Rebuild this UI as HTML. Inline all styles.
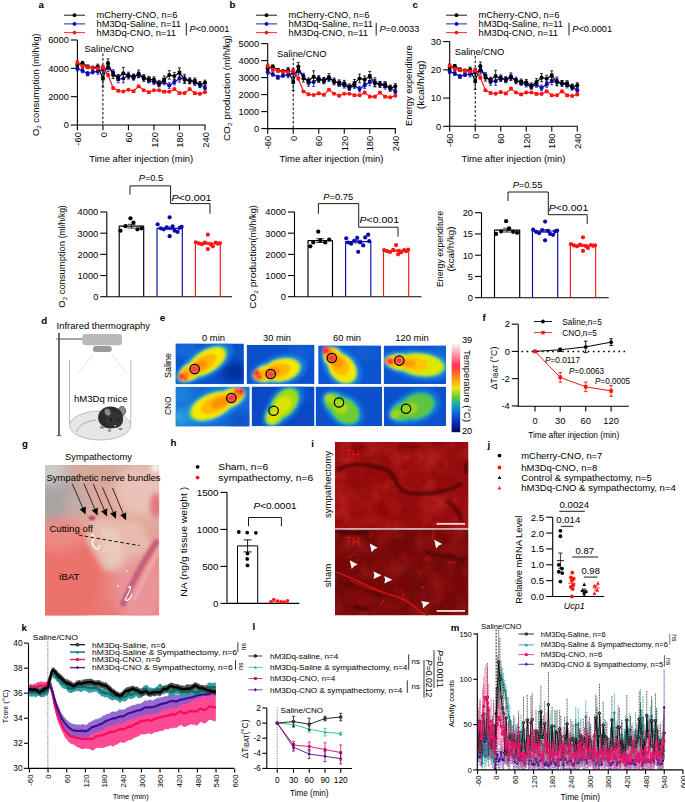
<!DOCTYPE html>
<html><head><meta charset="utf-8"><title>Figure</title>
<style>
html,body{margin:0;padding:0;background:#fff;}
svg{display:block;font-family:"Liberation Sans",sans-serif;}
</style></head><body>
<svg width="685" height="802" viewBox="0 0 685 802" shape-rendering="geometricPrecision">
<rect x="0" y="0" width="685" height="802" fill="#fff"/>
<text x="38.5" y="7.57" font-size="9.7" font-weight="bold">a</text>
<line x1="64" y1="15.2" x2="85" y2="15.2" stroke="#000" stroke-width="0.9"/>
<circle cx="74.5" cy="15.2" r="1.9" fill="#000" stroke="none" stroke-width="0"/>
<text x="96.5" y="18.28" font-size="8.6" textLength="81" lengthAdjust="spacingAndGlyphs">mCherry-CNO, n=6</text>
<line x1="64" y1="23.9" x2="85" y2="23.9" stroke="#0a0aa8" stroke-width="0.9"/>
<circle cx="74.5" cy="23.9" r="1.9" fill="#0a0aa8" stroke="none" stroke-width="0"/>
<text x="96.5" y="26.98" font-size="8.6" textLength="84.5" lengthAdjust="spacingAndGlyphs">hM3Dq-Saline, n=11</text>
<line x1="64" y1="32.6" x2="85" y2="32.6" stroke="#ff1414" stroke-width="0.9"/>
<circle cx="74.5" cy="32.6" r="1.9" fill="#ff1414" stroke="none" stroke-width="0"/>
<text x="96.5" y="35.68" font-size="8.6" textLength="79.5" lengthAdjust="spacingAndGlyphs">hM3Dq-CNO, n=11</text>
<line x1="186.3" y1="22.8" x2="186.3" y2="35.5" stroke="#000" stroke-width="0.9"/>
<text x="189.5" y="31.75" font-size="8.8" textLength="40" lengthAdjust="spacingAndGlyphs"><tspan font-style="italic">P</tspan>&lt;0.0001</text>
<line x1="77.4" y1="40" x2="77.4" y2="125" stroke="#000" stroke-width="1.1"/>
<line x1="76.95" y1="125" x2="205.45" y2="125" stroke="#000" stroke-width="1.1"/>
<line x1="70.9" y1="125" x2="77.4" y2="125" stroke="#000" stroke-width="1.1"/>
<text x="68.9" y="128.33" font-size="9.3" text-anchor="end">0</text>
<line x1="70.9" y1="96.67" x2="77.4" y2="96.67" stroke="#000" stroke-width="1.1"/>
<text x="68.9" y="100" font-size="9.3" text-anchor="end">2000</text>
<line x1="70.9" y1="68.33" x2="77.4" y2="68.33" stroke="#000" stroke-width="1.1"/>
<text x="68.9" y="71.66" font-size="9.3" text-anchor="end">4000</text>
<line x1="70.9" y1="40" x2="77.4" y2="40" stroke="#000" stroke-width="1.1"/>
<text x="68.9" y="43.33" font-size="9.3" text-anchor="end">6000</text>
<line x1="77.4" y1="125" x2="77.4" y2="130.2" stroke="#000" stroke-width="1.1"/>
<text transform="translate(77.7 132.2) rotate(-90)" x="0" y="3.33" font-size="9.3" text-anchor="end">-60</text>
<line x1="102.92" y1="125" x2="102.92" y2="130.2" stroke="#000" stroke-width="1.1"/>
<text transform="translate(103.22 132.2) rotate(-90)" x="0" y="3.33" font-size="9.3" text-anchor="end">0</text>
<line x1="128.44" y1="125" x2="128.44" y2="130.2" stroke="#000" stroke-width="1.1"/>
<text transform="translate(128.74 132.2) rotate(-90)" x="0" y="3.33" font-size="9.3" text-anchor="end">60</text>
<line x1="153.96" y1="125" x2="153.96" y2="130.2" stroke="#000" stroke-width="1.1"/>
<text transform="translate(154.26 132.2) rotate(-90)" x="0" y="3.33" font-size="9.3" text-anchor="end">120</text>
<line x1="179.48" y1="125" x2="179.48" y2="130.2" stroke="#000" stroke-width="1.1"/>
<text transform="translate(179.78 132.2) rotate(-90)" x="0" y="3.33" font-size="9.3" text-anchor="end">180</text>
<line x1="205" y1="125" x2="205" y2="130.2" stroke="#000" stroke-width="1.1"/>
<text transform="translate(205.3 132.2) rotate(-90)" x="0" y="3.33" font-size="9.3" text-anchor="end">240</text>
<text x="141.2" y="162.41" font-size="8.7" text-anchor="middle" textLength="104" lengthAdjust="spacingAndGlyphs">Time after injection (min)</text>
<text transform="translate(35.5 84.8) rotate(-90)" x="0" y="3.29" font-size="9.2" text-anchor="middle" textLength="102.5" lengthAdjust="spacingAndGlyphs">O<tspan font-size="6" dy="1.8">2</tspan><tspan dy="-1.8"> </tspan>consumption <tspan font-size="8.3">(ml/h/kg)</tspan></text>
<text x="84.62" y="52.45" font-size="8.8" textLength="49.5" lengthAdjust="spacingAndGlyphs">Saline/CNO</text>
<line x1="102.92" y1="53.5" x2="102.92" y2="125" stroke="#000" stroke-width="1" stroke-dasharray="2.6 1.9"/>
<path d="M77.4 66.44V70.69M75.9 66.44H78.9M75.9 70.69H78.9M82.5 68.56V72.81M81 68.56H84M81 72.81H84M87.61 71.63V75.88M86.11 71.63H89.11M86.11 75.88H89.11M92.71 70.4V73.8M91.21 70.4H94.21M91.21 73.8H94.21M97.82 68.56V74.23M96.32 68.56H99.32M96.32 74.23H99.32M102.92 65.26V73.76M101.42 65.26H104.42M101.42 73.76H104.42M108.02 64.31V71.39M106.52 64.31H109.52M106.52 71.39H109.52M113.13 69.75V75.42M111.63 69.75H114.63M111.63 75.42H114.63M118.23 75.66V82.74M116.73 75.66H119.73M116.73 82.74H119.73M123.34 74.24V82.74M121.84 74.24H124.84M121.84 82.74H124.84M128.44 72.1V77.77M126.94 72.1H129.94M126.94 77.77H129.94M133.54 74.47V80.13M132.04 74.47H135.04M132.04 80.13H135.04M138.65 72.1V77.77M137.15 72.1H140.15M137.15 77.77H140.15M143.75 74.47V80.13M142.25 74.47H145.25M142.25 80.13H145.25M148.86 77.83V82.92M147.36 77.83H150.36M147.36 82.92H150.36M153.96 79.47V84.57M152.46 79.47H155.46M152.46 84.57H155.46M159.06 81.83V86.93M157.56 81.83H160.56M157.56 86.93H160.56M164.17 79.19V84.85M162.67 79.19H165.67M162.67 84.85H165.67M169.27 82.73V88.39M167.77 82.73H170.77M167.77 88.39H170.77M174.38 79.19V84.85M172.88 79.19H175.88M172.88 84.85H175.88M179.48 74.81V82.17M177.98 74.81H180.98M177.98 82.17H180.98M184.58 74.24V82.74M183.08 74.24H186.08M183.08 82.74H186.08M189.69 78.01V83.68M188.19 78.01H191.19M188.19 83.68H191.19M194.79 79.89V85.56M193.29 79.89H196.29M193.29 85.56H196.29M199.9 81.55V87.22M198.4 81.55H201.4M198.4 87.22H201.4M205 85.8V90.05M203.5 85.8H206.5M203.5 90.05H206.5" fill="none" stroke="#0a0aa8" stroke-width="0.8"/>
<polyline points="77.4,68.56 82.5,70.69 87.61,73.76 92.71,72.1 97.82,71.39 102.92,69.51 108.02,67.85 113.13,72.58 118.23,79.2 123.34,78.49 128.44,74.94 133.54,77.3 138.65,74.94 143.75,77.3 148.86,80.38 153.96,82.02 159.06,84.38 164.17,82.02 169.27,85.56 174.38,82.02 179.48,78.49 184.58,78.49 189.69,80.84 194.79,82.73 199.9,84.38 205,87.93" fill="none" stroke="#0a0aa8" stroke-width="1.15" stroke-linejoin="round"/>
<circle cx="77.4" cy="68.56" r="2.05" fill="#0a0aa8" stroke="none" stroke-width="0"/>
<circle cx="82.5" cy="70.69" r="2.05" fill="#0a0aa8" stroke="none" stroke-width="0"/>
<rect x="85.76" y="71.91" width="3.7" height="3.7" fill="#0a0aa8" stroke="none" stroke-width="0" rx="0"/>
<circle cx="92.71" cy="72.1" r="2.05" fill="#0a0aa8" stroke="none" stroke-width="0"/>
<circle cx="97.82" cy="71.39" r="2.05" fill="#0a0aa8" stroke="none" stroke-width="0"/>
<rect x="101.07" y="67.66" width="3.7" height="3.7" fill="#0a0aa8" stroke="none" stroke-width="0" rx="0"/>
<circle cx="108.02" cy="67.85" r="2.05" fill="#0a0aa8" stroke="none" stroke-width="0"/>
<circle cx="113.13" cy="72.58" r="2.05" fill="#0a0aa8" stroke="none" stroke-width="0"/>
<rect x="116.38" y="77.35" width="3.7" height="3.7" fill="#0a0aa8" stroke="none" stroke-width="0" rx="0"/>
<circle cx="123.34" cy="78.49" r="2.05" fill="#0a0aa8" stroke="none" stroke-width="0"/>
<circle cx="128.44" cy="74.94" r="2.05" fill="#0a0aa8" stroke="none" stroke-width="0"/>
<rect x="131.69" y="75.45" width="3.7" height="3.7" fill="#0a0aa8" stroke="none" stroke-width="0" rx="0"/>
<circle cx="138.65" cy="74.94" r="2.05" fill="#0a0aa8" stroke="none" stroke-width="0"/>
<circle cx="143.75" cy="77.3" r="2.05" fill="#0a0aa8" stroke="none" stroke-width="0"/>
<rect x="147.01" y="78.53" width="3.7" height="3.7" fill="#0a0aa8" stroke="none" stroke-width="0" rx="0"/>
<circle cx="153.96" cy="82.02" r="2.05" fill="#0a0aa8" stroke="none" stroke-width="0"/>
<circle cx="159.06" cy="84.38" r="2.05" fill="#0a0aa8" stroke="none" stroke-width="0"/>
<rect x="162.32" y="80.17" width="3.7" height="3.7" fill="#0a0aa8" stroke="none" stroke-width="0" rx="0"/>
<circle cx="169.27" cy="85.56" r="2.05" fill="#0a0aa8" stroke="none" stroke-width="0"/>
<circle cx="174.38" cy="82.02" r="2.05" fill="#0a0aa8" stroke="none" stroke-width="0"/>
<rect x="177.63" y="76.64" width="3.7" height="3.7" fill="#0a0aa8" stroke="none" stroke-width="0" rx="0"/>
<circle cx="184.58" cy="78.49" r="2.05" fill="#0a0aa8" stroke="none" stroke-width="0"/>
<circle cx="189.69" cy="80.84" r="2.05" fill="#0a0aa8" stroke="none" stroke-width="0"/>
<rect x="192.94" y="80.88" width="3.7" height="3.7" fill="#0a0aa8" stroke="none" stroke-width="0" rx="0"/>
<circle cx="199.9" cy="84.38" r="2.05" fill="#0a0aa8" stroke="none" stroke-width="0"/>
<circle cx="205" cy="87.93" r="2.05" fill="#0a0aa8" stroke="none" stroke-width="0"/>
<path d="M77.4 62.67V66.92M75.9 62.67H78.9M75.9 66.92H78.9M82.5 61.43V64.83M81 61.43H84M81 64.83H84M87.61 64.98V68.38M86.11 64.98H89.11M86.11 68.38H89.11M92.71 66.17V69.57M91.21 66.17H94.21M91.21 69.57H94.21M97.82 64.13V69.23M96.32 64.13H99.32M96.32 69.23H99.32M102.92 69.99V86.99M101.42 69.99H104.42M101.42 86.99H104.42M108.02 58.88V67.38M106.52 58.88H109.52M106.52 67.38H109.52M113.13 71.39V78.48M111.63 71.39H114.63M111.63 78.48H114.63M118.23 74.47V80.13M116.73 74.47H119.73M116.73 80.13H119.73M123.34 67.34V79.24M121.84 67.34H124.84M121.84 79.24H124.84M128.44 73.29V78.96M126.94 73.29H129.94M126.94 78.96H129.94M133.54 74V79.67M132.04 74H135.04M132.04 79.67H135.04M138.65 70.08V77.44M137.15 70.08H140.15M137.15 77.44H140.15M143.75 75.66V81.32M142.25 75.66H145.25M142.25 81.32H145.25M148.86 76.37V82.03M147.36 76.37H150.36M147.36 82.03H150.36M153.96 76.83V82.5M152.46 76.83H155.46M152.46 82.5H155.46M159.06 80.38V86.04M157.56 80.38H160.56M157.56 86.04H160.56M164.17 75.98V83.35M162.67 75.98H165.67M162.67 83.35H165.67M169.27 70.69V79.19M167.77 70.69H170.77M167.77 79.19H170.77M174.38 72.44V79.81M172.88 72.44H175.88M172.88 79.81H175.88M179.48 67.91V77.26M177.98 67.91H180.98M177.98 77.26H180.98M184.58 75.98V83.35M183.08 75.98H186.08M183.08 83.35H186.08M189.69 78.01V83.68M188.19 78.01H191.19M188.19 83.68H191.19M194.79 78.01V83.68M193.29 78.01H196.29M193.29 83.68H196.29M199.9 82.02V87.68M198.4 82.02H201.4M198.4 87.68H201.4M205 80.18V85.28M203.5 80.18H206.5M203.5 85.28H206.5" fill="none" stroke="#000" stroke-width="0.8"/>
<polyline points="77.4,64.79 82.5,63.13 87.61,66.68 92.71,67.87 97.82,66.68 102.92,78.49 108.02,63.13 113.13,74.94 118.23,77.3 123.34,73.29 128.44,76.12 133.54,76.83 138.65,73.76 143.75,78.49 148.86,79.2 153.96,79.67 159.06,83.21 164.17,79.67 169.27,74.94 174.38,76.12 179.48,72.58 184.58,79.67 189.69,80.84 194.79,80.84 199.9,84.85 205,82.73" fill="none" stroke="#000" stroke-width="1.15" stroke-linejoin="round"/>
<circle cx="77.4" cy="64.79" r="2.05" fill="#000" stroke="none" stroke-width="0"/>
<circle cx="82.5" cy="63.13" r="2.05" fill="#000" stroke="none" stroke-width="0"/>
<rect x="85.76" y="64.83" width="3.7" height="3.7" fill="#000" stroke="none" stroke-width="0" rx="0"/>
<circle cx="92.71" cy="67.87" r="2.05" fill="#000" stroke="none" stroke-width="0"/>
<circle cx="97.82" cy="66.68" r="2.05" fill="#000" stroke="none" stroke-width="0"/>
<rect x="101.07" y="76.64" width="3.7" height="3.7" fill="#000" stroke="none" stroke-width="0" rx="0"/>
<circle cx="108.02" cy="63.13" r="2.05" fill="#000" stroke="none" stroke-width="0"/>
<circle cx="113.13" cy="74.94" r="2.05" fill="#000" stroke="none" stroke-width="0"/>
<rect x="116.38" y="75.45" width="3.7" height="3.7" fill="#000" stroke="none" stroke-width="0" rx="0"/>
<circle cx="123.34" cy="73.29" r="2.05" fill="#000" stroke="none" stroke-width="0"/>
<circle cx="128.44" cy="76.12" r="2.05" fill="#000" stroke="none" stroke-width="0"/>
<rect x="131.69" y="74.98" width="3.7" height="3.7" fill="#000" stroke="none" stroke-width="0" rx="0"/>
<circle cx="138.65" cy="73.76" r="2.05" fill="#000" stroke="none" stroke-width="0"/>
<circle cx="143.75" cy="78.49" r="2.05" fill="#000" stroke="none" stroke-width="0"/>
<rect x="147.01" y="77.35" width="3.7" height="3.7" fill="#000" stroke="none" stroke-width="0" rx="0"/>
<circle cx="153.96" cy="79.67" r="2.05" fill="#000" stroke="none" stroke-width="0"/>
<circle cx="159.06" cy="83.21" r="2.05" fill="#000" stroke="none" stroke-width="0"/>
<rect x="162.32" y="77.82" width="3.7" height="3.7" fill="#000" stroke="none" stroke-width="0" rx="0"/>
<circle cx="169.27" cy="74.94" r="2.05" fill="#000" stroke="none" stroke-width="0"/>
<circle cx="174.38" cy="76.12" r="2.05" fill="#000" stroke="none" stroke-width="0"/>
<rect x="177.63" y="70.73" width="3.7" height="3.7" fill="#000" stroke="none" stroke-width="0" rx="0"/>
<circle cx="184.58" cy="79.67" r="2.05" fill="#000" stroke="none" stroke-width="0"/>
<circle cx="189.69" cy="80.84" r="2.05" fill="#000" stroke="none" stroke-width="0"/>
<rect x="192.94" y="78.99" width="3.7" height="3.7" fill="#000" stroke="none" stroke-width="0" rx="0"/>
<circle cx="199.9" cy="84.85" r="2.05" fill="#000" stroke="none" stroke-width="0"/>
<circle cx="205" cy="82.73" r="2.05" fill="#000" stroke="none" stroke-width="0"/>
<path d="M77.4 60.73V64.13M75.9 60.73H78.9M75.9 64.13H78.9M82.5 64.79V67.63M81 64.79H84M81 67.63H84M87.61 66.25V68.52M86.11 66.25H89.11M86.11 68.52H89.11M92.71 66.96V69.23M91.21 66.96H94.21M91.21 69.23H94.21M97.82 67.43V69.69M96.32 67.43H99.32M96.32 69.69H99.32M102.92 65.68V69.08M101.42 65.68H104.42M101.42 69.08H104.42M108.02 73.23V76.64M106.52 73.23H109.52M106.52 76.64H109.52M113.13 87.08V88.78M111.63 87.08H114.63M111.63 88.78H114.63M118.23 90.05V91.47M116.73 90.05H119.73M116.73 91.47H119.73M123.34 90.76V92.18M121.84 90.76H124.84M121.84 92.18H124.84M128.44 89.1V90.52M126.94 89.1H129.94M126.94 90.52H129.94M133.54 90.52V91.93M132.04 90.52H135.04M132.04 91.93H135.04M138.65 85.56V86.98M137.15 85.56H140.15M137.15 86.98H140.15M143.75 89.58V91M142.25 89.58H145.25M142.25 91H145.25M148.86 91.47V92.88M147.36 91.47H150.36M147.36 92.88H150.36M153.96 89.58V91M152.46 89.58H155.46M152.46 91H155.46M159.06 89.58V91M157.56 89.58H160.56M157.56 91H160.56M164.17 91V92.42M162.67 91H165.67M162.67 92.42H165.67M169.27 91V92.42M167.77 91H170.77M167.77 92.42H170.77M174.38 88.39V89.81M172.88 88.39H175.88M172.88 89.81H175.88M179.48 92.42V93.83M177.98 92.42H180.98M177.98 93.83H180.98M184.58 92.42V93.83M183.08 92.42H186.08M183.08 93.83H186.08M189.69 88.39V89.81M188.19 88.39H191.19M188.19 89.81H191.19M194.79 92.42V93.83M193.29 92.42H196.29M193.29 93.83H196.29M199.9 93.12V94.54M198.4 93.12H201.4M198.4 94.54H201.4M205 91.47V92.88M203.5 91.47H206.5M203.5 92.88H206.5" fill="none" stroke="#ff1414" stroke-width="0.8"/>
<polyline points="77.4,62.43 82.5,66.21 87.61,67.38 92.71,68.09 97.82,68.56 102.92,67.38 108.02,74.94 113.13,87.93 118.23,90.76 123.34,91.47 128.44,89.81 133.54,91.23 138.65,86.27 143.75,90.29 148.86,92.18 153.96,90.29 159.06,90.29 164.17,91.71 169.27,91.71 174.38,89.1 179.48,93.12 184.58,93.12 189.69,89.1 194.79,93.12 199.9,93.83 205,92.18" fill="none" stroke="#ff1414" stroke-width="1.15" stroke-linejoin="round"/>
<circle cx="77.4" cy="62.43" r="2.05" fill="#ff1414" stroke="none" stroke-width="0"/>
<circle cx="82.5" cy="66.21" r="2.05" fill="#ff1414" stroke="none" stroke-width="0"/>
<rect x="85.76" y="65.53" width="3.7" height="3.7" fill="#ff1414" stroke="none" stroke-width="0" rx="0"/>
<circle cx="92.71" cy="68.09" r="2.05" fill="#ff1414" stroke="none" stroke-width="0"/>
<circle cx="97.82" cy="68.56" r="2.05" fill="#ff1414" stroke="none" stroke-width="0"/>
<rect x="101.07" y="65.53" width="3.7" height="3.7" fill="#ff1414" stroke="none" stroke-width="0" rx="0"/>
<circle cx="108.02" cy="74.94" r="2.05" fill="#ff1414" stroke="none" stroke-width="0"/>
<circle cx="113.13" cy="87.93" r="2.05" fill="#ff1414" stroke="none" stroke-width="0"/>
<rect x="116.38" y="88.91" width="3.7" height="3.7" fill="#ff1414" stroke="none" stroke-width="0" rx="0"/>
<circle cx="123.34" cy="91.47" r="2.05" fill="#ff1414" stroke="none" stroke-width="0"/>
<circle cx="128.44" cy="89.81" r="2.05" fill="#ff1414" stroke="none" stroke-width="0"/>
<rect x="131.69" y="89.38" width="3.7" height="3.7" fill="#ff1414" stroke="none" stroke-width="0" rx="0"/>
<circle cx="138.65" cy="86.27" r="2.05" fill="#ff1414" stroke="none" stroke-width="0"/>
<circle cx="143.75" cy="90.29" r="2.05" fill="#ff1414" stroke="none" stroke-width="0"/>
<rect x="147.01" y="90.33" width="3.7" height="3.7" fill="#ff1414" stroke="none" stroke-width="0" rx="0"/>
<circle cx="153.96" cy="90.29" r="2.05" fill="#ff1414" stroke="none" stroke-width="0"/>
<circle cx="159.06" cy="90.29" r="2.05" fill="#ff1414" stroke="none" stroke-width="0"/>
<rect x="162.32" y="89.86" width="3.7" height="3.7" fill="#ff1414" stroke="none" stroke-width="0" rx="0"/>
<circle cx="169.27" cy="91.71" r="2.05" fill="#ff1414" stroke="none" stroke-width="0"/>
<circle cx="174.38" cy="89.1" r="2.05" fill="#ff1414" stroke="none" stroke-width="0"/>
<rect x="177.63" y="91.28" width="3.7" height="3.7" fill="#ff1414" stroke="none" stroke-width="0" rx="0"/>
<circle cx="184.58" cy="93.12" r="2.05" fill="#ff1414" stroke="none" stroke-width="0"/>
<circle cx="189.69" cy="89.1" r="2.05" fill="#ff1414" stroke="none" stroke-width="0"/>
<rect x="192.94" y="91.28" width="3.7" height="3.7" fill="#ff1414" stroke="none" stroke-width="0" rx="0"/>
<circle cx="199.9" cy="93.83" r="2.05" fill="#ff1414" stroke="none" stroke-width="0"/>
<circle cx="205" cy="92.18" r="2.05" fill="#ff1414" stroke="none" stroke-width="0"/>
<text x="229.5" y="7.57" font-size="9.7" font-weight="bold">b</text>
<line x1="256" y1="15.2" x2="277" y2="15.2" stroke="#000" stroke-width="0.9"/>
<circle cx="266.5" cy="15.2" r="1.9" fill="#000" stroke="none" stroke-width="0"/>
<text x="288.5" y="18.28" font-size="8.6" textLength="81" lengthAdjust="spacingAndGlyphs">mCherry-CNO, n=6</text>
<line x1="256" y1="23.9" x2="277" y2="23.9" stroke="#0a0aa8" stroke-width="0.9"/>
<circle cx="266.5" cy="23.9" r="1.9" fill="#0a0aa8" stroke="none" stroke-width="0"/>
<text x="288.5" y="26.98" font-size="8.6" textLength="84.5" lengthAdjust="spacingAndGlyphs">hM3Dq-Saline, n=11</text>
<line x1="256" y1="32.6" x2="277" y2="32.6" stroke="#ff1414" stroke-width="0.9"/>
<circle cx="266.5" cy="32.6" r="1.9" fill="#ff1414" stroke="none" stroke-width="0"/>
<text x="288.5" y="35.68" font-size="8.6" textLength="79.5" lengthAdjust="spacingAndGlyphs">hM3Dq-CNO, n=11</text>
<line x1="376.2" y1="22.8" x2="376.2" y2="35.5" stroke="#000" stroke-width="0.9"/>
<text x="379.4" y="31.75" font-size="8.8" textLength="40" lengthAdjust="spacingAndGlyphs"><tspan font-style="italic">P</tspan>=0.0033</text>
<line x1="267.7" y1="43.6" x2="267.7" y2="128.6" stroke="#000" stroke-width="1.1"/>
<line x1="267.25" y1="128.6" x2="395.75" y2="128.6" stroke="#000" stroke-width="1.1"/>
<line x1="261.2" y1="128.6" x2="267.7" y2="128.6" stroke="#000" stroke-width="1.1"/>
<text x="259.2" y="131.93" font-size="9.3" text-anchor="end">0</text>
<line x1="261.2" y1="111.6" x2="267.7" y2="111.6" stroke="#000" stroke-width="1.1"/>
<text x="259.2" y="114.93" font-size="9.3" text-anchor="end">1000</text>
<line x1="261.2" y1="94.6" x2="267.7" y2="94.6" stroke="#000" stroke-width="1.1"/>
<text x="259.2" y="97.93" font-size="9.3" text-anchor="end">2000</text>
<line x1="261.2" y1="77.6" x2="267.7" y2="77.6" stroke="#000" stroke-width="1.1"/>
<text x="259.2" y="80.93" font-size="9.3" text-anchor="end">3000</text>
<line x1="261.2" y1="60.6" x2="267.7" y2="60.6" stroke="#000" stroke-width="1.1"/>
<text x="259.2" y="63.93" font-size="9.3" text-anchor="end">4000</text>
<line x1="261.2" y1="43.6" x2="267.7" y2="43.6" stroke="#000" stroke-width="1.1"/>
<text x="259.2" y="46.93" font-size="9.3" text-anchor="end">5000</text>
<line x1="267.7" y1="128.6" x2="267.7" y2="133.8" stroke="#000" stroke-width="1.1"/>
<text transform="translate(268 135.8) rotate(-90)" x="0" y="3.33" font-size="9.3" text-anchor="end">-60</text>
<line x1="293.22" y1="128.6" x2="293.22" y2="133.8" stroke="#000" stroke-width="1.1"/>
<text transform="translate(293.52 135.8) rotate(-90)" x="0" y="3.33" font-size="9.3" text-anchor="end">0</text>
<line x1="318.74" y1="128.6" x2="318.74" y2="133.8" stroke="#000" stroke-width="1.1"/>
<text transform="translate(319.04 135.8) rotate(-90)" x="0" y="3.33" font-size="9.3" text-anchor="end">60</text>
<line x1="344.26" y1="128.6" x2="344.26" y2="133.8" stroke="#000" stroke-width="1.1"/>
<text transform="translate(344.56 135.8) rotate(-90)" x="0" y="3.33" font-size="9.3" text-anchor="end">120</text>
<line x1="369.78" y1="128.6" x2="369.78" y2="133.8" stroke="#000" stroke-width="1.1"/>
<text transform="translate(370.08 135.8) rotate(-90)" x="0" y="3.33" font-size="9.3" text-anchor="end">180</text>
<line x1="395.3" y1="128.6" x2="395.3" y2="133.8" stroke="#000" stroke-width="1.1"/>
<text transform="translate(395.6 135.8) rotate(-90)" x="0" y="3.33" font-size="9.3" text-anchor="end">240</text>
<text x="331.5" y="162.41" font-size="8.7" text-anchor="middle" textLength="104" lengthAdjust="spacingAndGlyphs">Time after injection (min)</text>
<text transform="translate(226.5 88.1) rotate(-90)" x="0" y="3.29" font-size="9.2" text-anchor="middle" textLength="106" lengthAdjust="spacingAndGlyphs">CO<tspan font-size="6" dy="1.8">2</tspan><tspan dy="-1.8"> </tspan>production <tspan font-size="8.3">(ml/h/kg)</tspan></text>
<text x="277.02" y="56.75" font-size="8.8" textLength="49.5" lengthAdjust="spacingAndGlyphs">Saline/CNO</text>
<line x1="293.22" y1="58" x2="293.22" y2="128.6" stroke="#000" stroke-width="1" stroke-dasharray="2.6 1.9"/>
<path d="M267.7 69.92V74.18M266.2 69.92H269.2M266.2 74.18H269.2M272.8 72.05V76.31M271.3 72.05H274.3M271.3 76.31H274.3M277.91 75.13V79.39M276.41 75.13H279.41M276.41 79.39H279.41M283.01 73.89V77.3M281.51 73.89H284.51M281.51 77.3H284.51M288.12 72.05V77.73M286.62 72.05H289.62M286.62 77.73H289.62M293.22 68.74V77.26M291.72 68.74H294.72M291.72 77.26H294.72M298.32 67.79V74.89M296.82 67.79H299.82M296.82 74.89H299.82M303.43 73.24V78.92M301.93 73.24H304.93M301.93 78.92H304.93M308.53 79.16V86.26M307.03 79.16H310.03M307.03 86.26H310.03M313.64 77.74V86.26M312.14 77.74H315.14M312.14 86.26H315.14M318.74 75.6V81.27M317.24 75.6H320.24M317.24 81.27H320.24M323.84 77.97V83.64M322.34 77.97H325.34M322.34 83.64H325.34M328.95 75.6V81.27M327.45 75.6H330.45M327.45 81.27H330.45M334.05 77.97V83.64M332.55 77.97H335.55M332.55 83.64H335.55M339.16 81.33V86.44M337.66 81.33H340.66M337.66 86.44H340.66M344.26 82.98V88.09M342.76 82.98H345.76M342.76 88.09H345.76M349.36 85.35V90.46M347.86 85.35H350.86M347.86 90.46H350.86M354.47 82.69V88.37M352.97 82.69H355.97M352.97 88.37H355.97M359.57 86.24V91.92M358.07 86.24H361.07M358.07 91.92H361.07M364.68 82.69V88.37M363.18 82.69H366.18M363.18 88.37H366.18M369.78 78.31V85.69M368.28 78.31H371.28M368.28 85.69H371.28M374.88 77.74V86.26M373.38 77.74H376.38M373.38 86.26H376.38M379.99 81.52V87.19M378.49 81.52H381.49M378.49 87.19H381.49M385.09 83.4V89.08M383.59 83.4H386.59M383.59 89.08H386.59M390.2 85.06V90.74M388.7 85.06H391.7M388.7 90.74H391.7M395.3 89.32V93.58M393.8 89.32H396.8M393.8 93.58H396.8" fill="none" stroke="#0a0aa8" stroke-width="0.8"/>
<polyline points="267.7,72.05 272.8,74.18 277.91,77.26 283.01,75.6 288.12,74.89 293.22,73 298.32,71.34 303.43,76.08 308.53,82.71 313.64,82 318.74,78.43 323.84,80.81 328.95,78.43 334.05,80.81 339.16,83.89 344.26,85.53 349.36,87.9 354.47,85.53 359.57,89.08 364.68,85.53 369.78,82 374.88,82 379.99,84.35 385.09,86.24 390.2,87.9 395.3,91.45" fill="none" stroke="#0a0aa8" stroke-width="1.15" stroke-linejoin="round"/>
<circle cx="267.7" cy="72.05" r="2.05" fill="#0a0aa8" stroke="none" stroke-width="0"/>
<circle cx="272.8" cy="74.18" r="2.05" fill="#0a0aa8" stroke="none" stroke-width="0"/>
<rect x="276.06" y="75.41" width="3.7" height="3.7" fill="#0a0aa8" stroke="none" stroke-width="0" rx="0"/>
<circle cx="283.01" cy="75.6" r="2.05" fill="#0a0aa8" stroke="none" stroke-width="0"/>
<circle cx="288.12" cy="74.89" r="2.05" fill="#0a0aa8" stroke="none" stroke-width="0"/>
<rect x="291.37" y="71.15" width="3.7" height="3.7" fill="#0a0aa8" stroke="none" stroke-width="0" rx="0"/>
<circle cx="298.32" cy="71.34" r="2.05" fill="#0a0aa8" stroke="none" stroke-width="0"/>
<circle cx="303.43" cy="76.08" r="2.05" fill="#0a0aa8" stroke="none" stroke-width="0"/>
<rect x="306.68" y="80.86" width="3.7" height="3.7" fill="#0a0aa8" stroke="none" stroke-width="0" rx="0"/>
<circle cx="313.64" cy="82" r="2.05" fill="#0a0aa8" stroke="none" stroke-width="0"/>
<circle cx="318.74" cy="78.43" r="2.05" fill="#0a0aa8" stroke="none" stroke-width="0"/>
<rect x="321.99" y="78.96" width="3.7" height="3.7" fill="#0a0aa8" stroke="none" stroke-width="0" rx="0"/>
<circle cx="328.95" cy="78.43" r="2.05" fill="#0a0aa8" stroke="none" stroke-width="0"/>
<circle cx="334.05" cy="80.81" r="2.05" fill="#0a0aa8" stroke="none" stroke-width="0"/>
<rect x="337.31" y="82.04" width="3.7" height="3.7" fill="#0a0aa8" stroke="none" stroke-width="0" rx="0"/>
<circle cx="344.26" cy="85.53" r="2.05" fill="#0a0aa8" stroke="none" stroke-width="0"/>
<circle cx="349.36" cy="87.9" r="2.05" fill="#0a0aa8" stroke="none" stroke-width="0"/>
<rect x="352.62" y="83.68" width="3.7" height="3.7" fill="#0a0aa8" stroke="none" stroke-width="0" rx="0"/>
<circle cx="359.57" cy="89.08" r="2.05" fill="#0a0aa8" stroke="none" stroke-width="0"/>
<circle cx="364.68" cy="85.53" r="2.05" fill="#0a0aa8" stroke="none" stroke-width="0"/>
<rect x="367.93" y="80.15" width="3.7" height="3.7" fill="#0a0aa8" stroke="none" stroke-width="0" rx="0"/>
<circle cx="374.88" cy="82" r="2.05" fill="#0a0aa8" stroke="none" stroke-width="0"/>
<circle cx="379.99" cy="84.35" r="2.05" fill="#0a0aa8" stroke="none" stroke-width="0"/>
<rect x="383.24" y="84.39" width="3.7" height="3.7" fill="#0a0aa8" stroke="none" stroke-width="0" rx="0"/>
<circle cx="390.2" cy="87.9" r="2.05" fill="#0a0aa8" stroke="none" stroke-width="0"/>
<circle cx="395.3" cy="91.45" r="2.05" fill="#0a0aa8" stroke="none" stroke-width="0"/>
<path d="M267.7 66.14V70.4M266.2 66.14H269.2M266.2 70.4H269.2M272.8 64.91V68.31M271.3 64.91H274.3M271.3 68.31H274.3M277.91 68.46V71.86M276.41 68.46H279.41M276.41 71.86H279.41M283.01 69.65V73.05M281.51 69.65H284.51M281.51 73.05H284.51M288.12 67.6V72.71M286.62 67.6H289.62M286.62 72.71H289.62M293.22 73.48V90.51M291.72 73.48H294.72M291.72 90.51H294.72M298.32 62.35V70.87M296.82 62.35H299.82M296.82 70.87H299.82M303.43 74.89V81.98M301.93 74.89H304.93M301.93 81.98H304.93M308.53 77.97V83.64M307.03 77.97H310.03M307.03 83.64H310.03M313.64 70.83V82.75M312.14 70.83H315.14M312.14 82.75H315.14M318.74 76.79V82.47M317.24 76.79H320.24M317.24 82.47H320.24M323.84 77.5V83.18M322.34 77.5H325.34M322.34 83.18H325.34M328.95 73.57V80.95M327.45 73.57H330.45M327.45 80.95H330.45M334.05 79.16V84.84M332.55 79.16H335.55M332.55 84.84H335.55M339.16 79.87V85.55M337.66 79.87H340.66M337.66 85.55H340.66M344.26 80.34V86.01M342.76 80.34H345.76M342.76 86.01H345.76M349.36 83.89V89.56M347.86 83.89H350.86M347.86 89.56H350.86M354.47 79.49V86.87M352.97 79.49H355.97M352.97 86.87H355.97M359.57 74.18V82.69M358.07 74.18H361.07M358.07 82.69H361.07M364.68 75.94V83.32M363.18 75.94H366.18M363.18 83.32H366.18M369.78 71.39V80.76M368.28 71.39H371.28M368.28 80.76H371.28M374.88 79.49V86.87M373.38 79.49H376.38M373.38 86.87H376.38M379.99 81.52V87.19M378.49 81.52H381.49M378.49 87.19H381.49M385.09 81.52V87.19M383.59 81.52H386.59M383.59 87.19H386.59M390.2 85.53V91.21M388.7 85.53H391.7M388.7 91.21H391.7M395.3 83.69V88.8M393.8 83.69H396.8M393.8 88.8H396.8" fill="none" stroke="#000" stroke-width="0.8"/>
<polyline points="267.7,68.27 272.8,66.61 277.91,70.16 283.01,71.35 288.12,70.16 293.22,82 298.32,66.61 303.43,78.43 308.53,80.81 313.64,76.79 318.74,79.63 323.84,80.34 328.95,77.26 334.05,82 339.16,82.71 344.26,83.18 349.36,86.72 354.47,83.18 359.57,78.43 364.68,79.63 369.78,76.08 374.88,83.18 379.99,84.35 385.09,84.35 390.2,88.37 395.3,86.24" fill="none" stroke="#000" stroke-width="1.15" stroke-linejoin="round"/>
<circle cx="267.7" cy="68.27" r="2.05" fill="#000" stroke="none" stroke-width="0"/>
<circle cx="272.8" cy="66.61" r="2.05" fill="#000" stroke="none" stroke-width="0"/>
<rect x="276.06" y="68.31" width="3.7" height="3.7" fill="#000" stroke="none" stroke-width="0" rx="0"/>
<circle cx="283.01" cy="71.35" r="2.05" fill="#000" stroke="none" stroke-width="0"/>
<circle cx="288.12" cy="70.16" r="2.05" fill="#000" stroke="none" stroke-width="0"/>
<rect x="291.37" y="80.15" width="3.7" height="3.7" fill="#000" stroke="none" stroke-width="0" rx="0"/>
<circle cx="298.32" cy="66.61" r="2.05" fill="#000" stroke="none" stroke-width="0"/>
<circle cx="303.43" cy="78.43" r="2.05" fill="#000" stroke="none" stroke-width="0"/>
<rect x="306.68" y="78.96" width="3.7" height="3.7" fill="#000" stroke="none" stroke-width="0" rx="0"/>
<circle cx="313.64" cy="76.79" r="2.05" fill="#000" stroke="none" stroke-width="0"/>
<circle cx="318.74" cy="79.63" r="2.05" fill="#000" stroke="none" stroke-width="0"/>
<rect x="321.99" y="78.49" width="3.7" height="3.7" fill="#000" stroke="none" stroke-width="0" rx="0"/>
<circle cx="328.95" cy="77.26" r="2.05" fill="#000" stroke="none" stroke-width="0"/>
<circle cx="334.05" cy="82" r="2.05" fill="#000" stroke="none" stroke-width="0"/>
<rect x="337.31" y="80.86" width="3.7" height="3.7" fill="#000" stroke="none" stroke-width="0" rx="0"/>
<circle cx="344.26" cy="83.18" r="2.05" fill="#000" stroke="none" stroke-width="0"/>
<circle cx="349.36" cy="86.72" r="2.05" fill="#000" stroke="none" stroke-width="0"/>
<rect x="352.62" y="81.33" width="3.7" height="3.7" fill="#000" stroke="none" stroke-width="0" rx="0"/>
<circle cx="359.57" cy="78.43" r="2.05" fill="#000" stroke="none" stroke-width="0"/>
<circle cx="364.68" cy="79.63" r="2.05" fill="#000" stroke="none" stroke-width="0"/>
<rect x="367.93" y="74.23" width="3.7" height="3.7" fill="#000" stroke="none" stroke-width="0" rx="0"/>
<circle cx="374.88" cy="83.18" r="2.05" fill="#000" stroke="none" stroke-width="0"/>
<circle cx="379.99" cy="84.35" r="2.05" fill="#000" stroke="none" stroke-width="0"/>
<rect x="383.24" y="82.5" width="3.7" height="3.7" fill="#000" stroke="none" stroke-width="0" rx="0"/>
<circle cx="390.2" cy="88.37" r="2.05" fill="#000" stroke="none" stroke-width="0"/>
<circle cx="395.3" cy="86.24" r="2.05" fill="#000" stroke="none" stroke-width="0"/>
<path d="M267.7 64.2V67.6M266.2 64.2H269.2M266.2 67.6H269.2M272.8 68.27V71.11M271.3 68.27H274.3M271.3 71.11H274.3M277.91 69.73V72M276.41 69.73H279.41M276.41 72H279.41M283.01 70.44V72.71M281.51 70.44H284.51M281.51 72.71H284.51M288.12 70.91V73.18M286.62 70.91H289.62M286.62 73.18H289.62M293.22 69.17V72.57M291.72 69.17H294.72M291.72 72.57H294.72M298.32 76.73V80.14M296.82 76.73H299.82M296.82 80.14H299.82M303.43 90.6V92.3M301.93 90.6H304.93M301.93 92.3H304.93M308.53 93.58V95M307.03 93.58H310.03M307.03 95H310.03M313.64 94.29V95.71M312.14 94.29H315.14M312.14 95.71H315.14M318.74 92.63V94.05M317.24 92.63H320.24M317.24 94.05H320.24M323.84 94.05V95.47M322.34 94.05H325.34M322.34 95.47H325.34M328.95 89.08V90.5M327.45 89.08H330.45M327.45 90.5H330.45M334.05 93.11V94.53M332.55 93.11H335.55M332.55 94.53H335.55M339.16 95V96.42M337.66 95H340.66M337.66 96.42H340.66M344.26 93.11V94.53M342.76 93.11H345.76M342.76 94.53H345.76M349.36 93.11V94.53M347.86 93.11H350.86M347.86 94.53H350.86M354.47 94.53V95.95M352.97 94.53H355.97M352.97 95.95H355.97M359.57 94.53V95.95M358.07 94.53H361.07M358.07 95.95H361.07M364.68 91.92V93.34M363.18 91.92H366.18M363.18 93.34H366.18M369.78 95.95V97.37M368.28 95.95H371.28M368.28 97.37H371.28M374.88 95.95V97.37M373.38 95.95H376.38M373.38 97.37H376.38M379.99 91.92V93.34M378.49 91.92H381.49M378.49 93.34H381.49M385.09 95.95V97.37M383.59 95.95H386.59M383.59 97.37H386.59M390.2 96.66V98.08M388.7 96.66H391.7M388.7 98.08H391.7M395.3 95V96.42M393.8 95H396.8M393.8 96.42H396.8" fill="none" stroke="#ff1414" stroke-width="0.8"/>
<polyline points="267.7,65.9 272.8,69.69 277.91,70.87 283.01,71.58 288.12,72.05 293.22,70.87 298.32,78.43 303.43,91.45 308.53,94.29 313.64,95 318.74,93.34 323.84,94.76 328.95,89.79 334.05,93.82 339.16,95.71 344.26,93.82 349.36,93.82 354.47,95.24 359.57,95.24 364.68,92.63 369.78,96.66 374.88,96.66 379.99,92.63 385.09,96.66 390.2,97.37 395.3,95.71" fill="none" stroke="#ff1414" stroke-width="1.15" stroke-linejoin="round"/>
<circle cx="267.7" cy="65.9" r="2.05" fill="#ff1414" stroke="none" stroke-width="0"/>
<circle cx="272.8" cy="69.69" r="2.05" fill="#ff1414" stroke="none" stroke-width="0"/>
<rect x="276.06" y="69.02" width="3.7" height="3.7" fill="#ff1414" stroke="none" stroke-width="0" rx="0"/>
<circle cx="283.01" cy="71.58" r="2.05" fill="#ff1414" stroke="none" stroke-width="0"/>
<circle cx="288.12" cy="72.05" r="2.05" fill="#ff1414" stroke="none" stroke-width="0"/>
<rect x="291.37" y="69.02" width="3.7" height="3.7" fill="#ff1414" stroke="none" stroke-width="0" rx="0"/>
<circle cx="298.32" cy="78.43" r="2.05" fill="#ff1414" stroke="none" stroke-width="0"/>
<circle cx="303.43" cy="91.45" r="2.05" fill="#ff1414" stroke="none" stroke-width="0"/>
<rect x="306.68" y="92.44" width="3.7" height="3.7" fill="#ff1414" stroke="none" stroke-width="0" rx="0"/>
<circle cx="313.64" cy="95" r="2.05" fill="#ff1414" stroke="none" stroke-width="0"/>
<circle cx="318.74" cy="93.34" r="2.05" fill="#ff1414" stroke="none" stroke-width="0"/>
<rect x="321.99" y="92.91" width="3.7" height="3.7" fill="#ff1414" stroke="none" stroke-width="0" rx="0"/>
<circle cx="328.95" cy="89.79" r="2.05" fill="#ff1414" stroke="none" stroke-width="0"/>
<circle cx="334.05" cy="93.82" r="2.05" fill="#ff1414" stroke="none" stroke-width="0"/>
<rect x="337.31" y="93.86" width="3.7" height="3.7" fill="#ff1414" stroke="none" stroke-width="0" rx="0"/>
<circle cx="344.26" cy="93.82" r="2.05" fill="#ff1414" stroke="none" stroke-width="0"/>
<circle cx="349.36" cy="93.82" r="2.05" fill="#ff1414" stroke="none" stroke-width="0"/>
<rect x="352.62" y="93.39" width="3.7" height="3.7" fill="#ff1414" stroke="none" stroke-width="0" rx="0"/>
<circle cx="359.57" cy="95.24" r="2.05" fill="#ff1414" stroke="none" stroke-width="0"/>
<circle cx="364.68" cy="92.63" r="2.05" fill="#ff1414" stroke="none" stroke-width="0"/>
<rect x="367.93" y="94.81" width="3.7" height="3.7" fill="#ff1414" stroke="none" stroke-width="0" rx="0"/>
<circle cx="374.88" cy="96.66" r="2.05" fill="#ff1414" stroke="none" stroke-width="0"/>
<circle cx="379.99" cy="92.63" r="2.05" fill="#ff1414" stroke="none" stroke-width="0"/>
<rect x="383.24" y="94.81" width="3.7" height="3.7" fill="#ff1414" stroke="none" stroke-width="0" rx="0"/>
<circle cx="390.2" cy="97.37" r="2.05" fill="#ff1414" stroke="none" stroke-width="0"/>
<circle cx="395.3" cy="95.71" r="2.05" fill="#ff1414" stroke="none" stroke-width="0"/>
<text x="412.5" y="7.57" font-size="9.7" font-weight="bold">c</text>
<line x1="446" y1="15.2" x2="467" y2="15.2" stroke="#000" stroke-width="0.9"/>
<circle cx="456.5" cy="15.2" r="1.9" fill="#000" stroke="none" stroke-width="0"/>
<text x="478.5" y="18.28" font-size="8.6" textLength="81" lengthAdjust="spacingAndGlyphs">mCherry-CNO, n=6</text>
<line x1="446" y1="23.9" x2="467" y2="23.9" stroke="#0a0aa8" stroke-width="0.9"/>
<circle cx="456.5" cy="23.9" r="1.9" fill="#0a0aa8" stroke="none" stroke-width="0"/>
<text x="478.5" y="26.98" font-size="8.6" textLength="84.5" lengthAdjust="spacingAndGlyphs">hM3Dq-Saline, n=11</text>
<line x1="446" y1="32.6" x2="467" y2="32.6" stroke="#ff1414" stroke-width="0.9"/>
<circle cx="456.5" cy="32.6" r="1.9" fill="#ff1414" stroke="none" stroke-width="0"/>
<text x="478.5" y="35.68" font-size="8.6" textLength="79.5" lengthAdjust="spacingAndGlyphs">hM3Dq-CNO, n=11</text>
<line x1="569" y1="22.8" x2="569" y2="35.5" stroke="#000" stroke-width="0.9"/>
<text x="572.2" y="31.75" font-size="8.8" textLength="40" lengthAdjust="spacingAndGlyphs"><tspan font-style="italic">P</tspan>&lt;0.0001</text>
<line x1="449.7" y1="41.6" x2="449.7" y2="126.3" stroke="#000" stroke-width="1.1"/>
<line x1="449.25" y1="126.3" x2="577.75" y2="126.3" stroke="#000" stroke-width="1.1"/>
<line x1="443.2" y1="126.3" x2="449.7" y2="126.3" stroke="#000" stroke-width="1.1"/>
<text x="441.2" y="129.63" font-size="9.3" text-anchor="end">0</text>
<line x1="443.2" y1="98.07" x2="449.7" y2="98.07" stroke="#000" stroke-width="1.1"/>
<text x="441.2" y="101.4" font-size="9.3" text-anchor="end">10</text>
<line x1="443.2" y1="69.83" x2="449.7" y2="69.83" stroke="#000" stroke-width="1.1"/>
<text x="441.2" y="73.16" font-size="9.3" text-anchor="end">20</text>
<line x1="443.2" y1="41.6" x2="449.7" y2="41.6" stroke="#000" stroke-width="1.1"/>
<text x="441.2" y="44.93" font-size="9.3" text-anchor="end">30</text>
<line x1="449.7" y1="126.3" x2="449.7" y2="131.5" stroke="#000" stroke-width="1.1"/>
<text transform="translate(450 133.5) rotate(-90)" x="0" y="3.33" font-size="9.3" text-anchor="end">-60</text>
<line x1="475.22" y1="126.3" x2="475.22" y2="131.5" stroke="#000" stroke-width="1.1"/>
<text transform="translate(475.52 133.5) rotate(-90)" x="0" y="3.33" font-size="9.3" text-anchor="end">0</text>
<line x1="500.74" y1="126.3" x2="500.74" y2="131.5" stroke="#000" stroke-width="1.1"/>
<text transform="translate(501.04 133.5) rotate(-90)" x="0" y="3.33" font-size="9.3" text-anchor="end">60</text>
<line x1="526.26" y1="126.3" x2="526.26" y2="131.5" stroke="#000" stroke-width="1.1"/>
<text transform="translate(526.56 133.5) rotate(-90)" x="0" y="3.33" font-size="9.3" text-anchor="end">120</text>
<line x1="551.78" y1="126.3" x2="551.78" y2="131.5" stroke="#000" stroke-width="1.1"/>
<text transform="translate(552.08 133.5) rotate(-90)" x="0" y="3.33" font-size="9.3" text-anchor="end">180</text>
<line x1="577.3" y1="126.3" x2="577.3" y2="131.5" stroke="#000" stroke-width="1.1"/>
<text transform="translate(577.6 133.5) rotate(-90)" x="0" y="3.33" font-size="9.3" text-anchor="end">240</text>
<text x="513.5" y="162.41" font-size="8.7" text-anchor="middle" textLength="104" lengthAdjust="spacingAndGlyphs">Time after injection (min)</text>
<text transform="translate(409 85.6) rotate(-90)" x="0" y="3.29" font-size="9.2" text-anchor="middle" textLength="80.6" lengthAdjust="spacingAndGlyphs">Energy expenditure</text>
<text transform="translate(420.8 84.8) rotate(-90)" x="0" y="3.29" font-size="9.2" text-anchor="middle" textLength="48.7" lengthAdjust="spacingAndGlyphs">(kcal/h/kg)</text>
<text x="454.72" y="54.65" font-size="8.8" textLength="49.5" lengthAdjust="spacingAndGlyphs">Saline/CNO</text>
<line x1="475.22" y1="56" x2="475.22" y2="126.3" stroke="#000" stroke-width="1" stroke-dasharray="2.6 1.9"/>
<path d="M449.7 69.37V73.5M448.2 69.37H451.2M448.2 73.5H451.2M454.8 71.43V75.56M453.3 71.43H456.3M453.3 75.56H456.3M459.91 74.42V78.55M458.41 74.42H461.41M458.41 78.55H461.41M465.01 73.22V76.53M463.51 73.22H466.51M463.51 76.53H466.51M470.12 71.43V76.94M468.62 71.43H471.62M468.62 76.94H471.62M475.22 68.22V76.49M473.72 68.22H476.72M473.72 76.49H476.72M480.32 67.3V74.19M478.82 67.3H481.82M478.82 74.19H481.82M485.43 72.59V78.1M483.93 72.59H486.93M483.93 78.1H486.93M490.53 78.33V85.22M489.03 78.33H492.03M489.03 85.22H492.03M495.64 76.95V85.22M494.14 76.95H497.14M494.14 85.22H497.14M500.74 74.87V80.38M499.24 74.87H502.24M499.24 80.38H502.24M505.84 77.17V82.68M504.34 77.17H507.34M504.34 82.68H507.34M510.95 74.87V80.38M509.45 74.87H512.45M509.45 80.38H512.45M516.05 77.17V82.68M514.55 77.17H517.55M514.55 82.68H517.55M521.16 80.44V85.4M519.66 80.44H522.66M519.66 85.4H522.66M526.26 82.04V86.99M524.76 82.04H527.76M524.76 86.99H527.76M531.36 84.34V89.29M529.86 84.34H532.86M529.86 89.29H532.86M536.47 81.76V87.27M534.97 81.76H537.97M534.97 87.27H537.97M541.57 85.2V90.71M540.07 85.2H543.07M540.07 90.71H543.07M546.68 81.76V87.27M545.18 81.76H548.18M545.18 87.27H548.18M551.78 77.5V84.67M550.28 77.5H553.28M550.28 84.67H553.28M556.88 76.95V85.22M555.38 76.95H558.38M555.38 85.22H558.38M561.99 80.62V86.13M560.49 80.62H563.49M560.49 86.13H563.49M567.09 82.45V87.96M565.59 82.45H568.59M565.59 87.96H568.59M572.2 84.06V89.57M570.7 84.06H573.7M570.7 89.57H573.7M577.3 88.19V92.32M575.8 88.19H578.8M575.8 92.32H578.8" fill="none" stroke="#0a0aa8" stroke-width="0.8"/>
<polyline points="449.7,71.43 454.8,73.5 459.91,76.49 465.01,74.87 470.12,74.19 475.22,72.35 480.32,70.74 485.43,75.34 490.53,81.77 495.64,81.09 500.74,77.63 505.84,79.93 510.95,77.63 516.05,79.93 521.16,82.92 526.26,84.51 531.36,86.81 536.47,84.51 541.57,87.96 546.68,84.51 551.78,81.09 556.88,81.09 561.99,83.37 567.09,85.2 572.2,86.81 577.3,90.26" fill="none" stroke="#0a0aa8" stroke-width="1.15" stroke-linejoin="round"/>
<circle cx="449.7" cy="71.43" r="2.05" fill="#0a0aa8" stroke="none" stroke-width="0"/>
<circle cx="454.8" cy="73.5" r="2.05" fill="#0a0aa8" stroke="none" stroke-width="0"/>
<rect x="458.06" y="74.64" width="3.7" height="3.7" fill="#0a0aa8" stroke="none" stroke-width="0" rx="0"/>
<circle cx="465.01" cy="74.87" r="2.05" fill="#0a0aa8" stroke="none" stroke-width="0"/>
<circle cx="470.12" cy="74.19" r="2.05" fill="#0a0aa8" stroke="none" stroke-width="0"/>
<rect x="473.37" y="70.5" width="3.7" height="3.7" fill="#0a0aa8" stroke="none" stroke-width="0" rx="0"/>
<circle cx="480.32" cy="70.74" r="2.05" fill="#0a0aa8" stroke="none" stroke-width="0"/>
<circle cx="485.43" cy="75.34" r="2.05" fill="#0a0aa8" stroke="none" stroke-width="0"/>
<rect x="488.68" y="79.92" width="3.7" height="3.7" fill="#0a0aa8" stroke="none" stroke-width="0" rx="0"/>
<circle cx="495.64" cy="81.09" r="2.05" fill="#0a0aa8" stroke="none" stroke-width="0"/>
<circle cx="500.74" cy="77.63" r="2.05" fill="#0a0aa8" stroke="none" stroke-width="0"/>
<rect x="503.99" y="78.08" width="3.7" height="3.7" fill="#0a0aa8" stroke="none" stroke-width="0" rx="0"/>
<circle cx="510.95" cy="77.63" r="2.05" fill="#0a0aa8" stroke="none" stroke-width="0"/>
<circle cx="516.05" cy="79.93" r="2.05" fill="#0a0aa8" stroke="none" stroke-width="0"/>
<rect x="519.31" y="81.07" width="3.7" height="3.7" fill="#0a0aa8" stroke="none" stroke-width="0" rx="0"/>
<circle cx="526.26" cy="84.51" r="2.05" fill="#0a0aa8" stroke="none" stroke-width="0"/>
<circle cx="531.36" cy="86.81" r="2.05" fill="#0a0aa8" stroke="none" stroke-width="0"/>
<rect x="534.62" y="82.66" width="3.7" height="3.7" fill="#0a0aa8" stroke="none" stroke-width="0" rx="0"/>
<circle cx="541.57" cy="87.96" r="2.05" fill="#0a0aa8" stroke="none" stroke-width="0"/>
<circle cx="546.68" cy="84.51" r="2.05" fill="#0a0aa8" stroke="none" stroke-width="0"/>
<rect x="549.93" y="79.24" width="3.7" height="3.7" fill="#0a0aa8" stroke="none" stroke-width="0" rx="0"/>
<circle cx="556.88" cy="81.09" r="2.05" fill="#0a0aa8" stroke="none" stroke-width="0"/>
<circle cx="561.99" cy="83.37" r="2.05" fill="#0a0aa8" stroke="none" stroke-width="0"/>
<rect x="565.24" y="83.35" width="3.7" height="3.7" fill="#0a0aa8" stroke="none" stroke-width="0" rx="0"/>
<circle cx="572.2" cy="86.81" r="2.05" fill="#0a0aa8" stroke="none" stroke-width="0"/>
<circle cx="577.3" cy="90.26" r="2.05" fill="#0a0aa8" stroke="none" stroke-width="0"/>
<path d="M449.7 65.7V69.83M448.2 65.7H451.2M448.2 69.83H451.2M454.8 64.5V67.81M453.3 64.5H456.3M453.3 67.81H456.3M459.91 67.95V71.25M458.41 67.95H461.41M458.41 71.25H461.41M465.01 69.1V72.41M463.51 69.1H466.51M463.51 72.41H466.51M470.12 67.12V72.08M468.62 67.12H471.62M468.62 72.08H471.62M475.22 72.82V89.35M473.72 72.82H476.72M473.72 89.35H476.72M480.32 62.02V70.29M478.82 62.02H481.82M478.82 70.29H481.82M485.43 74.19V81.07M483.93 74.19H486.93M483.93 81.07H486.93M490.53 77.17V82.68M489.03 77.17H492.03M489.03 82.68H492.03M495.64 70.25V81.82M494.14 70.25H497.14M494.14 81.82H497.14M500.74 76.03V81.54M499.24 76.03H502.24M499.24 81.54H502.24M505.84 76.72V82.23M504.34 76.72H507.34M504.34 82.23H507.34M510.95 72.9V80.07M509.45 72.9H512.45M509.45 80.07H512.45M516.05 78.33V83.84M514.55 78.33H517.55M514.55 83.84H517.55M521.16 79.02V84.53M519.66 79.02H522.66M519.66 84.53H522.66M526.26 79.47V84.98M524.76 79.47H527.76M524.76 84.98H527.76M531.36 82.92V88.43M529.86 82.92H532.86M529.86 88.43H532.86M536.47 78.65V85.81M534.97 78.65H537.97M534.97 85.81H537.97M541.57 73.5V81.76M540.07 73.5H543.07M540.07 81.76H543.07M546.68 75.2V82.37M545.18 75.2H548.18M545.18 82.37H548.18M551.78 70.8V79.89M550.28 70.8H553.28M550.28 79.89H553.28M556.88 78.65V85.81M555.38 78.65H558.38M555.38 85.81H558.38M561.99 80.62V86.13M560.49 80.62H563.49M560.49 86.13H563.49M567.09 80.62V86.13M565.59 80.62H568.59M565.59 86.13H568.59M572.2 84.51V90.02M570.7 84.51H573.7M570.7 90.02H573.7M577.3 82.72V87.68M575.8 82.72H578.8M575.8 87.68H578.8" fill="none" stroke="#000" stroke-width="0.8"/>
<polyline points="449.7,67.77 454.8,66.16 459.91,69.6 465.01,70.76 470.12,69.6 475.22,81.09 480.32,66.16 485.43,77.63 490.53,79.93 495.64,76.03 500.74,78.79 505.84,79.47 510.95,76.49 516.05,81.09 521.16,81.77 526.26,82.23 531.36,85.67 536.47,82.23 541.57,77.63 546.68,78.79 551.78,75.34 556.88,82.23 561.99,83.37 567.09,83.37 572.2,87.27 577.3,85.2" fill="none" stroke="#000" stroke-width="1.15" stroke-linejoin="round"/>
<circle cx="449.7" cy="67.77" r="2.05" fill="#000" stroke="none" stroke-width="0"/>
<circle cx="454.8" cy="66.16" r="2.05" fill="#000" stroke="none" stroke-width="0"/>
<rect x="458.06" y="67.75" width="3.7" height="3.7" fill="#000" stroke="none" stroke-width="0" rx="0"/>
<circle cx="465.01" cy="70.76" r="2.05" fill="#000" stroke="none" stroke-width="0"/>
<circle cx="470.12" cy="69.6" r="2.05" fill="#000" stroke="none" stroke-width="0"/>
<rect x="473.37" y="79.24" width="3.7" height="3.7" fill="#000" stroke="none" stroke-width="0" rx="0"/>
<circle cx="480.32" cy="66.16" r="2.05" fill="#000" stroke="none" stroke-width="0"/>
<circle cx="485.43" cy="77.63" r="2.05" fill="#000" stroke="none" stroke-width="0"/>
<rect x="488.68" y="78.08" width="3.7" height="3.7" fill="#000" stroke="none" stroke-width="0" rx="0"/>
<circle cx="495.64" cy="76.03" r="2.05" fill="#000" stroke="none" stroke-width="0"/>
<circle cx="500.74" cy="78.79" r="2.05" fill="#000" stroke="none" stroke-width="0"/>
<rect x="503.99" y="77.62" width="3.7" height="3.7" fill="#000" stroke="none" stroke-width="0" rx="0"/>
<circle cx="510.95" cy="76.49" r="2.05" fill="#000" stroke="none" stroke-width="0"/>
<circle cx="516.05" cy="81.09" r="2.05" fill="#000" stroke="none" stroke-width="0"/>
<rect x="519.31" y="79.92" width="3.7" height="3.7" fill="#000" stroke="none" stroke-width="0" rx="0"/>
<circle cx="526.26" cy="82.23" r="2.05" fill="#000" stroke="none" stroke-width="0"/>
<circle cx="531.36" cy="85.67" r="2.05" fill="#000" stroke="none" stroke-width="0"/>
<rect x="534.62" y="80.38" width="3.7" height="3.7" fill="#000" stroke="none" stroke-width="0" rx="0"/>
<circle cx="541.57" cy="77.63" r="2.05" fill="#000" stroke="none" stroke-width="0"/>
<circle cx="546.68" cy="78.79" r="2.05" fill="#000" stroke="none" stroke-width="0"/>
<rect x="549.93" y="73.49" width="3.7" height="3.7" fill="#000" stroke="none" stroke-width="0" rx="0"/>
<circle cx="556.88" cy="82.23" r="2.05" fill="#000" stroke="none" stroke-width="0"/>
<circle cx="561.99" cy="83.37" r="2.05" fill="#000" stroke="none" stroke-width="0"/>
<rect x="565.24" y="81.52" width="3.7" height="3.7" fill="#000" stroke="none" stroke-width="0" rx="0"/>
<circle cx="572.2" cy="87.27" r="2.05" fill="#000" stroke="none" stroke-width="0"/>
<circle cx="577.3" cy="85.2" r="2.05" fill="#000" stroke="none" stroke-width="0"/>
<path d="M449.7 63.81V67.12M448.2 63.81H451.2M448.2 67.12H451.2M454.8 67.77V70.52M453.3 67.77H456.3M453.3 70.52H456.3M459.91 69.19V71.39M458.41 69.19H461.41M458.41 71.39H461.41M465.01 69.87V72.08M463.51 69.87H466.51M463.51 72.08H466.51M470.12 70.33V72.53M468.62 70.33H471.62M468.62 72.53H471.62M475.22 68.64V71.94M473.72 68.64H476.72M473.72 71.94H476.72M480.32 75.98V79.28M478.82 75.98H481.82M478.82 79.28H481.82M485.43 89.43V91.08M483.93 89.43H486.93M483.93 91.08H486.93M490.53 92.32V93.7M489.03 92.32H492.03M489.03 93.7H492.03M495.64 93.01V94.39M494.14 93.01H497.14M494.14 94.39H497.14M500.74 91.4V92.78M499.24 91.4H502.24M499.24 92.78H502.24M505.84 92.78V94.16M504.34 92.78H507.34M504.34 94.16H507.34M510.95 87.96V89.33M509.45 87.96H512.45M509.45 89.33H512.45M516.05 91.87V93.25M514.55 91.87H517.55M514.55 93.25H517.55M521.16 93.7V95.08M519.66 93.7H522.66M519.66 95.08H522.66M526.26 91.87V93.25M524.76 91.87H527.76M524.76 93.25H527.76M531.36 91.87V93.25M529.86 91.87H532.86M529.86 93.25H532.86M536.47 93.25V94.62M534.97 93.25H537.97M534.97 94.62H537.97M541.57 93.25V94.62M540.07 93.25H543.07M540.07 94.62H543.07M546.68 90.71V92.09M545.18 90.71H548.18M545.18 92.09H548.18M551.78 94.62V96M550.28 94.62H553.28M550.28 96H553.28M556.88 94.62V96M555.38 94.62H558.38M555.38 96H558.38M561.99 90.71V92.09M560.49 90.71H563.49M560.49 92.09H563.49M567.09 94.62V96M565.59 94.62H568.59M565.59 96H568.59M572.2 95.31V96.69M570.7 95.31H573.7M570.7 96.69H573.7M577.3 93.7V95.08M575.8 93.7H578.8M575.8 95.08H578.8" fill="none" stroke="#ff1414" stroke-width="0.8"/>
<polyline points="449.7,65.47 454.8,69.14 459.91,70.29 465.01,70.98 470.12,71.43 475.22,70.29 480.32,77.63 485.43,90.26 490.53,93.01 495.64,93.7 500.74,92.09 505.84,93.47 510.95,88.65 516.05,92.56 521.16,94.39 526.26,92.56 531.36,92.56 536.47,93.93 541.57,93.93 546.68,91.4 551.78,95.31 556.88,95.31 561.99,91.4 567.09,95.31 572.2,96 577.3,94.39" fill="none" stroke="#ff1414" stroke-width="1.15" stroke-linejoin="round"/>
<circle cx="449.7" cy="65.47" r="2.05" fill="#ff1414" stroke="none" stroke-width="0"/>
<circle cx="454.8" cy="69.14" r="2.05" fill="#ff1414" stroke="none" stroke-width="0"/>
<rect x="458.06" y="68.44" width="3.7" height="3.7" fill="#ff1414" stroke="none" stroke-width="0" rx="0"/>
<circle cx="465.01" cy="70.98" r="2.05" fill="#ff1414" stroke="none" stroke-width="0"/>
<circle cx="470.12" cy="71.43" r="2.05" fill="#ff1414" stroke="none" stroke-width="0"/>
<rect x="473.37" y="68.44" width="3.7" height="3.7" fill="#ff1414" stroke="none" stroke-width="0" rx="0"/>
<circle cx="480.32" cy="77.63" r="2.05" fill="#ff1414" stroke="none" stroke-width="0"/>
<circle cx="485.43" cy="90.26" r="2.05" fill="#ff1414" stroke="none" stroke-width="0"/>
<rect x="488.68" y="91.16" width="3.7" height="3.7" fill="#ff1414" stroke="none" stroke-width="0" rx="0"/>
<circle cx="495.64" cy="93.7" r="2.05" fill="#ff1414" stroke="none" stroke-width="0"/>
<circle cx="500.74" cy="92.09" r="2.05" fill="#ff1414" stroke="none" stroke-width="0"/>
<rect x="503.99" y="91.62" width="3.7" height="3.7" fill="#ff1414" stroke="none" stroke-width="0" rx="0"/>
<circle cx="510.95" cy="88.65" r="2.05" fill="#ff1414" stroke="none" stroke-width="0"/>
<circle cx="516.05" cy="92.56" r="2.05" fill="#ff1414" stroke="none" stroke-width="0"/>
<rect x="519.31" y="92.54" width="3.7" height="3.7" fill="#ff1414" stroke="none" stroke-width="0" rx="0"/>
<circle cx="526.26" cy="92.56" r="2.05" fill="#ff1414" stroke="none" stroke-width="0"/>
<circle cx="531.36" cy="92.56" r="2.05" fill="#ff1414" stroke="none" stroke-width="0"/>
<rect x="534.62" y="92.08" width="3.7" height="3.7" fill="#ff1414" stroke="none" stroke-width="0" rx="0"/>
<circle cx="541.57" cy="93.93" r="2.05" fill="#ff1414" stroke="none" stroke-width="0"/>
<circle cx="546.68" cy="91.4" r="2.05" fill="#ff1414" stroke="none" stroke-width="0"/>
<rect x="549.93" y="93.46" width="3.7" height="3.7" fill="#ff1414" stroke="none" stroke-width="0" rx="0"/>
<circle cx="556.88" cy="95.31" r="2.05" fill="#ff1414" stroke="none" stroke-width="0"/>
<circle cx="561.99" cy="91.4" r="2.05" fill="#ff1414" stroke="none" stroke-width="0"/>
<rect x="565.24" y="93.46" width="3.7" height="3.7" fill="#ff1414" stroke="none" stroke-width="0" rx="0"/>
<circle cx="572.2" cy="96" r="2.05" fill="#ff1414" stroke="none" stroke-width="0"/>
<circle cx="577.3" cy="94.39" r="2.05" fill="#ff1414" stroke="none" stroke-width="0"/>
<line x1="106.8" y1="212" x2="106.8" y2="296.7" stroke="#000" stroke-width="1.1"/>
<line x1="106.35" y1="296.7" x2="232" y2="296.7" stroke="#000" stroke-width="1.1"/>
<line x1="100.3" y1="296.7" x2="106.8" y2="296.7" stroke="#000" stroke-width="1.1"/>
<text x="98.3" y="300.03" font-size="9.3" text-anchor="end">0</text>
<line x1="100.3" y1="275.52" x2="106.8" y2="275.52" stroke="#000" stroke-width="1.1"/>
<text x="98.3" y="278.85" font-size="9.3" text-anchor="end">1000</text>
<line x1="100.3" y1="254.35" x2="106.8" y2="254.35" stroke="#000" stroke-width="1.1"/>
<text x="98.3" y="257.68" font-size="9.3" text-anchor="end">2000</text>
<line x1="100.3" y1="233.18" x2="106.8" y2="233.18" stroke="#000" stroke-width="1.1"/>
<text x="98.3" y="236.5" font-size="9.3" text-anchor="end">3000</text>
<line x1="100.3" y1="212" x2="106.8" y2="212" stroke="#000" stroke-width="1.1"/>
<text x="98.3" y="215.33" font-size="9.3" text-anchor="end">4000</text>
<polyline points="119.2,296.7 119.2,226.19 143.7,226.19 143.7,296.7" fill="none" stroke="#000" stroke-width="1.15" stroke-linejoin="round" stroke-linejoin="miter"/>
<line x1="131.45" y1="224.28" x2="131.45" y2="228.09" stroke="#000" stroke-width="0.8"/>
<line x1="127.45" y1="224.28" x2="135.45" y2="224.28" stroke="#000" stroke-width="0.8"/>
<line x1="127.45" y1="228.09" x2="135.45" y2="228.09" stroke="#000" stroke-width="0.8"/>
<circle cx="120.45" cy="230.63" r="2.1" fill="#000" stroke="none" stroke-width="0"/>
<circle cx="125.45" cy="226.19" r="2.1" fill="#000" stroke="none" stroke-width="0"/>
<circle cx="130.45" cy="218.35" r="2.1" fill="#000" stroke="none" stroke-width="0"/>
<circle cx="133.45" cy="222.59" r="2.1" fill="#000" stroke="none" stroke-width="0"/>
<circle cx="137.45" cy="229.36" r="2.1" fill="#000" stroke="none" stroke-width="0"/>
<circle cx="141.45" cy="228.3" r="2.1" fill="#000" stroke="none" stroke-width="0"/>
<polyline points="157,296.7 157,228.3 182.3,228.3 182.3,296.7" fill="none" stroke="#0a0aa8" stroke-width="1.15" stroke-linejoin="round" stroke-linejoin="miter"/>
<line x1="169.65" y1="227.03" x2="169.65" y2="229.58" stroke="#0a0aa8" stroke-width="0.8"/>
<line x1="165.65" y1="227.03" x2="173.65" y2="227.03" stroke="#0a0aa8" stroke-width="0.8"/>
<line x1="165.65" y1="229.58" x2="173.65" y2="229.58" stroke="#0a0aa8" stroke-width="0.8"/>
<circle cx="157.65" cy="224.28" r="2.1" fill="#0a0aa8" stroke="none" stroke-width="0"/>
<circle cx="160.65" cy="228.3" r="2.1" fill="#0a0aa8" stroke="none" stroke-width="0"/>
<circle cx="163.65" cy="229.36" r="2.1" fill="#0a0aa8" stroke="none" stroke-width="0"/>
<circle cx="166.65" cy="227.25" r="2.1" fill="#0a0aa8" stroke="none" stroke-width="0"/>
<circle cx="169.65" cy="217.29" r="2.1" fill="#0a0aa8" stroke="none" stroke-width="0"/>
<circle cx="169.65" cy="236.14" r="2.1" fill="#0a0aa8" stroke="none" stroke-width="0"/>
<circle cx="172.65" cy="226.4" r="2.1" fill="#0a0aa8" stroke="none" stroke-width="0"/>
<circle cx="174.65" cy="230.63" r="2.1" fill="#0a0aa8" stroke="none" stroke-width="0"/>
<circle cx="177.65" cy="231.9" r="2.1" fill="#0a0aa8" stroke="none" stroke-width="0"/>
<circle cx="179.65" cy="227.88" r="2.1" fill="#0a0aa8" stroke="none" stroke-width="0"/>
<circle cx="181.65" cy="226.82" r="2.1" fill="#0a0aa8" stroke="none" stroke-width="0"/>
<polyline points="195.4,296.7 195.4,243.34 220.3,243.34 220.3,296.7" fill="none" stroke="#ff1414" stroke-width="1.15" stroke-linejoin="round" stroke-linejoin="miter"/>
<line x1="207.85" y1="242.28" x2="207.85" y2="244.4" stroke="#ff1414" stroke-width="0.8"/>
<line x1="203.85" y1="242.28" x2="211.85" y2="242.28" stroke="#ff1414" stroke-width="0.8"/>
<line x1="203.85" y1="244.4" x2="211.85" y2="244.4" stroke="#ff1414" stroke-width="0.8"/>
<circle cx="195.85" cy="242.28" r="2.1" fill="#ff1414" stroke="none" stroke-width="0"/>
<circle cx="198.85" cy="243.34" r="2.1" fill="#ff1414" stroke="none" stroke-width="0"/>
<circle cx="201.85" cy="244.19" r="2.1" fill="#ff1414" stroke="none" stroke-width="0"/>
<circle cx="204.85" cy="242.49" r="2.1" fill="#ff1414" stroke="none" stroke-width="0"/>
<circle cx="207.85" cy="234.66" r="2.1" fill="#ff1414" stroke="none" stroke-width="0"/>
<circle cx="207.85" cy="249.06" r="2.1" fill="#ff1414" stroke="none" stroke-width="0"/>
<circle cx="210.85" cy="244.4" r="2.1" fill="#ff1414" stroke="none" stroke-width="0"/>
<circle cx="212.85" cy="246.3" r="2.1" fill="#ff1414" stroke="none" stroke-width="0"/>
<circle cx="215.85" cy="242.7" r="2.1" fill="#ff1414" stroke="none" stroke-width="0"/>
<circle cx="217.85" cy="243.76" r="2.1" fill="#ff1414" stroke="none" stroke-width="0"/>
<circle cx="219.85" cy="243.13" r="2.1" fill="#ff1414" stroke="none" stroke-width="0"/>
<polyline points="130,194.6 130,185.9 170.6,185.9 170.6,203.6" fill="none" stroke="#000" stroke-width="0.9" stroke-linejoin="round" stroke-linejoin="miter"/>
<text x="151" y="181.13" font-size="9.3" text-anchor="middle"><tspan font-style="italic">P</tspan>=0.5</text>
<polyline points="170.6,203.6 170.6,203.6 210,203.6 210,213.7" fill="none" stroke="#000" stroke-width="0.9" stroke-linejoin="round" stroke-linejoin="miter"/>
<text x="171.5" y="201.09" font-size="9.2" textLength="40" lengthAdjust="spacingAndGlyphs"><tspan font-style="italic">P</tspan>&lt;0.001</text>
<text transform="translate(62 256.5) rotate(-90)" x="0" y="3.29" font-size="9.2" text-anchor="middle" textLength="102.4" lengthAdjust="spacingAndGlyphs">O<tspan font-size="6" dy="1.8">2</tspan><tspan dy="-1.8"> </tspan>consumption <tspan font-size="8.3">(ml/h/kg)</tspan></text>
<line x1="294.5" y1="212" x2="294.5" y2="296.7" stroke="#000" stroke-width="1.1"/>
<line x1="294.05" y1="296.7" x2="421.5" y2="296.7" stroke="#000" stroke-width="1.1"/>
<line x1="288" y1="296.7" x2="294.5" y2="296.7" stroke="#000" stroke-width="1.1"/>
<text x="286" y="300.03" font-size="9.3" text-anchor="end">0</text>
<line x1="288" y1="275.52" x2="294.5" y2="275.52" stroke="#000" stroke-width="1.1"/>
<text x="286" y="278.85" font-size="9.3" text-anchor="end">1000</text>
<line x1="288" y1="254.35" x2="294.5" y2="254.35" stroke="#000" stroke-width="1.1"/>
<text x="286" y="257.68" font-size="9.3" text-anchor="end">2000</text>
<line x1="288" y1="233.18" x2="294.5" y2="233.18" stroke="#000" stroke-width="1.1"/>
<text x="286" y="236.5" font-size="9.3" text-anchor="end">3000</text>
<line x1="288" y1="212" x2="294.5" y2="212" stroke="#000" stroke-width="1.1"/>
<text x="286" y="215.33" font-size="9.3" text-anchor="end">4000</text>
<polyline points="308,296.7 308,240.59 332.5,240.59 332.5,296.7" fill="none" stroke="#000" stroke-width="1.15" stroke-linejoin="round" stroke-linejoin="miter"/>
<line x1="320.25" y1="238.68" x2="320.25" y2="242.49" stroke="#000" stroke-width="0.8"/>
<line x1="316.25" y1="238.68" x2="324.25" y2="238.68" stroke="#000" stroke-width="0.8"/>
<line x1="316.25" y1="242.49" x2="324.25" y2="242.49" stroke="#000" stroke-width="0.8"/>
<circle cx="310.25" cy="246.3" r="2.1" fill="#000" stroke="none" stroke-width="0"/>
<circle cx="313.25" cy="242.49" r="2.1" fill="#000" stroke="none" stroke-width="0"/>
<circle cx="318.25" cy="231.69" r="2.1" fill="#000" stroke="none" stroke-width="0"/>
<circle cx="320.25" cy="240.37" r="2.1" fill="#000" stroke="none" stroke-width="0"/>
<circle cx="325.25" cy="242.49" r="2.1" fill="#000" stroke="none" stroke-width="0"/>
<circle cx="329.25" cy="239.53" r="2.1" fill="#000" stroke="none" stroke-width="0"/>
<polyline points="345.6,296.7 345.6,241.64 370.8,241.64 370.8,296.7" fill="none" stroke="#0a0aa8" stroke-width="1.15" stroke-linejoin="round" stroke-linejoin="miter"/>
<line x1="358.2" y1="240.27" x2="358.2" y2="243.02" stroke="#0a0aa8" stroke-width="0.8"/>
<line x1="354.2" y1="240.27" x2="362.2" y2="240.27" stroke="#0a0aa8" stroke-width="0.8"/>
<line x1="354.2" y1="243.02" x2="362.2" y2="243.02" stroke="#0a0aa8" stroke-width="0.8"/>
<circle cx="346.2" cy="238.26" r="2.1" fill="#0a0aa8" stroke="none" stroke-width="0"/>
<circle cx="348.2" cy="242.49" r="2.1" fill="#0a0aa8" stroke="none" stroke-width="0"/>
<circle cx="351.2" cy="243.76" r="2.1" fill="#0a0aa8" stroke="none" stroke-width="0"/>
<circle cx="354.2" cy="240.8" r="2.1" fill="#0a0aa8" stroke="none" stroke-width="0"/>
<circle cx="357.2" cy="237.83" r="2.1" fill="#0a0aa8" stroke="none" stroke-width="0"/>
<circle cx="358.2" cy="251.81" r="2.1" fill="#0a0aa8" stroke="none" stroke-width="0"/>
<circle cx="360.2" cy="242.28" r="2.1" fill="#0a0aa8" stroke="none" stroke-width="0"/>
<circle cx="363.2" cy="245.46" r="2.1" fill="#0a0aa8" stroke="none" stroke-width="0"/>
<circle cx="365.2" cy="237.41" r="2.1" fill="#0a0aa8" stroke="none" stroke-width="0"/>
<circle cx="368.2" cy="234.66" r="2.1" fill="#0a0aa8" stroke="none" stroke-width="0"/>
<circle cx="369.2" cy="241.22" r="2.1" fill="#0a0aa8" stroke="none" stroke-width="0"/>
<polyline points="383.5,296.7 383.5,250.75 408.7,250.75 408.7,296.7" fill="none" stroke="#ff1414" stroke-width="1.15" stroke-linejoin="round" stroke-linejoin="miter"/>
<line x1="396.1" y1="249.9" x2="396.1" y2="251.6" stroke="#ff1414" stroke-width="0.8"/>
<line x1="392.1" y1="249.9" x2="400.1" y2="249.9" stroke="#ff1414" stroke-width="0.8"/>
<line x1="392.1" y1="251.6" x2="400.1" y2="251.6" stroke="#ff1414" stroke-width="0.8"/>
<circle cx="384.1" cy="250.12" r="2.1" fill="#ff1414" stroke="none" stroke-width="0"/>
<circle cx="387.1" cy="251.17" r="2.1" fill="#ff1414" stroke="none" stroke-width="0"/>
<circle cx="390.1" cy="252.02" r="2.1" fill="#ff1414" stroke="none" stroke-width="0"/>
<circle cx="393.1" cy="249.9" r="2.1" fill="#ff1414" stroke="none" stroke-width="0"/>
<circle cx="396.1" cy="245.03" r="2.1" fill="#ff1414" stroke="none" stroke-width="0"/>
<circle cx="398.1" cy="254.35" r="2.1" fill="#ff1414" stroke="none" stroke-width="0"/>
<circle cx="399.1" cy="250.75" r="2.1" fill="#ff1414" stroke="none" stroke-width="0"/>
<circle cx="401.1" cy="252.23" r="2.1" fill="#ff1414" stroke="none" stroke-width="0"/>
<circle cx="404.1" cy="250.12" r="2.1" fill="#ff1414" stroke="none" stroke-width="0"/>
<circle cx="406.1" cy="251.17" r="2.1" fill="#ff1414" stroke="none" stroke-width="0"/>
<circle cx="408.1" cy="249.48" r="2.1" fill="#ff1414" stroke="none" stroke-width="0"/>
<polyline points="318.4,213.7 318.4,203.6 358.7,203.6 358.7,227.2" fill="none" stroke="#000" stroke-width="0.9" stroke-linejoin="round" stroke-linejoin="miter"/>
<text x="338.2" y="199.53" font-size="9.3" text-anchor="middle"><tspan font-style="italic">P</tspan>=0.75</text>
<polyline points="358.7,227.2 358.7,227.2 398,227.2 398,236.6" fill="none" stroke="#000" stroke-width="0.9" stroke-linejoin="round" stroke-linejoin="miter"/>
<text x="359.5" y="222.69" font-size="9.2" textLength="39.5" lengthAdjust="spacingAndGlyphs"><tspan font-style="italic">P</tspan>&lt;0.001</text>
<text transform="translate(252.6 257) rotate(-90)" x="0" y="3.29" font-size="9.2" text-anchor="middle" textLength="103.4" lengthAdjust="spacingAndGlyphs">CO<tspan font-size="6" dy="1.8">2</tspan><tspan dy="-1.8"> </tspan>production<tspan font-size="8.3">(ml/h/kg)</tspan></text>
<line x1="481.5" y1="212.7" x2="481.5" y2="297.7" stroke="#000" stroke-width="1.1"/>
<line x1="481.05" y1="297.7" x2="608.7" y2="297.7" stroke="#000" stroke-width="1.1"/>
<line x1="475" y1="297.7" x2="481.5" y2="297.7" stroke="#000" stroke-width="1.1"/>
<text x="473" y="301.03" font-size="9.3" text-anchor="end">0</text>
<line x1="475" y1="276.45" x2="481.5" y2="276.45" stroke="#000" stroke-width="1.1"/>
<text x="473" y="279.78" font-size="9.3" text-anchor="end">5</text>
<line x1="475" y1="255.2" x2="481.5" y2="255.2" stroke="#000" stroke-width="1.1"/>
<text x="473" y="258.53" font-size="9.3" text-anchor="end">10</text>
<line x1="475" y1="233.95" x2="481.5" y2="233.95" stroke="#000" stroke-width="1.1"/>
<text x="473" y="237.28" font-size="9.3" text-anchor="end">15</text>
<line x1="475" y1="212.7" x2="481.5" y2="212.7" stroke="#000" stroke-width="1.1"/>
<text x="473" y="216.03" font-size="9.3" text-anchor="end">20</text>
<polyline points="494.5,297.7 494.5,230.12 519.7,230.12 519.7,297.7" fill="none" stroke="#000" stroke-width="1.15" stroke-linejoin="round" stroke-linejoin="miter"/>
<line x1="507.1" y1="228.21" x2="507.1" y2="232.04" stroke="#000" stroke-width="0.8"/>
<line x1="503.1" y1="228.21" x2="511.1" y2="228.21" stroke="#000" stroke-width="0.8"/>
<line x1="503.1" y1="232.04" x2="511.1" y2="232.04" stroke="#000" stroke-width="0.8"/>
<circle cx="496.1" cy="233.95" r="2.1" fill="#000" stroke="none" stroke-width="0"/>
<circle cx="501.1" cy="231.4" r="2.1" fill="#000" stroke="none" stroke-width="0"/>
<circle cx="506.1" cy="221.2" r="2.1" fill="#000" stroke="none" stroke-width="0"/>
<circle cx="509.1" cy="228.42" r="2.1" fill="#000" stroke="none" stroke-width="0"/>
<circle cx="513.1" cy="231.82" r="2.1" fill="#000" stroke="none" stroke-width="0"/>
<circle cx="517.1" cy="232.67" r="2.1" fill="#000" stroke="none" stroke-width="0"/>
<polyline points="532.5,297.7 532.5,230.97 557.7,230.97 557.7,297.7" fill="none" stroke="#0a0aa8" stroke-width="1.15" stroke-linejoin="round" stroke-linejoin="miter"/>
<line x1="545.1" y1="229.7" x2="545.1" y2="232.25" stroke="#0a0aa8" stroke-width="0.8"/>
<line x1="541.1" y1="229.7" x2="549.1" y2="229.7" stroke="#0a0aa8" stroke-width="0.8"/>
<line x1="541.1" y1="232.25" x2="549.1" y2="232.25" stroke="#0a0aa8" stroke-width="0.8"/>
<circle cx="533.1" cy="229.7" r="2.1" fill="#0a0aa8" stroke="none" stroke-width="0"/>
<circle cx="536.1" cy="231.82" r="2.1" fill="#0a0aa8" stroke="none" stroke-width="0"/>
<circle cx="539.1" cy="233.1" r="2.1" fill="#0a0aa8" stroke="none" stroke-width="0"/>
<circle cx="542.1" cy="230.12" r="2.1" fill="#0a0aa8" stroke="none" stroke-width="0"/>
<circle cx="545.1" cy="221.62" r="2.1" fill="#0a0aa8" stroke="none" stroke-width="0"/>
<circle cx="545.1" cy="240.32" r="2.1" fill="#0a0aa8" stroke="none" stroke-width="0"/>
<circle cx="548.1" cy="230.97" r="2.1" fill="#0a0aa8" stroke="none" stroke-width="0"/>
<circle cx="550.1" cy="233.95" r="2.1" fill="#0a0aa8" stroke="none" stroke-width="0"/>
<circle cx="553.1" cy="234.8" r="2.1" fill="#0a0aa8" stroke="none" stroke-width="0"/>
<circle cx="555.1" cy="231.4" r="2.1" fill="#0a0aa8" stroke="none" stroke-width="0"/>
<circle cx="557.1" cy="230.55" r="2.1" fill="#0a0aa8" stroke="none" stroke-width="0"/>
<polyline points="570.4,297.7 570.4,245.42 595.6,245.42 595.6,297.7" fill="none" stroke="#ff1414" stroke-width="1.15" stroke-linejoin="round" stroke-linejoin="miter"/>
<line x1="583" y1="244.36" x2="583" y2="246.49" stroke="#ff1414" stroke-width="0.8"/>
<line x1="579" y1="244.36" x2="587" y2="244.36" stroke="#ff1414" stroke-width="0.8"/>
<line x1="579" y1="246.49" x2="587" y2="246.49" stroke="#ff1414" stroke-width="0.8"/>
<circle cx="571" cy="244.15" r="2.1" fill="#ff1414" stroke="none" stroke-width="0"/>
<circle cx="574" cy="245.42" r="2.1" fill="#ff1414" stroke="none" stroke-width="0"/>
<circle cx="577" cy="246.27" r="2.1" fill="#ff1414" stroke="none" stroke-width="0"/>
<circle cx="580" cy="244.57" r="2.1" fill="#ff1414" stroke="none" stroke-width="0"/>
<circle cx="583" cy="237.35" r="2.1" fill="#ff1414" stroke="none" stroke-width="0"/>
<circle cx="583" cy="250.95" r="2.1" fill="#ff1414" stroke="none" stroke-width="0"/>
<circle cx="586" cy="246.27" r="2.1" fill="#ff1414" stroke="none" stroke-width="0"/>
<circle cx="588" cy="247.97" r="2.1" fill="#ff1414" stroke="none" stroke-width="0"/>
<circle cx="591" cy="245" r="2.1" fill="#ff1414" stroke="none" stroke-width="0"/>
<circle cx="593" cy="245.85" r="2.1" fill="#ff1414" stroke="none" stroke-width="0"/>
<circle cx="595" cy="245.42" r="2.1" fill="#ff1414" stroke="none" stroke-width="0"/>
<polyline points="508,201 508,192 548.3,192 548.3,214.7" fill="none" stroke="#000" stroke-width="0.9" stroke-linejoin="round" stroke-linejoin="miter"/>
<text x="527.5" y="187.63" font-size="9.3" text-anchor="middle"><tspan font-style="italic">P</tspan>=0.55</text>
<polyline points="548.3,214.7 548.3,214.7 587.2,214.7 587.2,223.8" fill="none" stroke="#000" stroke-width="0.9" stroke-linejoin="round" stroke-linejoin="miter"/>
<text x="548.8" y="211.29" font-size="9.2" textLength="39.5" lengthAdjust="spacingAndGlyphs"><tspan font-style="italic">P</tspan>&lt;0.001</text>
<text transform="translate(439.5 249) rotate(-90)" x="0" y="3.11" font-size="8.7" text-anchor="middle" textLength="76" lengthAdjust="spacingAndGlyphs">Energy expenditure</text>
<text transform="translate(451.3 249) rotate(-90)" x="0" y="3.11" font-size="8.7" text-anchor="middle" textLength="45" lengthAdjust="spacingAndGlyphs">(kcal/h/kg)</text>
<text x="41.2" y="323.87" font-size="9.7" font-weight="bold">d</text>
<text x="56.6" y="328.99" font-size="8.9" textLength="93.5" lengthAdjust="spacingAndGlyphs">Infrared thermography</text>
<rect x="58" y="333" width="2" height="103" fill="#6a6a6a" stroke="none" stroke-width="0" rx="0"/>
<rect x="56.4" y="338.4" width="26.6" height="1.2" fill="#6a6a6a" stroke="none" stroke-width="0" rx="0"/>
<rect x="56.6" y="435.2" width="4.8" height="1" fill="#6a6a6a" stroke="none" stroke-width="0" rx="0"/>
<rect x="82.4" y="334" width="39.6" height="11.2" fill="#b9b9b9" stroke="none" stroke-width="0" rx="3"/>
<rect x="93" y="346" width="18.7" height="6" fill="#9a9a9a" stroke="none" stroke-width="0" rx="2.5"/>
<line x1="93" y1="354.6" x2="78" y2="374" stroke="#999" stroke-width="0.5" stroke-dasharray="1 1"/>
<line x1="111.7" y1="354.6" x2="127" y2="374" stroke="#999" stroke-width="0.5" stroke-dasharray="1 1"/>
<line x1="69.5" y1="360" x2="69.5" y2="424" stroke="#888" stroke-width="0.6"/>
<line x1="130.8" y1="360" x2="130.8" y2="424" stroke="#888" stroke-width="0.6"/>
<ellipse cx="100.2" cy="425.5" rx="30.6" ry="14.5" fill="#e6e6e6" stroke="#999" stroke-width="0.6"/>
<path d="M76 432 Q80 422 96 420" fill="none" stroke="#aaa" stroke-width="1"/>
<text x="74" y="401.99" font-size="8.9" textLength="53.5" lengthAdjust="spacingAndGlyphs">hM3Dq mice</text>
<ellipse cx="122" cy="411" rx="3.6" ry="4.6" fill="#8a8a8a" stroke="#444" stroke-width="0.8"/>
<ellipse cx="110.5" cy="417.5" rx="12.4" ry="11" fill="#2b2b2b"/>
<ellipse cx="114.5" cy="420.5" rx="8.5" ry="7.5" fill="#333"/>
<ellipse cx="107.6" cy="412.2" rx="3.2" ry="4" fill="#8a8a8a" stroke="#3a3a3a" stroke-width="0.9" transform="rotate(-20 107.6 412.2)"/>
<ellipse cx="102" cy="427.5" rx="2.6" ry="1.3" fill="#8a8a8a"/><ellipse cx="109.5" cy="430.5" rx="1.8" ry="1.2" fill="#8a8a8a"/><ellipse cx="120.5" cy="429" rx="2" ry="1.2" fill="#8a8a8a"/>
<circle cx="111.2" cy="419.6" r="0.9" fill="#000" stroke="none" stroke-width="0"/>
<circle cx="118.4" cy="419.6" r="0.9" fill="#000" stroke="none" stroke-width="0"/>
<circle cx="115" cy="425.7" r="0.8" fill="#ddd" stroke="none" stroke-width="0"/>
<text x="159.8" y="321.07" font-size="9.7" font-weight="bold">e</text>
<text x="213.5" y="341.39" font-size="8.9" text-anchor="middle" textLength="23" lengthAdjust="spacingAndGlyphs">0 min</text>
<text x="277" y="341.39" font-size="8.9" text-anchor="middle" textLength="28" lengthAdjust="spacingAndGlyphs">30 min</text>
<text x="347" y="341.39" font-size="8.9" text-anchor="middle" textLength="28" lengthAdjust="spacingAndGlyphs">60 min</text>
<text x="412" y="341.39" font-size="8.9" text-anchor="middle" textLength="33.5" lengthAdjust="spacingAndGlyphs">120 min</text>
<text transform="translate(167.3 365.5) rotate(-90)" x="0" y="3.19" font-size="8.9" text-anchor="middle" textLength="25" lengthAdjust="spacingAndGlyphs">Saline</text>
<text transform="translate(167.3 405.7) rotate(-90)" x="0" y="3.19" font-size="8.9" text-anchor="middle" textLength="18.5" lengthAdjust="spacingAndGlyphs">CNO</text>
<filter id="blur1" x="-50%" y="-50%" width="200%" height="200%"><feGaussianBlur stdDeviation="0.9"/></filter>
<filter id="blur2" x="-50%" y="-50%" width="200%" height="200%"><feGaussianBlur stdDeviation="1.15"/></filter>
<filter id="blur4" x="-50%" y="-50%" width="200%" height="200%"><feGaussianBlur stdDeviation="5"/></filter>
<clipPath id="tc1"><rect x="175.5" y="343.5" width="68.4" height="40.7"/></clipPath>
<g clip-path="url(#tc1)">
<rect x="175.5" y="343.5" width="68.4" height="40.7" fill="#0c50cc" stroke="none" stroke-width="0" rx="0"/>
<ellipse cx="234" cy="372" rx="13" ry="9.1" fill="#062c98" opacity="0.95" filter="url(#blur4)"/>
<ellipse cx="186" cy="350" rx="14" ry="9.8" fill="#1474e4" opacity="0.7" filter="url(#blur4)"/>
<g transform="translate(202 364.6) rotate(-32)" filter="url(#blur2)">
<ellipse cx="5.72" cy="0" rx="30.42" ry="15.3" fill="#1c84e4" opacity="0.55"/>
<ellipse cx="-12.48" cy="0" rx="20.28" ry="11.32" fill="#1c84e4" opacity="0.55"/>
<ellipse cx="5.72" cy="0" rx="24.34" ry="12.24" fill="#18b4c4" opacity="0.8"/>
<ellipse cx="-12.48" cy="0" rx="16.22" ry="9.06" fill="#18b4c4" opacity="0.8"/>
<ellipse cx="5.72" cy="0" rx="22.31" ry="11.22" fill="#5cd030" opacity="1"/>
<ellipse cx="-12.48" cy="0" rx="14.87" ry="8.3" fill="#5cd030" opacity="1"/>
<ellipse cx="5.72" cy="0" rx="20.28" ry="10.2" fill="#f4e800" opacity="1"/>
<ellipse cx="-12.48" cy="0" rx="13.52" ry="7.55" fill="#f4e800" opacity="1"/>
<ellipse cx="1.72" cy="0" rx="14.6" ry="7.34" fill="#ffb800" opacity="1"/>
<ellipse cx="-16.48" cy="0" rx="9.73" ry="5.43" fill="#ffb800" opacity="1"/>
<ellipse cx="-3.28" cy="0" rx="8.92" ry="4.49" fill="#ff8c00" opacity="0.9"/>
<ellipse cx="-21.48" cy="0" rx="5.95" ry="3.32" fill="#ff8c00" opacity="0.9"/>
</g>
<circle cx="181.5" cy="376.3" r="2.4" fill="#ff2840" filter="url(#blur1)"/>
<circle cx="185.5" cy="378.8" r="1.8" fill="#ff3048" filter="url(#blur1)"/>
<circle cx="194.5" cy="369" r="3.6" fill="#ff3858" filter="url(#blur1)"/>
</g>
<circle cx="194.7" cy="369.1" r="4.7" fill="none" stroke="#000" stroke-width="1.25"/>
<clipPath id="tc2"><rect x="246.6" y="344.8" width="67.9" height="39.1"/></clipPath>
<g clip-path="url(#tc2)">
<rect x="246.6" y="344.8" width="67.9" height="39.1" fill="#0c50cc" stroke="none" stroke-width="0" rx="0"/>
<ellipse cx="300" cy="352" rx="14" ry="9.8" fill="#1468dc" opacity="0.6" filter="url(#blur4)"/>
<g transform="translate(277 371) rotate(-13)" filter="url(#blur2)">
<ellipse cx="4.95" cy="0" rx="26.33" ry="15.75" fill="#1c84e4" opacity="0.55"/>
<ellipse cx="-10.8" cy="0" rx="17.55" ry="11.65" fill="#1c84e4" opacity="0.55"/>
<ellipse cx="4.95" cy="0" rx="21.06" ry="12.6" fill="#18b4c4" opacity="0.8"/>
<ellipse cx="-10.8" cy="0" rx="14.04" ry="9.32" fill="#18b4c4" opacity="0.8"/>
<ellipse cx="4.95" cy="0" rx="19.31" ry="11.55" fill="#5cd030" opacity="1"/>
<ellipse cx="-10.8" cy="0" rx="12.87" ry="8.55" fill="#5cd030" opacity="1"/>
<ellipse cx="4.95" cy="0" rx="17.55" ry="10.5" fill="#f4e800" opacity="1"/>
<ellipse cx="-10.8" cy="0" rx="11.7" ry="7.77" fill="#f4e800" opacity="1"/>
<ellipse cx="0.95" cy="0" rx="12.64" ry="7.56" fill="#ffb800" opacity="1"/>
<ellipse cx="-14.8" cy="0" rx="8.42" ry="5.59" fill="#ffb800" opacity="1"/>
<ellipse cx="-4.05" cy="0" rx="7.72" ry="4.62" fill="#ff8c00" opacity="0.9"/>
<ellipse cx="-19.8" cy="0" rx="5.15" ry="3.42" fill="#ff8c00" opacity="0.9"/>
</g>
<circle cx="256.5" cy="372.5" r="2.6" fill="#ff2840" filter="url(#blur1)"/>
<circle cx="259" cy="377" r="2" fill="#ff3048" filter="url(#blur1)"/>
<circle cx="270.5" cy="374.5" r="3.6" fill="#ff4050" filter="url(#blur1)"/>
</g>
<circle cx="270.7" cy="374" r="4.7" fill="none" stroke="#000" stroke-width="1.25"/>
<clipPath id="tc3"><rect x="318.2" y="345.4" width="63" height="38.7"/></clipPath>
<g clip-path="url(#tc3)">
<rect x="318.2" y="345.4" width="63" height="38.7" fill="#0c54d0" stroke="none" stroke-width="0" rx="0"/>
<ellipse cx="365" cy="352" rx="14" ry="9.8" fill="#1468dc" opacity="0.5" filter="url(#blur4)"/>
<g transform="translate(339.5 365) rotate(50)" filter="url(#blur2)">
<ellipse cx="4.4" cy="0" rx="23.4" ry="17.25" fill="#1c84e4" opacity="0.55"/>
<ellipse cx="-9.6" cy="0" rx="15.6" ry="12.77" fill="#1c84e4" opacity="0.55"/>
<ellipse cx="4.4" cy="0" rx="18.72" ry="13.8" fill="#18b4c4" opacity="0.8"/>
<ellipse cx="-9.6" cy="0" rx="12.48" ry="10.21" fill="#18b4c4" opacity="0.8"/>
<ellipse cx="4.4" cy="0" rx="17.16" ry="12.65" fill="#5cd030" opacity="1"/>
<ellipse cx="-9.6" cy="0" rx="11.44" ry="9.36" fill="#5cd030" opacity="1"/>
<ellipse cx="4.4" cy="0" rx="15.6" ry="11.5" fill="#f4e800" opacity="1"/>
<ellipse cx="-9.6" cy="0" rx="10.4" ry="8.51" fill="#f4e800" opacity="1"/>
<ellipse cx="0.4" cy="0" rx="11.23" ry="8.28" fill="#ffb800" opacity="1"/>
<ellipse cx="-13.6" cy="0" rx="7.49" ry="6.13" fill="#ffb800" opacity="1"/>
<ellipse cx="-4.6" cy="0" rx="6.86" ry="5.06" fill="#ff8c00" opacity="0.9"/>
<ellipse cx="-18.6" cy="0" rx="4.58" ry="3.74" fill="#ff8c00" opacity="0.9"/>
</g>
<circle cx="325.5" cy="350.5" r="3" fill="#ff2840" filter="url(#blur1)"/>
<circle cx="331.5" cy="358" r="3.8" fill="#ff3050" filter="url(#blur1)"/>
</g>
<circle cx="331.8" cy="358" r="4.7" fill="none" stroke="#000" stroke-width="1.25"/>
<clipPath id="tc4"><rect x="383.7" y="345.4" width="62.3" height="38.7"/></clipPath>
<g clip-path="url(#tc4)">
<rect x="383.7" y="345.4" width="62.3" height="38.7" fill="#0c54d0" stroke="none" stroke-width="0" rx="0"/>
<ellipse cx="440" cy="352" rx="10" ry="7" fill="#1880e0" opacity="0.6" filter="url(#blur4)"/>
<g transform="translate(415 364) rotate(7)" filter="url(#blur2)">
<ellipse cx="6.16" cy="0" rx="32.76" ry="15.75" fill="#1c84e4" opacity="0.55"/>
<ellipse cx="-13.44" cy="0" rx="21.84" ry="11.65" fill="#1c84e4" opacity="0.55"/>
<ellipse cx="6.16" cy="0" rx="26.21" ry="12.6" fill="#18b4c4" opacity="0.8"/>
<ellipse cx="-13.44" cy="0" rx="17.47" ry="9.32" fill="#18b4c4" opacity="0.8"/>
<ellipse cx="6.16" cy="0" rx="24.02" ry="11.55" fill="#5cd030" opacity="1"/>
<ellipse cx="-13.44" cy="0" rx="16.02" ry="8.55" fill="#5cd030" opacity="1"/>
<ellipse cx="6.16" cy="0" rx="21.84" ry="10.5" fill="#dce800" opacity="1"/>
<ellipse cx="-13.44" cy="0" rx="14.56" ry="7.77" fill="#dce800" opacity="1"/>
<ellipse cx="-0.84" cy="0" rx="14.41" ry="6.93" fill="#ffc400" opacity="1"/>
<ellipse cx="-20.44" cy="0" rx="9.61" ry="5.13" fill="#ffc400" opacity="1"/>
<ellipse cx="-6.84" cy="0" rx="7.86" ry="3.78" fill="#ff9400" opacity="0.85"/>
<ellipse cx="-26.44" cy="0" rx="5.24" ry="2.8" fill="#ff9400" opacity="0.85"/>
</g>
<circle cx="390.3" cy="361.5" r="2.8" fill="#ff3040" filter="url(#blur1)"/>
<circle cx="399" cy="360.5" r="3.6" fill="#ff3850" filter="url(#blur1)"/>
</g>
<circle cx="399.3" cy="360.6" r="4.7" fill="none" stroke="#000" stroke-width="1.25"/>
<clipPath id="tc5"><rect x="175.5" y="386.7" width="74.2" height="39.9"/></clipPath>
<g clip-path="url(#tc5)">
<rect x="175.5" y="386.7" width="74.2" height="39.9" fill="#1468d8" stroke="none" stroke-width="0" rx="0"/>
<ellipse cx="183" cy="417" rx="13" ry="9.1" fill="#38b0d8" opacity="0.85" filter="url(#blur4)"/>
<ellipse cx="182" cy="395" rx="11" ry="7.7" fill="#28a0d8" opacity="0.6" filter="url(#blur4)"/>
<ellipse cx="240" cy="421" rx="12" ry="8.4" fill="#0c48c0" opacity="0.7" filter="url(#blur4)"/>
<g transform="translate(217.5 403.6) rotate(156)" filter="url(#blur2)">
<ellipse cx="6.16" cy="0" rx="32.76" ry="16.8" fill="#1c84e4" opacity="0.55"/>
<ellipse cx="-13.44" cy="0" rx="21.84" ry="12.43" fill="#1c84e4" opacity="0.55"/>
<ellipse cx="6.16" cy="0" rx="26.21" ry="13.44" fill="#18b4c4" opacity="0.8"/>
<ellipse cx="-13.44" cy="0" rx="17.47" ry="9.95" fill="#18b4c4" opacity="0.8"/>
<ellipse cx="6.16" cy="0" rx="24.02" ry="12.32" fill="#5cd030" opacity="1"/>
<ellipse cx="-13.44" cy="0" rx="16.02" ry="9.12" fill="#5cd030" opacity="1"/>
<ellipse cx="6.16" cy="0" rx="21.84" ry="11.2" fill="#f4e800" opacity="1"/>
<ellipse cx="-13.44" cy="0" rx="14.56" ry="8.29" fill="#f4e800" opacity="1"/>
<ellipse cx="2.16" cy="0" rx="15.72" ry="8.06" fill="#ffb800" opacity="1"/>
<ellipse cx="-17.44" cy="0" rx="10.48" ry="5.97" fill="#ffb800" opacity="1"/>
<ellipse cx="-2.84" cy="0" rx="9.61" ry="4.93" fill="#ff8c00" opacity="0.9"/>
<ellipse cx="-22.44" cy="0" rx="6.41" ry="3.65" fill="#ff8c00" opacity="0.9"/>
</g>
<circle cx="241" cy="391.3" r="2.6" fill="#ff2840" filter="url(#blur1)"/>
<circle cx="236.5" cy="390.6" r="2" fill="#ff3048" filter="url(#blur1)"/>
<circle cx="231.5" cy="398" r="3.8" fill="#ff3050" filter="url(#blur1)"/>
</g>
<circle cx="231.3" cy="398" r="4.7" fill="none" stroke="#000" stroke-width="1.25"/>
<clipPath id="tc6"><rect x="251.6" y="386.5" width="62.9" height="39.7"/></clipPath>
<g clip-path="url(#tc6)">
<rect x="251.6" y="386.5" width="62.9" height="39.7" fill="#0a48c4" stroke="none" stroke-width="0" rx="0"/>
<ellipse cx="300" cy="395" rx="12" ry="8.4" fill="#1060d8" opacity="0.5" filter="url(#blur4)"/>
<g transform="translate(281.5 407) rotate(-50)" filter="url(#blur2)">
<ellipse cx="4.62" cy="0" rx="24.57" ry="15.75" fill="#1a80e0" opacity="0.5"/>
<ellipse cx="-10.08" cy="0" rx="16.38" ry="11.65" fill="#1a80e0" opacity="0.5"/>
<ellipse cx="4.62" cy="0" rx="19.66" ry="12.6" fill="#10a4cc" opacity="0.8"/>
<ellipse cx="-10.08" cy="0" rx="13.1" ry="9.32" fill="#10a4cc" opacity="0.8"/>
<ellipse cx="4.62" cy="0" rx="18.02" ry="11.55" fill="#40c850" opacity="1"/>
<ellipse cx="-10.08" cy="0" rx="12.01" ry="8.55" fill="#40c850" opacity="1"/>
<ellipse cx="4.62" cy="0" rx="15.89" ry="10.19" fill="#a0dc14" opacity="1"/>
<ellipse cx="-10.08" cy="0" rx="10.59" ry="7.54" fill="#a0dc14" opacity="1"/>
<ellipse cx="1.62" cy="0" rx="11.14" ry="7.14" fill="#dce400" opacity="0.95"/>
<ellipse cx="-13.08" cy="0" rx="7.43" ry="5.28" fill="#dce400" opacity="0.95"/>
</g>
</g>
<circle cx="273.6" cy="410.7" r="4.7" fill="none" stroke="#000" stroke-width="1.25"/>
<clipPath id="tc7"><rect x="315.6" y="386.6" width="66.4" height="39.7"/></clipPath>
<g clip-path="url(#tc7)">
<rect x="315.6" y="386.6" width="66.4" height="39.7" fill="#0c50cc" stroke="none" stroke-width="0" rx="0"/>
<g transform="translate(341.5 408) rotate(38)" filter="url(#blur2)">
<ellipse cx="4.18" cy="0" rx="22.23" ry="16.5" fill="#1a80e0" opacity="0.5"/>
<ellipse cx="-9.12" cy="0" rx="14.82" ry="12.21" fill="#1a80e0" opacity="0.5"/>
<ellipse cx="4.18" cy="0" rx="17.78" ry="13.2" fill="#10a4cc" opacity="0.8"/>
<ellipse cx="-9.12" cy="0" rx="11.86" ry="9.77" fill="#10a4cc" opacity="0.8"/>
<ellipse cx="4.18" cy="0" rx="16.3" ry="12.1" fill="#38c068" opacity="1"/>
<ellipse cx="-9.12" cy="0" rx="10.87" ry="8.95" fill="#38c068" opacity="1"/>
<ellipse cx="4.18" cy="0" rx="14.23" ry="10.56" fill="#70cc30" opacity="1"/>
<ellipse cx="-9.12" cy="0" rx="9.48" ry="7.81" fill="#70cc30" opacity="1"/>
<ellipse cx="-1.82" cy="0" rx="8.15" ry="6.05" fill="#b0dc10" opacity="0.9"/>
<ellipse cx="-15.12" cy="0" rx="5.43" ry="4.48" fill="#b0dc10" opacity="0.9"/>
</g>
</g>
<circle cx="339" cy="402.5" r="4.7" fill="none" stroke="#000" stroke-width="1.25"/>
<clipPath id="tc8"><rect x="383.7" y="386.6" width="62.3" height="39.7"/></clipPath>
<g clip-path="url(#tc8)">
<rect x="383.7" y="386.6" width="62.3" height="39.7" fill="#0c50cc" stroke="none" stroke-width="0" rx="0"/>
<g transform="translate(412.5 408) rotate(-20)" filter="url(#blur2)">
<ellipse cx="4.73" cy="0" rx="25.16" ry="17.25" fill="#1a80e0" opacity="0.5"/>
<ellipse cx="-10.32" cy="0" rx="16.77" ry="12.77" fill="#1a80e0" opacity="0.5"/>
<ellipse cx="4.73" cy="0" rx="20.12" ry="13.8" fill="#10a4cc" opacity="0.8"/>
<ellipse cx="-10.32" cy="0" rx="13.42" ry="10.21" fill="#10a4cc" opacity="0.8"/>
<ellipse cx="4.73" cy="0" rx="18.45" ry="12.65" fill="#30b878" opacity="1"/>
<ellipse cx="-10.32" cy="0" rx="12.3" ry="9.36" fill="#30b878" opacity="1"/>
<ellipse cx="4.73" cy="0" rx="16.1" ry="11.04" fill="#60c440" opacity="1"/>
<ellipse cx="-10.32" cy="0" rx="10.73" ry="8.17" fill="#60c440" opacity="1"/>
<ellipse cx="-3.27" cy="0" rx="8.38" ry="5.75" fill="#a0d818" opacity="0.85"/>
<ellipse cx="-18.32" cy="0" rx="5.59" ry="4.25" fill="#a0d818" opacity="0.85"/>
</g>
</g>
<circle cx="406" cy="408.7" r="4.7" fill="none" stroke="#000" stroke-width="1.25"/>
<linearGradient id="cbar" x1="0" y1="0" x2="0" y2="1"><stop offset="0" stop-color="#fff4f2"/><stop offset="0.12" stop-color="#ff9aa8"/><stop offset="0.25" stop-color="#ff3050"/><stop offset="0.38" stop-color="#ff8a18"/><stop offset="0.5" stop-color="#f2e410"/><stop offset="0.6" stop-color="#68cc30"/><stop offset="0.7" stop-color="#10a0c8"/><stop offset="0.82" stop-color="#0c50d8"/><stop offset="0.93" stop-color="#0a1c98"/><stop offset="1" stop-color="#100848"/></linearGradient>
<rect x="451.6" y="343.8" width="8.6" height="88.4" fill="url(#cbar)" stroke="none" stroke-width="0" rx="0"/>
<text x="461.9" y="342.93" font-size="9.3">39</text>
<text x="461.9" y="433.93" font-size="9.3">20</text>
<text transform="translate(467.4 386) rotate(90)" x="0" y="3.19" font-size="8.9" text-anchor="middle" textLength="72" lengthAdjust="spacingAndGlyphs">Temperature (°C)</text>
<text x="482.6" y="321.47" font-size="9.7" font-weight="bold">f</text>
<line x1="518.3" y1="324.5" x2="518.3" y2="406.2" stroke="#000" stroke-width="1.1"/>
<line x1="517.85" y1="406.2" x2="628.8" y2="406.2" stroke="#000" stroke-width="1.1"/>
<line x1="511.8" y1="324.14" x2="518.3" y2="324.14" stroke="#000" stroke-width="1.1"/>
<text x="509.8" y="327.47" font-size="9.3" text-anchor="end">2</text>
<line x1="511.8" y1="351.4" x2="518.3" y2="351.4" stroke="#000" stroke-width="1.1"/>
<text x="509.8" y="354.73" font-size="9.3" text-anchor="end">0</text>
<line x1="511.8" y1="378.66" x2="518.3" y2="378.66" stroke="#000" stroke-width="1.1"/>
<text x="509.8" y="381.99" font-size="9.3" text-anchor="end">-2</text>
<line x1="511.8" y1="405.92" x2="518.3" y2="405.92" stroke="#000" stroke-width="1.1"/>
<text x="509.8" y="409.25" font-size="9.3" text-anchor="end">-4</text>
<line x1="535" y1="406.2" x2="535" y2="411.4" stroke="#000" stroke-width="1.1"/>
<text x="535" y="424.13" font-size="9.3" text-anchor="middle">0</text>
<line x1="560.2" y1="406.2" x2="560.2" y2="411.4" stroke="#000" stroke-width="1.1"/>
<text x="560.2" y="424.13" font-size="9.3" text-anchor="middle">30</text>
<line x1="585.7" y1="406.2" x2="585.7" y2="411.4" stroke="#000" stroke-width="1.1"/>
<text x="585.7" y="424.13" font-size="9.3" text-anchor="middle">60</text>
<line x1="611.1" y1="406.2" x2="611.1" y2="411.4" stroke="#000" stroke-width="1.1"/>
<text x="611.1" y="424.13" font-size="9.3" text-anchor="middle">120</text>
<text x="573.7" y="437.99" font-size="8.9" text-anchor="middle" textLength="91" lengthAdjust="spacingAndGlyphs">Time after injection (min)</text>
<line x1="521.5" y1="351.4" x2="628" y2="351.4" stroke="#000" stroke-width="1.5" stroke-dasharray="1.6 3.5"/>
<line x1="534" y1="321.5" x2="552" y2="321.5" stroke="#000" stroke-width="0.9"/>
<circle cx="543" cy="321.5" r="1.9" fill="#000" stroke="none" stroke-width="0"/>
<text x="562.3" y="324.61" font-size="8.7" textLength="39.5" lengthAdjust="spacingAndGlyphs">Saline,n=5</text>
<line x1="534" y1="332.6" x2="552" y2="332.6" stroke="#ff1414" stroke-width="0.9"/>
<rect x="541.3" y="330.9" width="3.4" height="3.4" fill="#ff1414" stroke="none" stroke-width="0" rx="0"/>
<text x="562.3" y="335.71" font-size="8.7" textLength="34.5" lengthAdjust="spacingAndGlyphs">CNO,n=5</text>
<path d="M560.2 348.13V351.4M558.4 348.13H562M558.4 351.4H562M585.7 341.18V352.63M583.9 341.18H587.5M583.9 352.63H587.5M611.1 338.72V345.54M609.3 338.72H612.9M609.3 345.54H612.9" fill="none" stroke="#000" stroke-width="0.9"/>
<polyline points="535,351.4 560.2,349.76 585.7,346.9 611.1,342.13" fill="none" stroke="#000" stroke-width="1" stroke-linejoin="round"/>
<circle cx="535" cy="351.4" r="1.9" fill="#000" stroke="none" stroke-width="0"/>
<circle cx="560.2" cy="349.76" r="1.9" fill="#000" stroke="none" stroke-width="0"/>
<circle cx="585.7" cy="346.9" r="1.9" fill="#000" stroke="none" stroke-width="0"/>
<circle cx="611.1" cy="342.13" r="1.9" fill="#000" stroke="none" stroke-width="0"/>
<path d="M560.2 372.53V382.07M558.4 372.53H562M558.4 382.07H562M585.7 382.07V391.61M583.9 382.07H587.5M583.9 391.61H587.5M611.1 385.47V396.38M609.3 385.47H612.9M609.3 396.38H612.9" fill="none" stroke="#ff1414" stroke-width="0.9"/>
<polyline points="535,351.4 560.2,377.3 585.7,386.84 611.1,390.93" fill="none" stroke="#ff1414" stroke-width="1" stroke-linejoin="round"/>
<rect x="533.2" y="349.6" width="3.6" height="3.6" fill="#ff1414" stroke="none" stroke-width="0" rx="0"/>
<rect x="558.4" y="375.5" width="3.6" height="3.6" fill="#ff1414" stroke="none" stroke-width="0" rx="0"/>
<rect x="583.9" y="385.04" width="3.6" height="3.6" fill="#ff1414" stroke="none" stroke-width="0" rx="0"/>
<rect x="609.3" y="389.13" width="3.6" height="3.6" fill="#ff1414" stroke="none" stroke-width="0" rx="0"/>
<text x="545" y="363.01" font-size="8.7" textLength="35" lengthAdjust="spacingAndGlyphs"><tspan font-style="italic">P</tspan>=0.0117</text>
<text x="569" y="374.11" font-size="8.7" textLength="35" lengthAdjust="spacingAndGlyphs"><tspan font-style="italic">P</tspan>=0.0063</text>
<text x="595" y="383.61" font-size="8.7" textLength="35" lengthAdjust="spacingAndGlyphs"><tspan font-style="italic">P</tspan>=0.0005</text>
<text transform="translate(493.6 368) rotate(-90)" x="0" y="3.19" font-size="8.9" text-anchor="middle">ΔT<tspan font-size="6.3" dy="1.6">iBAT</tspan><tspan dy="-1.6"> (°C)</tspan></text>
<text x="22" y="446.97" font-size="9.7" font-weight="bold">g</text>
<text x="98.5" y="459.69" font-size="8.9" text-anchor="middle" textLength="67" lengthAdjust="spacingAndGlyphs">Sympathectomy</text>
<clipPath id="gclip"><rect x="45" y="465" width="114.2" height="150.6"/></clipPath>
<filter id="gb6" x="-50%" y="-50%" width="200%" height="200%"><feGaussianBlur stdDeviation="6"/></filter>
<filter id="gb3" x="-50%" y="-50%" width="200%" height="200%"><feGaussianBlur stdDeviation="2.5"/></filter>
<filter id="gb1" x="-50%" y="-50%" width="200%" height="200%"><feGaussianBlur stdDeviation="0.8"/></filter>
<linearGradient id="gbase" x1="0" y1="0" x2="0" y2="1"><stop offset="0" stop-color="#d2a89a"/><stop offset="0.4" stop-color="#e2a89c"/><stop offset="0.62" stop-color="#ee8e86"/><stop offset="1" stop-color="#e87874"/></linearGradient>
<g clip-path="url(#gclip)">
<rect x="45" y="465" width="114.2" height="150.6" fill="url(#gbase)" stroke="none" stroke-width="0" rx="0"/>
<ellipse cx="52" cy="496" rx="22" ry="30" fill="#aaa4a4" filter="url(#gb6)"/>
<ellipse cx="52" cy="472" rx="16" ry="12" fill="#d0cccc" filter="url(#gb6)"/><ellipse cx="78" cy="502" rx="9" ry="14" fill="#bcaeac" filter="url(#gb6)"/>
<ellipse cx="140" cy="490" rx="26" ry="26" fill="#ecc2b8" filter="url(#gb6)"/>
<ellipse cx="156" cy="505" rx="6" ry="12" fill="#e07880" filter="url(#gb3)"/>
<ellipse cx="156" cy="468" rx="5" ry="4" fill="#fff" filter="url(#gb3)"/>
<ellipse cx="62" cy="578" rx="42" ry="50" fill="#ec726c" filter="url(#gb6)"/>
<ellipse cx="60" cy="535" rx="24" ry="16" fill="#ea8a84" filter="url(#gb6)"/>
<polygon points="92,518 140,522 152,545 128,575 104,570 86,540" fill="#e6bcae" filter="url(#gb3)"/>
<polygon points="100,528 118,530 124,566 108,566" fill="#f0d6cc" opacity="0.55" filter="url(#gb3)"/>
<ellipse cx="92" cy="518" rx="3.2" ry="2" fill="#a83858" filter="url(#gb1)"/>
<ellipse cx="140" cy="590" rx="26" ry="34" fill="#ea9498" filter="url(#gb6)"/>
<path d="M158 540 Q140 565 122 606" stroke="#c4607c" stroke-width="6" fill="none" filter="url(#gb1)"/>
<path d="M160 548 Q148 570 134 600" stroke="#eeb0b8" stroke-width="2.5" fill="none" filter="url(#gb1)"/>
<path d="M91 536 q3 -3 3 2 q-4 6 1 10 q4 3 5 -3" stroke="#fff" stroke-width="1.3" fill="none"/>
<path d="M128 588 q4 -4 2 2 q-3 6 -5 10 q4 2 7 -6" stroke="#fff" stroke-width="1.1" fill="none"/>
<circle cx="118" cy="586" r="0.9" fill="#fff" stroke="none" stroke-width="0"/>
<circle cx="127" cy="571" r="0.8" fill="#fff" stroke="none" stroke-width="0"/>
<circle cx="104" cy="551" r="0.8" fill="#fff" stroke="none" stroke-width="0"/>
</g>
<text x="46.5" y="481.39" font-size="8.9" textLength="114" lengthAdjust="spacingAndGlyphs">Sympathetic nerve bundles</text>
<line x1="72.3" y1="483.8" x2="82.74" y2="507.89" stroke="#000" stroke-width="0.8"/>
<polygon points="85.6,514.5 79.71,509.21 85.77,506.58" fill="#000" fill-opacity="1" stroke="none" stroke-width="0"/>
<line x1="84" y1="483.8" x2="94.77" y2="508.98" stroke="#000" stroke-width="0.8"/>
<polygon points="97.6,515.6 91.73,510.28 97.8,507.68" fill="#000" fill-opacity="1" stroke="none" stroke-width="0"/>
<line x1="93.3" y1="484" x2="104.2" y2="509.87" stroke="#000" stroke-width="0.8"/>
<polygon points="107,516.5 101.16,511.15 107.24,508.58" fill="#000" fill-opacity="1" stroke="none" stroke-width="0"/>
<line x1="102.5" y1="487.5" x2="113.15" y2="512.19" stroke="#000" stroke-width="0.8"/>
<polygon points="116,518.8 110.12,513.5 116.18,510.88" fill="#000" fill-opacity="1" stroke="none" stroke-width="0"/>
<line x1="112.5" y1="488" x2="123.22" y2="513.66" stroke="#000" stroke-width="0.8"/>
<polygon points="126,520.3 120.18,514.93 126.27,512.38" fill="#000" fill-opacity="1" stroke="none" stroke-width="0"/>
<text x="49.4" y="531.99" font-size="8.9" textLength="43.5" lengthAdjust="spacingAndGlyphs">Cutting off</text>
<line x1="78.8" y1="535.2" x2="139.5" y2="545.6" stroke="#000" stroke-width="0.9" stroke-dasharray="3.6 2.4"/>
<text x="59" y="580.39" font-size="8.9" textLength="20.5" lengthAdjust="spacingAndGlyphs">iBAT</text>
<text x="170.5" y="446.47" font-size="9.7" font-weight="bold">h</text>
<circle cx="197.6" cy="466.8" r="1.9" fill="#000" stroke="none" stroke-width="0"/>
<text x="218.3" y="470.09" font-size="8.9" textLength="50" lengthAdjust="spacingAndGlyphs">Sham, n=6</text>
<circle cx="197.6" cy="477.6" r="1.9" fill="#ff1414" stroke="none" stroke-width="0"/>
<text x="218.3" y="480.89" font-size="8.9" textLength="95" lengthAdjust="spacingAndGlyphs">sympathectomy, n=6</text>
<line x1="227" y1="492.4" x2="227" y2="603.4" stroke="#000" stroke-width="1.1"/>
<line x1="226.55" y1="603.4" x2="299.3" y2="603.4" stroke="#000" stroke-width="1.1"/>
<line x1="220.5" y1="603.4" x2="227" y2="603.4" stroke="#000" stroke-width="1.1"/>
<text x="218.5" y="606.91" font-size="9.8" text-anchor="end">0</text>
<line x1="220.5" y1="566.4" x2="227" y2="566.4" stroke="#000" stroke-width="1.1"/>
<text x="218.5" y="569.91" font-size="9.8" text-anchor="end">500</text>
<line x1="220.5" y1="529.4" x2="227" y2="529.4" stroke="#000" stroke-width="1.1"/>
<text x="218.5" y="532.91" font-size="9.8" text-anchor="end">1000</text>
<line x1="220.5" y1="492.4" x2="227" y2="492.4" stroke="#000" stroke-width="1.1"/>
<text x="218.5" y="495.91" font-size="9.8" text-anchor="end">1500</text>
<polyline points="237.5,603.4 237.5,545.9 257.7,545.9 257.7,603.4" fill="none" stroke="#000" stroke-width="1" stroke-linejoin="round" stroke-linejoin="miter"/>
<path d="M247.6 539.9V551.9M243.6 539.9H251.6M243.6 551.9H251.6" fill="none" stroke="#000" stroke-width="0.9"/>
<circle cx="238.8" cy="532" r="1.9" fill="#000" stroke="none" stroke-width="0"/>
<circle cx="247.2" cy="532.6" r="1.9" fill="#000" stroke="none" stroke-width="0"/>
<circle cx="255.9" cy="532.8" r="1.9" fill="#000" stroke="none" stroke-width="0"/>
<circle cx="247.5" cy="553.6" r="1.9" fill="#000" stroke="none" stroke-width="0"/>
<circle cx="247.2" cy="558.9" r="1.9" fill="#000" stroke="none" stroke-width="0"/>
<circle cx="247.5" cy="565.4" r="1.9" fill="#000" stroke="none" stroke-width="0"/>
<line x1="270" y1="601.9" x2="288.5" y2="601.9" stroke="#ff1414" stroke-width="0.9"/>
<circle cx="271" cy="601.7" r="1.8" fill="#ff1414" stroke="none" stroke-width="0"/>
<circle cx="273.8" cy="599.6" r="1.8" fill="#ff1414" stroke="none" stroke-width="0"/>
<circle cx="277.5" cy="601" r="1.8" fill="#ff1414" stroke="none" stroke-width="0"/>
<circle cx="281" cy="601.8" r="1.8" fill="#ff1414" stroke="none" stroke-width="0"/>
<circle cx="284" cy="602" r="1.8" fill="#ff1414" stroke="none" stroke-width="0"/>
<circle cx="287.5" cy="600.8" r="1.8" fill="#ff1414" stroke="none" stroke-width="0"/>
<polyline points="248.5,526.2 248.5,517.5 281.4,517.5 281.4,526.2" fill="none" stroke="#000" stroke-width="0.9" stroke-linejoin="round" stroke-linejoin="miter"/>
<text x="275" y="509.49" font-size="8.9" text-anchor="middle" textLength="43" lengthAdjust="spacingAndGlyphs"><tspan font-style="italic">P</tspan>&lt;0.0001</text>
<text transform="translate(183.2 541.7) rotate(-90)" x="0" y="3.37" font-size="9.4" text-anchor="middle" textLength="110" lengthAdjust="spacingAndGlyphs">NA (ng/g tissue weight )</text>
<text x="311.2" y="446.77" font-size="9.7" font-weight="bold">i</text>
<text transform="translate(327.3 484.5) rotate(-90)" x="0" y="3.19" font-size="8.9" text-anchor="middle" textLength="67" lengthAdjust="spacingAndGlyphs">sympathectomy</text>
<text transform="translate(327.3 575.5) rotate(-90)" x="0" y="3.19" font-size="8.9" text-anchor="middle" textLength="23.5" lengthAdjust="spacingAndGlyphs">sham</text>
<filter id="ib2" x="-50%" y="-50%" width="200%" height="200%"><feGaussianBlur stdDeviation="1.6"/></filter>
<filter id="ib5" x="-80%" y="-80%" width="260%" height="260%"><feGaussianBlur stdDeviation="9"/></filter>
<filter id="ib0" x="-50%" y="-50%" width="200%" height="200%"><feGaussianBlur stdDeviation="0.5"/></filter>
<filter id="inoise" x="0" y="0" width="100%" height="100%"><feTurbulence type="fractalNoise" baseFrequency="0.9" numOctaves="2" seed="3" result="n"/><feColorMatrix in="n" type="matrix" values="0 0 0 0 1  0 0 0 0 0.05  0 0 0 0 0.05  0.55 0 0 0 -0.2"/><feComposite in2="SourceGraphic" operator="in"/></filter>
<filter id="imott" x="0" y="0" width="100%" height="100%"><feTurbulence type="fractalNoise" baseFrequency="0.045" numOctaves="3" seed="8" result="n"/><feColorMatrix in="n" type="matrix" values="0 0 0 0 0.78  0 0 0 0 0.04  0 0 0 0 0.04  1.1 0 0 0 -0.42"/><feComposite in2="SourceGraphic" operator="in"/></filter>
<filter id="idark" x="0" y="0" width="100%" height="100%"><feTurbulence type="fractalNoise" baseFrequency="0.04" numOctaves="3" seed="21" result="n"/><feColorMatrix in="n" type="matrix" values="0 0 0 0 0.2  0 0 0 0 0  0 0 0 0 0  0 1.2 0 0 -0.46"/><feComposite in2="SourceGraphic" operator="in"/></filter>
<clipPath id="ic1"><rect x="335" y="442" width="133.5" height="86.4"/></clipPath>
<clipPath id="ic2"><rect x="335" y="529.6" width="133.5" height="85.8"/></clipPath>
<g clip-path="url(#ic1)">
<rect x="335" y="442" width="133.5" height="86.4" fill="#920b0c" stroke="none" stroke-width="0" rx="0"/>
<rect x="335" y="442" width="133.5" height="86.4" fill="#fff" stroke="none" stroke-width="0" rx="0" filter="url(#imott)"/>
<rect x="335" y="442" width="133.5" height="86.4" fill="#fff" stroke="none" stroke-width="0" rx="0" filter="url(#idark)"/>
<path d="M338 470 Q350 462 372 466 Q392 468 396 482 Q400 494 420 494 Q445 494 462 483" stroke="#3a0000" stroke-width="2.8" fill="none" filter="url(#ib2)"/>
<path d="M468 462 q-4 4 -2 12" stroke="#300000" stroke-width="2.5" fill="none" filter="url(#ib2)"/>
<path d="M446 500 Q458 508 462 522" stroke="#3a0000" stroke-width="2.6" fill="none" filter="url(#ib2)"/>
<path d="M400 445 q10 4 22 2" stroke="#600404" stroke-width="1.5" fill="none" filter="url(#ib2)"/>
<rect x="335" y="442" width="133.5" height="86.4" fill="#fff" stroke="none" stroke-width="0" rx="0" filter="url(#inoise)" opacity="0.55"/>
</g>
<rect x="335" y="528.3" width="133.5" height="1.3" fill="#c9a0a4" stroke="none" stroke-width="0" rx="0"/>
<g clip-path="url(#ic2)">
<rect x="335" y="529.6" width="133.5" height="85.8" fill="#6c0808" stroke="none" stroke-width="0" rx="0"/>
<rect x="335" y="529.6" width="133.5" height="85.8" fill="#fff" stroke="none" stroke-width="0" rx="0" filter="url(#imott)" opacity="0.7"/>
<rect x="335" y="529.6" width="133.5" height="85.8" fill="#fff" stroke="none" stroke-width="0" rx="0" filter="url(#idark)"/>
<path d="M337 531 q12 4 30 1" stroke="#2a0000" stroke-width="2.4" fill="none" filter="url(#ib2)"/>
<path d="M425 552 Q445 556 466 560" stroke="#360000" stroke-width="2" fill="none" filter="url(#ib2)"/>
<path d="M340 582 Q365 590 380 596" stroke="#3a0000" stroke-width="1.8" fill="none" filter="url(#ib2)"/>
<path d="M355 606 q8 4 14 3" stroke="#2e0000" stroke-width="2" fill="none" filter="url(#ib2)"/>
<path d="M336 572 Q352 578 364 584 T394 596 T420 612 L428 616" stroke="#e81414" stroke-width="1.1" fill="none" filter="url(#ib0)"/>
<path d="M350 580 Q370 590 388 594 T410 602" stroke="#c81010" stroke-width="0.8" fill="none" filter="url(#ib0)"/>
<path d="M348 558 l6 -4 M370 538 l4 -5 M432 538 l2 -8 M446 532 l4 2 M448 562 l8 1 M384 600 l-4 6 M402 590 l2 6 M418 574 l4 -2" stroke="#d81212" stroke-width="0.9" fill="none" filter="url(#ib0)"/>
<circle cx="422.5" cy="587.5" r="1.3" fill="#d01010" stroke="none" stroke-width="0"/>
<circle cx="428" cy="559" r="3" fill="#8e0c0c" stroke="none" stroke-width="0"/>
<rect x="335" y="529.6" width="133.5" height="85.8" fill="#fff" stroke="none" stroke-width="0" rx="0" filter="url(#inoise)" opacity="0.5"/>
</g>
<text x="344.7" y="458.24" font-size="11" fill="#e01212" textLength="14.8" lengthAdjust="spacingAndGlyphs">TH</text>
<text x="344.7" y="544.74" font-size="11" fill="#e01212" textLength="14.8" lengthAdjust="spacingAndGlyphs">TH</text>
<rect x="436.6" y="522.9" width="28.4" height="1.9" fill="#f3d3d3" stroke="none" stroke-width="0" rx="0"/>
<rect x="436.6" y="610" width="28.4" height="1.9" fill="#f3d3d3" stroke="none" stroke-width="0" rx="0"/>
<polygon transform="translate(372.4 547) rotate(-128)" points="4.37,0 -3.78,-3.78 -2.86,0 -3.78,3.78" fill="#fff"/>
<polygon transform="translate(436.9 543.3) rotate(-128)" points="4.37,0 -3.78,-3.78 -2.86,0 -3.78,3.78" fill="#fff"/>
<polygon transform="translate(352.4 563.8) rotate(-128)" points="4.37,0 -3.78,-3.78 -2.86,0 -3.78,3.78" fill="#fff"/>
<polygon transform="translate(377.2 575.2) rotate(0)" points="4.37,0 -3.78,-3.78 -2.86,0 -3.78,3.78" fill="#fff"/>
<polygon transform="translate(388 579.8) rotate(0)" points="4.37,0 -3.78,-3.78 -2.86,0 -3.78,3.78" fill="#fff"/>
<polygon transform="translate(425.6 603.6) rotate(-15)" points="4.37,0 -3.78,-3.78 -2.86,0 -3.78,3.78" fill="#fff"/>
<text x="487.5" y="447.77" font-size="9.7" font-weight="bold">j</text>
<circle cx="499.5" cy="455.6" r="1.9" fill="#000" stroke="none" stroke-width="0"/>
<circle cx="499.5" cy="467.5" r="1.9" fill="#ff1414" stroke="none" stroke-width="0"/>
<polygon points="499.5,475.6 497.69,479.02 501.31,479.02" fill="#000" fill-opacity="1" stroke="none" stroke-width="0"/>
<polygon points="499.5,486.1 497.69,489.52 501.31,489.52" fill="#ff1414" fill-opacity="1" stroke="none" stroke-width="0"/>
<text x="521.3" y="458.79" font-size="8.9" textLength="81" lengthAdjust="spacingAndGlyphs">mCherry-CNO, n=7</text>
<text x="521.3" y="470.69" font-size="8.9" textLength="76" lengthAdjust="spacingAndGlyphs">hM3Dq-CNO, n=8</text>
<text x="521.3" y="480.69" font-size="8.9" textLength="130.5" lengthAdjust="spacingAndGlyphs">Control &amp; sympathectomy, n=5</text>
<text x="521.3" y="491.19" font-size="8.9" textLength="154.5" lengthAdjust="spacingAndGlyphs">hM3Dq-CNO &amp; sympathectomy, n=4</text>
<line x1="552.7" y1="517.2" x2="552.7" y2="596.5" stroke="#000" stroke-width="1.1"/>
<line x1="552.25" y1="596.5" x2="604.2" y2="596.5" stroke="#000" stroke-width="1.1"/>
<line x1="546.2" y1="596.5" x2="552.7" y2="596.5" stroke="#000" stroke-width="1.1"/>
<text x="544.2" y="599.97" font-size="9.7" text-anchor="end">0.0</text>
<line x1="546.2" y1="580.64" x2="552.7" y2="580.64" stroke="#000" stroke-width="1.1"/>
<text x="544.2" y="584.11" font-size="9.7" text-anchor="end">0.5</text>
<line x1="546.2" y1="564.78" x2="552.7" y2="564.78" stroke="#000" stroke-width="1.1"/>
<text x="544.2" y="568.25" font-size="9.7" text-anchor="end">1.0</text>
<line x1="546.2" y1="548.92" x2="552.7" y2="548.92" stroke="#000" stroke-width="1.1"/>
<text x="544.2" y="552.39" font-size="9.7" text-anchor="end">1.5</text>
<line x1="546.2" y1="533.06" x2="552.7" y2="533.06" stroke="#000" stroke-width="1.1"/>
<text x="544.2" y="536.53" font-size="9.7" text-anchor="end">2.0</text>
<line x1="546.2" y1="517.2" x2="552.7" y2="517.2" stroke="#000" stroke-width="1.1"/>
<text x="544.2" y="520.67" font-size="9.7" text-anchor="end">2.5</text>
<line x1="556.8" y1="560.66" x2="564" y2="560.66" stroke="#000" stroke-width="0.9"/>
<path d="M560.4 553.04V568.27M558.2 553.04H562.6M558.2 568.27H562.6" fill="none" stroke="#000" stroke-width="0.8"/>
<circle cx="560.4" cy="530.84" r="1.9" fill="#000" stroke="none" stroke-width="0"/>
<circle cx="560.4" cy="536.23" r="1.9" fill="#000" stroke="none" stroke-width="0"/>
<circle cx="558.8" cy="564.78" r="1.9" fill="#000" stroke="none" stroke-width="0"/>
<circle cx="562" cy="568.59" r="1.9" fill="#000" stroke="none" stroke-width="0"/>
<circle cx="558.8" cy="571.76" r="1.9" fill="#000" stroke="none" stroke-width="0"/>
<circle cx="562.2" cy="573.03" r="1.9" fill="#000" stroke="none" stroke-width="0"/>
<circle cx="560.4" cy="581.59" r="1.9" fill="#000" stroke="none" stroke-width="0"/>
<line x1="568.3" y1="583.18" x2="575.5" y2="583.18" stroke="#ff1414" stroke-width="0.9"/>
<path d="M571.9 580.32V586.03M569.7 580.32H574.1M569.7 586.03H574.1" fill="none" stroke="#ff1414" stroke-width="0.8"/>
<circle cx="572.3" cy="572.71" r="1.9" fill="#ff1414" stroke="none" stroke-width="0"/>
<circle cx="570.9" cy="577.47" r="1.9" fill="#ff1414" stroke="none" stroke-width="0"/>
<circle cx="573.7" cy="578.74" r="1.9" fill="#ff1414" stroke="none" stroke-width="0"/>
<circle cx="571.9" cy="580.64" r="1.9" fill="#ff1414" stroke="none" stroke-width="0"/>
<circle cx="573.4" cy="585.08" r="1.9" fill="#ff1414" stroke="none" stroke-width="0"/>
<circle cx="570.9" cy="586.98" r="1.9" fill="#ff1414" stroke="none" stroke-width="0"/>
<circle cx="572.7" cy="588.89" r="1.9" fill="#ff1414" stroke="none" stroke-width="0"/>
<circle cx="571.9" cy="596.5" r="1.9" fill="#ff1414" stroke="none" stroke-width="0"/>
<line x1="580.6" y1="591.11" x2="587.8" y2="591.11" stroke="#000" stroke-width="0.9"/>
<path d="M584.2 589.2V593.01M582 589.2H586.4M582 593.01H586.4" fill="none" stroke="#000" stroke-width="0.8"/>
<polygon points="584.2,582.45 582.3,586.05 586.1,586.05" fill="#000" fill-opacity="1" stroke="none" stroke-width="0"/>
<polygon points="582.4,588.16 580.5,591.76 584.3,591.76" fill="#000" fill-opacity="1" stroke="none" stroke-width="0"/>
<polygon points="586,589.42 584.1,593.02 587.9,593.02" fill="#000" fill-opacity="1" stroke="none" stroke-width="0"/>
<polygon points="584.2,590.69 582.3,594.29 586.1,594.29" fill="#000" fill-opacity="1" stroke="none" stroke-width="0"/>
<polygon points="584.2,593.23 582.3,596.83 586.1,596.83" fill="#000" fill-opacity="1" stroke="none" stroke-width="0"/>
<line x1="592.5" y1="587.94" x2="599.7" y2="587.94" stroke="#ff1414" stroke-width="0.9"/>
<path d="M596.1 585.72V590.16M593.9 585.72H598.3M593.9 590.16H598.3" fill="none" stroke="#ff1414" stroke-width="0.8"/>
<polygon points="597.9,581.18 596,584.78 599.8,584.78" fill="#ff1414" fill-opacity="1" stroke="none" stroke-width="0"/>
<polygon points="594.5,583.72 592.6,587.32 596.4,587.32" fill="#ff1414" fill-opacity="1" stroke="none" stroke-width="0"/>
<polygon points="597.3,588.16 595.4,591.76 599.2,591.76" fill="#ff1414" fill-opacity="1" stroke="none" stroke-width="0"/>
<polygon points="594.5,591.33 592.6,594.93 596.4,594.93" fill="#ff1414" fill-opacity="1" stroke="none" stroke-width="0"/>
<text x="574.3" y="508.49" font-size="8.9" text-anchor="middle" textLength="29.5" lengthAdjust="spacingAndGlyphs">0.0024</text>
<line x1="559.3" y1="511.3" x2="584.8" y2="511.3" stroke="#000" stroke-width="0.9"/>
<text x="568.3" y="523.49" font-size="8.9" text-anchor="middle" textLength="24" lengthAdjust="spacingAndGlyphs">0.014</text>
<line x1="560.8" y1="526.3" x2="573.4" y2="526.3" stroke="#000" stroke-width="0.9"/>
<text x="584.8" y="553.99" font-size="8.9" text-anchor="middle" textLength="18.5" lengthAdjust="spacingAndGlyphs">0.87</text>
<line x1="572.2" y1="557" x2="598.2" y2="557" stroke="#000" stroke-width="0.9"/>
<text x="590.7" y="574.09" font-size="8.9" text-anchor="middle" textLength="18.5" lengthAdjust="spacingAndGlyphs">0.98</text>
<line x1="583.9" y1="577.1" x2="597.3" y2="577.1" stroke="#000" stroke-width="0.9"/>
<text x="574.3" y="609.39" font-size="8.9" text-anchor="middle" font-style="italic" textLength="21" lengthAdjust="spacingAndGlyphs">Ucp1</text>
<text transform="translate(518.4 559.7) rotate(-90)" x="0" y="3.19" font-size="8.9" text-anchor="middle" textLength="88" lengthAdjust="spacingAndGlyphs">Relative mRNA Level</text>
<text x="21.5" y="630.97" font-size="9.7" font-weight="bold">k</text>
<text x="32.8" y="640.36" font-size="8" textLength="45" lengthAdjust="spacingAndGlyphs">Saline/CNO</text>
<polygon points="29.18,684.8 30.12,684.01 31.05,683.91 31.98,684.22 32.92,684.41 33.85,683.88 34.78,683.54 35.72,683.74 36.65,682.8 37.58,682.06 38.52,681.99 39.45,682.3 40.38,681.66 41.32,681.49 42.25,681.46 43.18,682.36 44.12,682.11 45.05,682.01 45.98,681.86 46.92,681.27 47.85,679.2 48.78,676.74 49.72,675.47 50.65,679.62 51.58,684.39 52.52,688.94 53.45,693.27 54.38,698.02 55.32,702.53 56.25,704.88 57.18,708.64 58.12,711.28 59.05,712.72 59.98,714.22 60.92,715.92 61.85,718.6 62.78,720.36 63.72,722.41 64.65,723.26 65.58,724.25 66.52,725.23 67.45,726.61 68.38,727.42 69.32,727.84 70.25,727.73 71.18,728.78 72.12,728.67 73.05,729.05 73.98,728.75 74.92,729.51 75.85,728.95 76.78,729.26 77.72,728.74 78.65,729.03 79.58,728.36 80.52,729 81.45,728.86 82.38,729.2 83.32,728.69 84.25,729.8 85.18,729.2 86.12,728.85 87.05,728.62 87.98,728.8 88.92,728.42 89.85,728.38 90.78,728.24 91.72,727.91 92.65,727.2 93.58,725.85 94.52,725.5 95.45,725.01 96.38,724.64 97.31,724.25 98.25,723.99 99.18,723.72 100.11,722.97 101.05,723.22 101.98,722.8 102.91,721.8 103.85,721.55 104.78,721.44 105.71,720.72 106.65,720.49 107.58,719.74 108.51,719.2 109.45,718.77 110.38,718.73 111.31,717.25 112.25,717.68 113.18,717.64 114.11,717.55 115.05,717.8 115.98,716.86 116.91,716.11 117.85,715.56 118.78,715.85 119.71,716.13 120.65,715.53 121.58,715.6 122.51,716.21 123.45,715.56 124.38,714.98 125.31,715.65 126.25,714.5 127.18,714.09 128.11,713.25 129.05,712.7 129.98,712.92 130.91,713.9 131.85,712.97 132.78,711.74 133.71,711.7 134.65,711.45 135.58,710.51 136.51,710.48 137.45,709.96 138.38,709.81 139.31,708.68 140.25,707.94 141.18,707.95 142.11,707.61 143.05,707.83 143.98,707.51 144.91,707.49 145.85,706.83 146.78,706.61 147.71,706.29 148.65,706.75 149.58,707.06 150.51,707.3 151.45,706.86 152.38,707.02 153.31,706.19 154.25,705.62 155.18,705.36 156.11,704.44 157.05,704.26 157.98,704.22 158.91,703.64 159.85,703.78 160.78,703.76 161.71,703.53 162.65,702.98 163.58,702.71 164.51,702.81 165.45,702.71 166.38,702.3 167.31,702.59 168.25,702.67 169.18,701.32 170.11,700.91 171.05,700.86 171.98,700.79 172.91,700.45 173.85,701.25 174.78,701.66 175.71,701.11 176.65,700.05 177.58,698.96 178.51,698.86 179.45,697.61 180.38,697.99 181.31,698.31 182.25,699.06 183.18,699.64 184.11,699.66 185.05,699.94 185.98,699.33 186.91,698.88 187.84,698.05 188.78,698.7 189.71,698.33 190.64,697.72 191.58,697.68 192.51,698.09 193.44,698.05 194.38,697.64 195.31,697.71 196.24,697.53 197.18,696.29 198.11,696.07 199.04,695.33 199.98,695.45 200.91,695.41 201.84,695.54 202.78,695.79 203.71,696.2 204.64,696.75 205.58,696.5 206.51,695.19 207.44,695.06 208.38,694.1 209.31,693.04 210.24,693.2 211.18,693.05 212.11,693.17 213.04,693.85 213.98,693.49 214.91,694.04 215.84,693.63 215.84,721.2 214.91,721.08 213.98,721.54 213.04,720.43 212.11,720.21 211.18,720.22 210.24,719.87 209.31,719.8 208.38,720.43 207.44,721.51 206.51,722.48 205.58,722.95 204.64,723.54 203.71,723.52 202.78,722.41 201.84,722.58 200.91,721.83 199.98,722.47 199.04,723.5 198.11,724.58 197.18,725.42 196.24,725.71 195.31,724.95 194.38,724.14 193.44,724.48 192.51,724.99 191.58,724.22 190.64,724.24 189.71,724.91 188.78,725.16 187.84,725.1 186.91,726.33 185.98,726.83 185.05,727.09 184.11,726.46 183.18,726.68 182.25,725.95 181.31,724.86 180.38,725.13 179.45,725.78 178.51,726.21 177.58,727.1 176.65,727.64 175.71,727.51 174.78,727.96 173.85,727.8 172.91,727.96 171.98,728.76 171.05,727.68 170.11,728.36 169.18,728.82 168.25,729.26 167.31,729.11 166.38,729.06 165.45,729.2 164.51,729.42 163.58,730.15 162.65,730.68 161.71,731.25 160.78,730.66 159.85,731.16 158.91,731.46 157.98,731.39 157.05,732.24 156.11,732.26 155.18,731.92 154.25,732.52 153.31,733.26 152.38,733.73 151.45,734.51 150.51,733.87 149.58,733.44 148.65,733.41 147.71,733.59 146.78,734.28 145.85,733.85 144.91,734.51 143.98,734.48 143.05,734.3 142.11,734.26 141.18,734.28 140.25,734.87 139.31,735.98 138.38,736.18 137.45,736.56 136.51,736.88 135.58,737.27 134.65,738.07 133.71,738.05 132.78,738.87 131.85,739.59 130.91,740.32 129.98,739.75 129.05,740.25 128.11,740.58 127.18,740.9 126.25,741.58 125.31,742.12 124.38,743.12 123.45,742.87 122.51,742.77 121.58,742.18 120.65,742.62 119.71,742.8 118.78,743.46 117.85,743.67 116.91,744.5 115.98,744.88 115.05,744.92 114.11,746.02 113.18,746.7 112.25,746.26 111.31,745.48 110.38,745.36 109.45,745.91 108.51,745.68 107.58,746.66 106.65,746.82 105.71,746.99 104.78,747.6 103.85,747.7 102.91,747.75 101.98,748.3 101.05,747.66 100.11,747.85 99.18,748.06 98.25,748.24 97.31,747.8 96.38,747.89 95.45,748.55 94.52,749.59 93.58,750.49 92.65,750.26 91.72,750.14 90.78,749.81 89.85,749.1 88.92,748.7 87.98,748.91 87.05,748.57 86.12,748.51 85.18,748.3 84.25,748.73 83.32,749.28 82.38,749.06 81.45,748.68 80.52,748.75 79.58,748.12 78.65,747.59 77.72,747.38 76.78,746.91 75.85,746.11 74.92,745.74 73.98,744.47 73.05,744.5 72.12,743.91 71.18,743.96 70.25,743.36 69.32,742.78 68.38,741.49 67.45,740.22 66.52,738.96 65.58,738.5 64.65,736.8 63.72,734.83 62.78,732.61 61.85,731.29 60.92,729.19 59.98,726.71 59.05,724.33 58.12,722.21 57.18,719.24 56.25,715.65 55.32,712.45 54.38,707.61 53.45,703.26 52.52,698.01 51.58,694.4 50.65,689.81 49.72,685.87 48.78,686.62 47.85,688.24 46.92,688.52 45.98,689.19 45.05,689.85 44.12,689.24 43.18,689.58 42.25,690.28 41.32,689.63 40.38,688.82 39.45,689.73 38.52,689.75 37.58,690.6 36.65,691.34 35.72,690.89 34.78,691.34 33.85,691.73 32.92,691.55 31.98,691.68 31.05,692.37 30.12,692.66 29.18,692.85" fill="#ff3f8e" fill-opacity="0.95" stroke="none" stroke-width="0"/>
<polygon points="29.18,688.69 30.12,688.39 31.05,688.35 31.98,688.27 32.92,688.92 33.85,688.65 34.78,688.24 35.72,688.38 36.65,689.01 37.58,689.07 38.52,689.8 39.45,689.62 40.38,689.02 41.32,688.68 42.25,688.17 43.18,688.65 44.12,688.17 45.05,687.74 45.98,687.75 46.92,687.69 47.85,686.35 48.78,683.26 49.72,680.75 50.65,682.36 51.58,684.83 52.52,687.37 53.45,690.6 54.38,694.31 55.32,697.93 56.25,700.86 57.18,703.77 58.12,705.32 59.05,706.88 59.98,709.78 60.92,712.25 61.85,714.01 62.78,714.69 63.72,716.17 64.65,717.52 65.58,718.74 66.52,719.74 67.45,720.41 68.38,721.5 69.32,721.64 70.25,722.8 71.18,723.27 72.12,723.8 73.05,723.73 73.98,724.18 74.92,724.22 75.85,724.23 76.78,724.83 77.72,724.58 78.65,724.48 79.58,724.76 80.52,724.72 81.45,724.19 82.38,724.01 83.32,724.28 84.25,724.82 85.18,724.65 86.12,724.43 87.05,724.38 87.98,723.85 88.92,722.32 89.85,722.31 90.78,722.17 91.72,720.98 92.65,720.2 93.58,720.67 94.52,719.56 95.45,719.37 96.38,719.14 97.31,718.93 98.25,718.6 99.18,718.45 100.11,717.72 101.05,717.35 101.98,716.96 102.91,715.81 103.85,715.32 104.78,715.53 105.71,714.54 106.65,714.03 107.58,714.01 108.51,713.73 109.45,713.46 110.38,712.71 111.31,711.96 112.25,711.79 113.18,711.41 114.11,711.43 115.05,711.73 115.98,711.84 116.91,711.17 117.85,710.64 118.78,709.87 119.71,709.3 120.65,709.49 121.58,709.7 122.51,709.56 123.45,709.8 124.38,709.18 125.31,708.65 126.25,708.24 127.18,707.54 128.11,706.99 129.05,706.74 129.98,706.59 130.91,706.03 131.85,705.21 132.78,705.27 133.71,704.98 134.65,704.93 135.58,704.53 136.51,704.24 137.45,703.61 138.38,704.05 139.31,703.31 140.25,704.12 141.18,703.04 142.11,702.57 143.05,701.76 143.98,701.61 144.91,700.36 145.85,700.36 146.78,700.85 147.71,700.82 148.65,699.63 149.58,699.76 150.51,700.31 151.45,700.07 152.38,700.24 153.31,700.41 154.25,699.43 155.18,699.03 156.11,698.81 157.05,698.09 157.98,697.54 158.91,697.8 159.85,697.72 160.78,697.15 161.71,697.24 162.65,696.94 163.58,696.78 164.51,696.55 165.45,696.12 166.38,696.13 167.31,696.16 168.25,695.25 169.18,694.57 170.11,694.32 171.05,694.43 171.98,694.72 172.91,694.2 173.85,694.77 174.78,694.82 175.71,694.58 176.65,694.39 177.58,694.77 178.51,694.74 179.45,694.61 180.38,693.81 181.31,693.83 182.25,693.91 183.18,694.69 184.11,694.34 185.05,693.29 185.98,693.03 186.91,693.55 187.84,693.51 188.78,693.01 189.71,693.2 190.64,693.29 191.58,693.36 192.51,692.71 193.44,693.31 194.38,693.25 195.31,692.57 196.24,691.99 197.18,691.72 198.11,692.52 199.04,691.99 199.98,692.12 200.91,691.78 201.84,692.03 202.78,692.1 203.71,692.01 204.64,692.61 205.58,692.32 206.51,692.52 207.44,692.25 208.38,691.66 209.31,691.28 210.24,690.93 211.18,690.38 212.11,689.98 213.04,688.84 213.98,688.41 214.91,688.27 215.84,689.47 215.84,694.04 214.91,694.26 213.98,694.49 213.04,694.84 212.11,693.6 211.18,694.7 210.24,696.31 209.31,696.88 208.38,696.8 207.44,696.32 206.51,696.3 205.58,697.02 204.64,696.54 203.71,696.75 202.78,696.69 201.84,697.33 200.91,697.47 199.98,697.74 199.04,697.7 198.11,698.7 197.18,699.36 196.24,699.57 195.31,699.65 194.38,700.26 193.44,700.28 192.51,701.2 191.58,701.41 190.64,701.58 189.71,702.46 188.78,702.64 187.84,702.8 186.91,702.96 185.98,704.25 185.05,704.36 184.11,704.1 183.18,704.36 182.25,704.44 181.31,705.14 180.38,705.58 179.45,705.22 178.51,706.49 177.58,707.8 176.65,707.82 175.71,707.79 174.78,708.32 173.85,707.36 172.91,707.48 171.98,707.83 171.05,707.73 170.11,707.99 169.18,708.64 168.25,708.69 167.31,708.9 166.38,709.85 165.45,709.76 164.51,709.67 163.58,710.51 162.65,710 161.71,710.82 160.78,711.1 159.85,711.27 158.91,712.14 157.98,713.26 157.05,712.88 156.11,713.57 155.18,713.77 154.25,713.96 153.31,713.28 152.38,713.75 151.45,714.24 150.51,714.49 149.58,714.45 148.65,714.64 147.71,713.92 146.78,713.99 145.85,714.53 144.91,714.46 143.98,714.38 143.05,715.73 142.11,715.83 141.18,716.22 140.25,716.8 139.31,717.19 138.38,716.61 137.45,716.97 136.51,717.22 135.58,718.07 134.65,717.89 133.71,718.29 132.78,718.98 131.85,719.58 130.91,718.72 129.98,719.41 129.05,719.38 128.11,719.95 127.18,720.4 126.25,720.98 125.31,721.53 124.38,722 123.45,722.74 122.51,723.33 121.58,723.11 120.65,723.13 119.71,723.96 118.78,723.58 117.85,723.53 116.91,723.78 115.98,724.65 115.05,725.52 114.11,724.97 113.18,725.03 112.25,725.47 111.31,726 110.38,725.67 109.45,726.28 108.51,726.45 107.58,726.71 106.65,727.21 105.71,727.5 104.78,728.13 103.85,729.47 102.91,730.28 101.98,730.15 101.05,731.23 100.11,730.6 99.18,731.26 98.25,731.15 97.31,732.28 96.38,732.46 95.45,732.92 94.52,733.3 93.58,733.38 92.65,733.2 91.72,733.64 90.78,734.8 89.85,735.63 88.92,736.5 87.98,737.28 87.05,737.34 86.12,738.02 85.18,737.49 84.25,737.66 83.32,737.54 82.38,737.4 81.45,736.72 80.52,737.37 79.58,737.45 78.65,737.29 77.72,737.27 76.78,737.38 75.85,737.22 74.92,736.68 73.98,736.67 73.05,736.81 72.12,735.83 71.18,734.94 70.25,734.29 69.32,733.91 68.38,733.44 67.45,731.9 66.52,730.13 65.58,729.12 64.65,728.1 63.72,726.87 62.78,725.06 61.85,723.49 60.92,720.89 59.98,719.36 59.05,717.04 58.12,714.63 57.18,711.37 56.25,708.72 55.32,705.85 54.38,702.54 53.45,699.49 52.52,695.69 51.58,693.38 50.65,691.08 49.72,688.71 48.78,689.96 47.85,692.24 46.92,693.02 45.98,694.02 45.05,693.92 44.12,693.83 43.18,693.68 42.25,694.31 41.32,694.12 40.38,694.25 39.45,694.86 38.52,694.83 37.58,694.68 36.65,694.4 35.72,694.25 34.78,693.8 33.85,693.95 32.92,694.03 31.98,693.42 31.05,694.07 30.12,693.48 29.18,693.75" fill="#8a5ccc" fill-opacity="0.9" stroke="none" stroke-width="0"/>
<polygon points="29.18,687.99 30.12,688.87 31.05,688.45 31.98,688.88 32.92,688.81 33.85,688.83 34.78,688.56 35.72,688.43 36.65,687.89 37.58,688.27 38.52,686.97 39.45,686.53 40.38,686.84 41.32,688.25 42.25,689.05 43.18,689.04 44.12,689.7 45.05,688.35 45.98,687.32 46.92,687.48 47.85,686.55 48.78,680.87 49.72,677.31 50.65,674.25 51.58,670.94 52.52,668.67 53.45,670.34 54.38,669.68 55.32,671.11 56.25,673.42 57.18,674.29 58.12,674.31 59.05,675.22 59.98,676.85 60.92,677.34 61.85,679.18 62.78,678.38 63.72,678.4 64.65,679.81 65.58,680.57 66.52,680.97 67.45,683.55 68.38,684.53 69.32,684.31 70.25,684.54 71.18,684.23 72.12,684.46 73.05,683.76 73.98,683.81 74.92,683.05 75.85,683.37 76.78,683.32 77.72,682.42 78.65,682.27 79.58,682.63 80.52,682.08 81.45,681.53 82.38,682.52 83.32,682.51 84.25,682.24 85.18,682.72 86.12,683.69 87.05,683.54 87.98,683.6 88.92,682.69 89.85,683.45 90.78,682.9 91.72,683.11 92.65,683.85 93.58,684.22 94.52,683.92 95.45,684.05 96.38,683.66 97.31,684.21 98.25,685.14 99.18,685.4 100.11,686.08 101.05,687.88 101.98,688.43 102.91,688.3 103.85,688.27 104.78,688.7 105.71,689.37 106.65,688.95 107.58,688.53 108.51,688.58 109.45,689.36 110.38,689.82 111.31,689.92 112.25,691.41 113.18,692.65 114.11,691.71 115.05,691.32 115.98,691.6 116.91,692.94 117.85,692.65 118.78,692.84 119.71,693.83 120.65,694.12 121.58,693.49 122.51,693.07 123.45,693.35 124.38,692.2 125.31,691.54 126.25,691.3 127.18,691.64 128.11,690.53 129.05,689.4 129.98,689.99 130.91,690.72 131.85,691 132.78,689.65 133.71,689.79 134.65,688.75 135.58,687.75 136.51,687.9 137.45,689.49 138.38,689.11 139.31,689.54 140.25,688.38 141.18,688.39 142.11,687.79 143.05,686.96 143.98,685.53 144.91,685.63 145.85,684.59 146.78,685.09 147.71,685.57 148.65,686.81 149.58,687.99 150.51,687.37 151.45,687.86 152.38,688.05 153.31,688.53 154.25,687.69 155.18,687.85 156.11,686.98 157.05,686.6 157.98,685.32 158.91,684.09 159.85,683.98 160.78,683.7 161.71,685.1 162.65,685.76 163.58,685.97 164.51,686.08 165.45,684.72 166.38,684.82 167.31,684.8 168.25,684.94 169.18,684.89 170.11,687.13 171.05,687.68 171.98,687.6 172.91,687.41 173.85,687.11 174.78,686.85 175.71,685.69 176.65,685.95 177.58,685.82 178.51,686.52 179.45,686.72 180.38,687.82 181.31,687.84 182.25,687.9 183.18,687.34 184.11,686.93 185.05,686.68 185.98,686.7 186.91,686.45 187.84,686.13 188.78,686.03 189.71,686.42 190.64,686.61 191.58,686.8 192.51,687.34 193.44,687.34 194.38,687.44 195.31,689.12 196.24,688.52 197.18,687.48 198.11,687.83 199.04,688.09 199.98,686.47 200.91,687.2 201.84,687.85 202.78,687.06 203.71,686.83 204.64,687.79 205.58,686.18 206.51,685.48 207.44,683.65 208.38,682.81 209.31,682.47 210.24,682.78 211.18,682.83 212.11,683.15 213.04,682.92 213.98,682.51 214.91,682.87 215.84,682.56 215.84,691.13 214.91,691.7 213.98,690.98 213.04,691.18 212.11,690.71 211.18,691.79 210.24,691.79 209.31,692.19 208.38,692.74 207.44,692.81 206.51,693.36 205.58,693.93 204.64,695.37 203.71,694.52 202.78,695.38 201.84,695.47 200.91,694.87 199.98,694.04 199.04,695.89 198.11,696.83 197.18,695.62 196.24,696.47 195.31,697.09 194.38,695.73 193.44,695.23 192.51,695.8 191.58,694.39 190.64,694.23 189.71,695.02 188.78,694.88 187.84,694.82 186.91,696.2 185.98,696.52 185.05,696.67 184.11,697.2 183.18,697.15 182.25,697.04 181.31,695.95 180.38,695.5 179.45,694.67 178.51,694.04 177.58,694.11 176.65,694.34 175.71,694.06 174.78,694.46 173.85,695.55 172.91,695.61 171.98,695.93 171.05,696.9 170.11,696.55 169.18,695.2 168.25,694.15 167.31,692.99 166.38,692.66 165.45,692.93 164.51,694.19 163.58,694.13 162.65,693.72 161.71,694.21 160.78,693.83 159.85,694.25 158.91,694 157.98,693.49 157.05,694.13 156.11,695.85 155.18,696.77 154.25,695.8 153.31,696.14 152.38,695.88 151.45,696.6 150.51,696.42 149.58,696.4 148.65,695.77 147.71,694.82 146.78,693.55 145.85,692.46 144.91,693.81 143.98,693.65 143.05,695.18 142.11,696.99 141.18,698.58 140.25,697.8 139.31,698.06 138.38,698.11 137.45,697.69 136.51,696.2 135.58,696.19 134.65,698.17 133.71,697.83 132.78,698.38 131.85,698.75 130.91,699.38 129.98,698.3 129.05,698.43 128.11,698.59 127.18,699.94 126.25,701.21 125.31,701.32 124.38,701.42 123.45,701.48 122.51,700.98 121.58,701.1 120.65,702.87 119.71,702.99 118.78,701.72 117.85,700.92 116.91,700.78 115.98,699.96 115.05,699.42 114.11,700.18 113.18,700.43 112.25,700.58 111.31,700.04 110.38,699.56 109.45,699.36 108.51,698.47 107.58,697.54 106.65,697.23 105.71,697.3 104.78,697.55 103.85,696.97 102.91,695.96 101.98,696.71 101.05,696.17 100.11,694.56 99.18,694.3 98.25,693.82 97.31,692.14 96.38,691.74 95.45,691.84 94.52,691.61 93.58,692.05 92.65,692.19 91.72,692.36 90.78,692.52 89.85,693.22 88.92,692.91 87.98,691.66 87.05,691.64 86.12,691.57 85.18,690.45 84.25,690.45 83.32,690.88 82.38,691.79 81.45,691.62 80.52,692.33 79.58,691.36 78.65,691.27 77.72,691.06 76.78,690.87 75.85,691.53 74.92,691.45 73.98,692 73.05,691.71 72.12,693.09 71.18,692.95 70.25,693.04 69.32,692.67 68.38,692.12 67.45,691.19 66.52,689.58 65.58,688.88 64.65,688.73 63.72,689.11 62.78,687.6 61.85,687.63 60.92,686.34 59.98,685.2 59.05,683.7 58.12,681.89 57.18,682.07 56.25,681.08 55.32,679.36 54.38,678.58 53.45,678.42 52.52,676.59 51.58,679.44 50.65,682.78 49.72,686.39 48.78,690.77 47.85,695.94 46.92,695.27 45.98,695.53 45.05,696.15 44.12,697.26 43.18,696.99 42.25,696.87 41.32,697.55 40.38,697.08 39.45,696 38.52,695.34 37.58,695.91 36.65,696.62 35.72,697.74 34.78,696.56 33.85,696.47 32.92,696.45 31.98,696.81 31.05,696.57 30.12,696.49 29.18,696.45" fill="#2a9a98" fill-opacity="0.95" stroke="none" stroke-width="0"/>
<polygon points="29.18,686.27 30.12,685.69 31.05,685.57 31.98,686.13 32.92,686.29 33.85,685.65 34.78,685.4 35.72,686.61 36.65,687 37.58,687.42 38.52,689 39.45,688.81 40.38,688.22 41.32,687.75 42.25,687.46 43.18,686.32 44.12,686.16 45.05,685.01 45.98,685.29 46.92,684.46 47.85,682.84 48.78,678.94 49.72,675.22 50.65,672 51.58,668.67 52.52,667.13 53.45,667.39 54.38,667.87 55.32,669.14 56.25,669.72 57.18,670.44 58.12,672.14 59.05,672.81 59.98,673.4 60.92,674.61 61.85,675.28 62.78,676.2 63.72,677.37 64.65,678.21 65.58,679.02 66.52,679.53 67.45,678.8 68.38,680.14 69.32,680.38 70.25,680.41 71.18,681.29 72.12,681.88 73.05,682.73 73.98,682.53 74.92,682.64 75.85,681.02 76.78,680.46 77.72,680.86 78.65,679.9 79.58,679.86 80.52,680.27 81.45,680.93 82.38,679.68 83.32,679.25 84.25,679.53 85.18,679.47 86.12,678.75 87.05,678.96 87.98,679.02 88.92,678.71 89.85,678.63 90.78,678.74 91.72,678.71 92.65,679.38 93.58,680.12 94.52,680.32 95.45,680.45 96.38,680.5 97.31,680.1 98.25,680.21 99.18,680.26 100.11,680.43 101.05,680.8 101.98,682.24 102.91,681.77 103.85,682.19 104.78,682.48 105.71,682.2 106.65,682.62 107.58,684.09 108.51,684.87 109.45,685.14 110.38,685.95 111.31,687.07 112.25,688.21 113.18,688.87 114.11,688.94 115.05,689.97 115.98,691.1 116.91,691.02 117.85,691.69 118.78,692.47 119.71,692.67 120.65,692.21 121.58,692.24 122.51,691.06 123.45,689.66 124.38,689.52 125.31,688.17 126.25,687.6 127.18,687.29 128.11,686.75 129.05,686.84 129.98,686.84 130.91,686.12 131.85,685.95 132.78,685.49 133.71,686.06 134.65,686.43 135.58,686.68 136.51,686.44 137.45,686.73 138.38,687.58 139.31,688.04 140.25,688.85 141.18,689.42 142.11,689.28 143.05,688.1 143.98,687.66 144.91,688.09 145.85,688.1 146.78,688.31 147.71,689.61 148.65,690 149.58,690.34 150.51,690.34 151.45,689.93 152.38,689.38 153.31,689.49 154.25,689.35 155.18,688.9 156.11,688.61 157.05,688.45 157.98,688.85 158.91,688.69 159.85,688.8 160.78,687.85 161.71,687.57 162.65,686.21 163.58,685.84 164.51,685.41 165.45,685.74 166.38,685.96 167.31,685.28 168.25,684.09 169.18,683.53 170.11,683.05 171.05,682.66 171.98,682.62 172.91,683.12 173.85,683.6 174.78,683.81 175.71,683.97 176.65,683.99 177.58,684.06 178.51,684.6 179.45,684.69 180.38,685.03 181.31,685.84 182.25,685.01 183.18,685.44 184.11,686.6 185.05,685.59 185.98,685.02 186.91,684.26 187.84,684.01 188.78,684.73 189.71,684.67 190.64,684.41 191.58,684.2 192.51,683.95 193.44,683.63 194.38,682.4 195.31,682.01 196.24,682.39 197.18,683.11 198.11,683.49 199.04,683.71 199.98,684.38 200.91,685.05 201.84,684.63 202.78,685.02 203.71,685.49 204.64,685.37 205.58,685.15 206.51,685.59 207.44,686.35 208.38,686.49 209.31,686.09 210.24,687.19 211.18,688.09 212.11,688.1 213.04,688.24 213.98,688.58 214.91,688.8 215.84,688.54 215.84,695.45 214.91,695.22 213.98,695.27 213.04,694.78 212.11,694.25 211.18,694.17 210.24,694.86 209.31,694.61 208.38,694.59 207.44,694.06 206.51,694.21 205.58,693.34 204.64,692.72 203.71,692.21 202.78,691.04 201.84,691.26 200.91,691.89 199.98,691.71 199.04,691.55 198.11,690.73 197.18,689.8 196.24,689.14 195.31,688.86 194.38,688.52 193.44,690.49 192.51,690.07 191.58,691.23 190.64,692.17 189.71,693.17 188.78,692.21 187.84,693.9 186.91,693.43 185.98,692.58 185.05,692.23 184.11,692.66 183.18,692.91 182.25,692.77 181.31,692.61 180.38,692.09 179.45,691.12 178.51,691.63 177.58,691.3 176.65,690.25 175.71,690.36 174.78,690.55 173.85,690.56 172.91,690.72 171.98,689.91 171.05,689.53 170.11,689.32 169.18,689.56 168.25,690.91 167.31,692.49 166.38,692.61 165.45,692.56 164.51,691.98 163.58,692.55 162.65,693.84 161.71,694.58 160.78,695.86 159.85,696.47 158.91,695.87 157.98,695.53 157.05,695.38 156.11,695.53 155.18,695.76 154.25,696.03 153.31,695.55 152.38,695.58 151.45,696.42 150.51,696.59 149.58,696.72 148.65,696.45 147.71,695.98 146.78,695.81 145.85,694.52 144.91,695.13 143.98,696.3 143.05,695.95 142.11,696.17 141.18,696.52 140.25,695.39 139.31,695.15 138.38,694.46 137.45,694.25 136.51,693.34 135.58,693.35 134.65,692.64 133.71,692.57 132.78,691.61 131.85,692.32 130.91,692.29 129.98,693.22 129.05,693.54 128.11,695.14 127.18,694.15 126.25,694.13 125.31,694.26 124.38,695.79 123.45,696.85 122.51,697.32 121.58,698.65 120.65,698.92 119.71,698.83 118.78,699.13 117.85,697.89 116.91,697.26 115.98,698.19 115.05,697.07 114.11,695.83 113.18,695.01 112.25,695.11 111.31,694.61 110.38,693.31 109.45,691.77 108.51,691.53 107.58,690.76 106.65,689.3 105.71,689.14 104.78,689.44 103.85,688.64 102.91,687.98 101.98,688.28 101.05,687.76 100.11,687.39 99.18,686.95 98.25,686.56 97.31,686.61 96.38,686.9 95.45,686.56 94.52,686.53 93.58,686.42 92.65,685.67 91.72,685.26 90.78,685.26 89.85,685.62 88.92,685.89 87.98,685.35 87.05,686.03 86.12,685.87 85.18,685.79 84.25,685.9 83.32,687.2 82.38,686.65 81.45,687.03 80.52,687.08 79.58,686.71 78.65,686.36 77.72,687.54 76.78,687.54 75.85,687.78 74.92,688.94 73.98,689.75 73.05,689.63 72.12,688.95 71.18,688.5 70.25,687.6 69.32,687.53 68.38,686.81 67.45,686.89 66.52,687.08 65.58,685.93 64.65,684.71 63.72,683.4 62.78,683.83 61.85,682.19 60.92,681.82 59.98,681.22 59.05,680.32 58.12,679.56 57.18,678.51 56.25,677.3 55.32,675.2 54.38,674.14 53.45,674.06 52.52,673.33 51.58,675.05 50.65,678.98 49.72,682.82 48.78,686.19 47.85,691.46 46.92,691.75 45.98,691.56 45.05,691.52 44.12,692.62 43.18,692.65 42.25,694.14 41.32,695.33 40.38,695.87 39.45,695.81 38.52,695.22 37.58,693.62 36.65,693.14 35.72,693.42 34.78,693.01 33.85,693.18 32.92,693.2 31.98,693.26 31.05,692.98 30.12,692.6 29.18,693.12" fill="#4a4a4a" fill-opacity="0.95" stroke="none" stroke-width="0"/>
<polyline points="29.18,688.82 30.12,688.34 31.05,688.14 31.98,687.95 32.92,687.98 33.85,687.81 34.78,687.44 35.72,687.32 36.65,687.07 37.58,686.33 38.52,685.87 39.45,686.01 40.38,685.24 41.32,685.56 42.25,685.87 43.18,685.97 44.12,685.67 45.05,685.93 45.98,685.52 46.92,684.89 47.85,683.72 48.78,681.68 49.72,680.67 50.65,684.72 51.58,689.4 52.52,693.48 53.45,698.27 54.38,702.82 55.32,707.49 56.25,710.26 57.18,713.94 58.12,716.75 59.05,718.53 59.98,720.46 60.92,722.56 61.85,724.94 62.78,726.48 63.72,728.62 64.65,730.03 65.58,731.38 66.52,732.1 67.45,733.42 68.38,734.46 69.32,735.31 70.25,735.54 71.18,736.37 72.12,736.29 73.05,736.77 73.98,736.61 74.92,737.63 75.85,737.53 76.78,738.08 77.72,738.06 78.65,738.31 79.58,738.24 80.52,738.88 81.45,738.77 82.38,739.13 83.32,738.99 84.25,739.26 85.18,738.75 86.12,738.68 87.05,738.59 87.98,738.86 88.92,738.56 89.85,738.74 90.78,739.02 91.72,739.03 92.65,738.73 93.58,738.17 94.52,737.55 95.45,736.78 96.38,736.26 97.31,736.02 98.25,736.12 99.18,735.89 100.11,735.41 101.05,735.44 101.98,735.55 102.91,734.77 103.85,734.62 104.78,734.52 105.71,733.86 106.65,733.66 107.58,733.2 108.51,732.44 109.45,732.34 110.38,732.04 111.31,731.36 112.25,731.97 113.18,732.17 114.11,731.79 115.05,731.36 115.98,730.87 116.91,730.31 117.85,729.62 118.78,729.65 119.71,729.47 120.65,729.07 121.58,728.89 122.51,729.49 123.45,729.22 124.38,729.05 125.31,728.88 126.25,728.04 127.18,727.5 128.11,726.92 129.05,726.47 129.98,726.34 130.91,727.11 131.85,726.28 132.78,725.3 133.71,724.88 134.65,724.76 135.58,723.89 136.51,723.68 137.45,723.26 138.38,722.99 139.31,722.33 140.25,721.41 141.18,721.12 142.11,720.93 143.05,721.06 143.98,721 144.91,721 145.85,720.34 146.78,720.45 147.71,719.94 148.65,720.08 149.58,720.25 150.51,720.59 151.45,720.68 152.38,720.37 153.31,719.72 154.25,719.07 155.18,718.64 156.11,718.35 157.05,718.25 157.98,717.8 158.91,717.55 159.85,717.47 160.78,717.21 161.71,717.39 162.65,716.83 163.58,716.43 164.51,716.11 165.45,715.95 166.38,715.68 167.31,715.85 168.25,715.97 169.18,715.07 170.11,714.63 171.05,714.27 171.98,714.77 172.91,714.2 173.85,714.53 174.78,714.81 175.71,714.31 176.65,713.84 177.58,713.03 178.51,712.54 179.45,711.69 180.38,711.56 181.31,711.59 182.25,712.5 183.18,713.16 184.11,713.06 185.05,713.52 185.98,713.08 186.91,712.61 187.84,711.58 188.78,711.93 189.71,711.62 190.64,710.98 191.58,710.95 192.51,711.54 193.44,711.27 194.38,710.89 195.31,711.33 196.24,711.62 197.18,710.85 198.11,710.33 199.04,709.42 199.98,708.96 200.91,708.62 201.84,709.06 202.78,709.1 203.71,709.86 204.64,710.14 205.58,709.72 206.51,708.83 207.44,708.29 208.38,707.26 209.31,706.42 210.24,706.53 211.18,706.63 212.11,706.69 213.04,707.14 213.98,707.51 214.91,707.56 215.84,707.41" fill="none" stroke="#f0105c" stroke-width="2.2" stroke-linejoin="round"/>
<polyline points="29.18,691.22 30.12,690.94 31.05,691.21 31.98,690.85 32.92,691.47 33.85,691.3 34.78,691.02 35.72,691.31 36.65,691.71 37.58,691.87 38.52,692.32 39.45,692.24 40.38,691.64 41.32,691.4 42.25,691.24 43.18,691.16 44.12,691 45.05,690.83 45.98,690.88 46.92,690.36 47.85,689.29 48.78,686.61 49.72,684.73 50.65,686.72 51.58,689.11 52.52,691.53 53.45,695.04 54.38,698.43 55.32,701.89 56.25,704.79 57.18,707.57 58.12,709.97 59.05,711.96 59.98,714.57 60.92,716.57 61.85,718.75 62.78,719.87 63.72,721.52 64.65,722.81 65.58,723.93 66.52,724.93 67.45,726.15 68.38,727.47 69.32,727.77 70.25,728.55 71.18,729.1 72.12,729.82 73.05,730.27 73.98,730.43 74.92,730.45 75.85,730.73 76.78,731.1 77.72,730.93 78.65,730.89 79.58,731.1 80.52,731.04 81.45,730.45 82.38,730.7 83.32,730.91 84.25,731.24 85.18,731.07 86.12,731.22 87.05,730.86 87.98,730.57 88.92,729.41 89.85,728.97 90.78,728.48 91.72,727.31 92.65,726.7 93.58,727.03 94.52,726.43 95.45,726.14 96.38,725.8 97.31,725.6 98.25,724.88 99.18,724.86 100.11,724.16 101.05,724.29 101.98,723.56 102.91,723.05 103.85,722.39 104.78,721.83 105.71,721.02 106.65,720.62 107.58,720.36 108.51,720.09 109.45,719.87 110.38,719.19 111.31,718.98 112.25,718.63 113.18,718.22 114.11,718.2 115.05,718.63 115.98,718.24 116.91,717.48 117.85,717.09 118.78,716.72 119.71,716.63 120.65,716.31 121.58,716.4 122.51,716.44 123.45,716.27 124.38,715.59 125.31,715.09 126.25,714.61 127.18,713.97 128.11,713.47 129.05,713.06 129.98,713 130.91,712.38 131.85,712.4 132.78,712.13 133.71,711.63 134.65,711.41 135.58,711.3 136.51,710.73 137.45,710.29 138.38,710.33 139.31,710.25 140.25,710.46 141.18,709.63 142.11,709.2 143.05,708.75 143.98,707.99 144.91,707.41 145.85,707.45 146.78,707.42 147.71,707.37 148.65,707.13 149.58,707.1 150.51,707.4 151.45,707.16 152.38,706.99 153.31,706.84 154.25,706.69 155.18,706.4 156.11,706.19 157.05,705.49 157.98,705.4 158.91,704.97 159.85,704.5 160.78,704.12 161.71,704.03 162.65,703.47 163.58,703.65 164.51,703.11 165.45,702.94 166.38,702.99 167.31,702.53 168.25,701.97 169.18,701.6 170.11,701.15 171.05,701.08 171.98,701.27 172.91,700.84 173.85,701.07 174.78,701.57 175.71,701.19 176.65,701.1 177.58,701.28 178.51,700.61 179.45,699.91 180.38,699.69 181.31,699.48 182.25,699.18 183.18,699.53 184.11,699.22 185.05,698.83 185.98,698.64 186.91,698.25 187.84,698.16 188.78,697.83 189.71,697.83 190.64,697.44 191.58,697.39 192.51,696.96 193.44,696.8 194.38,696.76 195.31,696.11 196.24,695.78 197.18,695.54 198.11,695.61 199.04,694.84 199.98,694.93 200.91,694.62 201.84,694.68 202.78,694.4 203.71,694.38 204.64,694.57 205.58,694.67 206.51,694.41 207.44,694.29 208.38,694.23 209.31,694.08 210.24,693.62 211.18,692.54 212.11,691.79 213.04,691.84 213.98,691.45 214.91,691.27 215.84,691.75" fill="none" stroke="#3c0c8c" stroke-width="2" stroke-linejoin="round"/>
<polyline points="29.18,692.22 30.12,692.68 31.05,692.51 31.98,692.85 32.92,692.63 33.85,692.65 34.78,692.56 35.72,693.09 36.65,692.25 37.58,692.09 38.52,691.16 39.45,691.26 40.38,691.96 41.32,692.9 42.25,692.96 43.18,693.02 44.12,693.48 45.05,692.25 45.98,691.43 46.92,691.38 47.85,691.24 48.78,685.82 49.72,681.85 50.65,678.51 51.58,675.19 52.52,672.63 53.45,674.38 54.38,674.13 55.32,675.23 56.25,677.25 57.18,678.18 58.12,678.1 59.05,679.46 59.98,681.03 60.92,681.84 61.85,683.41 62.78,682.99 63.72,683.75 64.65,684.27 65.58,684.73 66.52,685.27 67.45,687.37 68.38,688.32 69.32,688.49 70.25,688.79 71.18,688.59 72.12,688.78 73.05,687.73 73.98,687.9 74.92,687.25 75.85,687.45 76.78,687.1 77.72,686.74 78.65,686.77 79.58,687 80.52,687.21 81.45,686.58 82.38,687.15 83.32,686.69 84.25,686.34 85.18,686.58 86.12,687.63 87.05,687.59 87.98,687.63 88.92,687.8 89.85,688.33 90.78,687.71 91.72,687.73 92.65,688.02 93.58,688.13 94.52,687.77 95.45,687.94 96.38,687.7 97.31,688.17 98.25,689.48 99.18,689.85 100.11,690.32 101.05,692.03 101.98,692.57 102.91,692.13 103.85,692.62 104.78,693.13 105.71,693.33 106.65,693.09 107.58,693.04 108.51,693.52 109.45,694.36 110.38,694.69 111.31,694.98 112.25,695.99 113.18,696.54 114.11,695.95 115.05,695.37 115.98,695.78 116.91,696.86 117.85,696.79 118.78,697.28 119.71,698.41 120.65,698.49 121.58,697.3 122.51,697.02 123.45,697.41 124.38,696.81 125.31,696.43 126.25,696.25 127.18,695.79 128.11,694.56 129.05,693.91 129.98,694.14 130.91,695.05 131.85,694.87 132.78,694.02 133.71,693.81 134.65,693.46 135.58,691.97 136.51,692.05 137.45,693.59 138.38,693.61 139.31,693.8 140.25,693.09 141.18,693.48 142.11,692.39 143.05,691.07 143.98,689.59 144.91,689.72 145.85,688.53 146.78,689.32 147.71,690.2 148.65,691.29 149.58,692.2 150.51,691.89 151.45,692.23 152.38,691.97 153.31,692.34 154.25,691.75 155.18,692.31 156.11,691.41 157.05,690.36 157.98,689.4 158.91,689.05 159.85,689.12 160.78,688.76 161.71,689.65 162.65,689.74 163.58,690.05 164.51,690.13 165.45,688.82 166.38,688.74 167.31,688.9 168.25,689.55 169.18,690.04 170.11,691.84 171.05,692.29 171.98,691.77 172.91,691.51 173.85,691.33 174.78,690.66 175.71,689.88 176.65,690.15 177.58,689.97 178.51,690.28 179.45,690.69 180.38,691.66 181.31,691.9 182.25,692.47 183.18,692.24 184.11,692.07 185.05,691.67 185.98,691.61 186.91,691.32 187.84,690.47 188.78,690.46 189.71,690.72 190.64,690.42 191.58,690.59 192.51,691.57 193.44,691.29 194.38,691.58 195.31,693.11 196.24,692.49 197.18,691.55 198.11,692.33 199.04,691.99 199.98,690.25 200.91,691.04 201.84,691.66 202.78,691.22 203.71,690.67 204.64,691.58 205.58,690.06 206.51,689.42 207.44,688.23 208.38,687.78 209.31,687.33 210.24,687.29 211.18,687.31 212.11,686.93 213.04,687.05 213.98,686.75 214.91,687.28 215.84,686.85" fill="none" stroke="#0c6868" stroke-width="1.8" stroke-linejoin="round"/>
<polyline points="29.18,689.69 30.12,689.14 31.05,689.27 31.98,689.7 32.92,689.75 33.85,689.41 34.78,689.2 35.72,690.01 36.65,690.07 37.58,690.52 38.52,692.11 39.45,692.31 40.38,692.05 41.32,691.54 42.25,690.8 43.18,689.49 44.12,689.39 45.05,688.27 45.98,688.42 46.92,688.11 47.85,687.15 48.78,682.57 49.72,679.02 50.65,675.49 51.58,671.86 52.52,670.23 53.45,670.72 54.38,671 55.32,672.17 56.25,673.51 57.18,674.48 58.12,675.85 59.05,676.56 59.98,677.31 60.92,678.21 61.85,678.74 62.78,680.02 63.72,680.38 64.65,681.46 65.58,682.47 66.52,683.31 67.45,682.85 68.38,683.47 69.32,683.96 70.25,684 71.18,684.89 72.12,685.41 73.05,686.18 73.98,686.14 74.92,685.79 75.85,684.4 76.78,684 77.72,684.2 78.65,683.13 79.58,683.28 80.52,683.67 81.45,683.98 82.38,683.17 83.32,683.22 84.25,682.71 85.18,682.63 86.12,682.31 87.05,682.5 87.98,682.18 88.92,682.3 89.85,682.12 90.78,682 91.72,681.99 92.65,682.53 93.58,683.27 94.52,683.43 95.45,683.5 96.38,683.7 97.31,683.35 98.25,683.38 99.18,683.6 100.11,683.91 101.05,684.28 101.98,685.26 102.91,684.87 103.85,685.42 104.78,685.96 105.71,685.67 106.65,685.96 107.58,687.43 108.51,688.2 109.45,688.45 110.38,689.63 111.31,690.84 112.25,691.66 113.18,691.94 114.11,692.38 115.05,693.52 115.98,694.65 116.91,694.14 117.85,694.79 118.78,695.8 119.71,695.75 120.65,695.57 121.58,695.45 122.51,694.19 123.45,693.25 124.38,692.66 125.31,691.22 126.25,690.87 127.18,690.72 128.11,690.95 129.05,690.19 129.98,690.03 130.91,689.2 131.85,689.14 132.78,688.55 133.71,689.31 134.65,689.54 135.58,690.02 136.51,689.89 137.45,690.49 138.38,691.02 139.31,691.6 140.25,692.12 141.18,692.97 142.11,692.72 143.05,692.02 143.98,691.98 144.91,691.61 145.85,691.31 146.78,692.06 147.71,692.79 148.65,693.22 149.58,693.53 150.51,693.47 151.45,693.17 152.38,692.48 153.31,692.52 154.25,692.69 155.18,692.33 156.11,692.07 157.05,691.92 157.98,692.19 158.91,692.28 159.85,692.63 160.78,691.86 161.71,691.07 162.65,690.02 163.58,689.2 164.51,688.69 165.45,689.15 166.38,689.28 167.31,688.89 168.25,687.5 169.18,686.55 170.11,686.19 171.05,686.09 171.98,686.26 172.91,686.92 173.85,687.08 174.78,687.18 175.71,687.16 176.65,687.12 177.58,687.68 178.51,688.12 179.45,687.9 180.38,688.56 181.31,689.23 182.25,688.89 183.18,689.17 184.11,689.63 185.05,688.91 185.98,688.8 186.91,688.85 187.84,688.96 188.78,688.47 189.71,688.92 190.64,688.29 191.58,687.71 192.51,687.01 193.44,687.06 194.38,685.46 195.31,685.43 196.24,685.76 197.18,686.46 198.11,687.11 199.04,687.63 199.98,688.05 200.91,688.47 201.84,687.95 202.78,688.03 203.71,688.85 204.64,689.05 205.58,689.24 206.51,689.9 207.44,690.21 208.38,690.54 209.31,690.35 210.24,691.02 211.18,691.13 212.11,691.17 213.04,691.51 213.98,691.93 214.91,692.01 215.84,691.99" fill="none" stroke="#000" stroke-width="2.4" stroke-linejoin="round"/>
<line x1="28.5" y1="643.4" x2="28.5" y2="768.4" stroke="#000" stroke-width="1.1"/>
<line x1="28.05" y1="768.4" x2="234" y2="768.4" stroke="#000" stroke-width="1.1"/>
<line x1="24" y1="768.32" x2="28.5" y2="768.32" stroke="#000" stroke-width="1.1"/>
<text x="22.5" y="771.29" font-size="8.3" text-anchor="end">30</text>
<line x1="24" y1="743.28" x2="28.5" y2="743.28" stroke="#000" stroke-width="1.1"/>
<text x="22.5" y="746.25" font-size="8.3" text-anchor="end">32</text>
<line x1="24" y1="718.24" x2="28.5" y2="718.24" stroke="#000" stroke-width="1.1"/>
<text x="22.5" y="721.21" font-size="8.3" text-anchor="end">34</text>
<line x1="24" y1="693.2" x2="28.5" y2="693.2" stroke="#000" stroke-width="1.1"/>
<text x="22.5" y="696.17" font-size="8.3" text-anchor="end">36</text>
<line x1="24" y1="668.16" x2="28.5" y2="668.16" stroke="#000" stroke-width="1.1"/>
<text x="22.5" y="671.13" font-size="8.3" text-anchor="end">38</text>
<line x1="24" y1="643.12" x2="28.5" y2="643.12" stroke="#000" stroke-width="1.1"/>
<text x="22.5" y="646.09" font-size="8.3" text-anchor="end">40</text>
<line x1="29.38" y1="768.4" x2="29.38" y2="772.6" stroke="#000" stroke-width="1.1"/>
<text transform="translate(29.68 774.4) rotate(-90)" x="0" y="2.83" font-size="7.9" text-anchor="end">-60</text>
<line x1="48.05" y1="768.4" x2="48.05" y2="772.6" stroke="#000" stroke-width="1.1"/>
<text transform="translate(48.35 774.4) rotate(-90)" x="0" y="2.83" font-size="7.9" text-anchor="end">0</text>
<line x1="66.72" y1="768.4" x2="66.72" y2="772.6" stroke="#000" stroke-width="1.1"/>
<text transform="translate(67.02 774.4) rotate(-90)" x="0" y="2.83" font-size="7.9" text-anchor="end">60</text>
<line x1="85.38" y1="768.4" x2="85.38" y2="772.6" stroke="#000" stroke-width="1.1"/>
<text transform="translate(85.68 774.4) rotate(-90)" x="0" y="2.83" font-size="7.9" text-anchor="end">120</text>
<line x1="104.05" y1="768.4" x2="104.05" y2="772.6" stroke="#000" stroke-width="1.1"/>
<text transform="translate(104.35 774.4) rotate(-90)" x="0" y="2.83" font-size="7.9" text-anchor="end">180</text>
<line x1="122.71" y1="768.4" x2="122.71" y2="772.6" stroke="#000" stroke-width="1.1"/>
<text transform="translate(123.01 774.4) rotate(-90)" x="0" y="2.83" font-size="7.9" text-anchor="end">240</text>
<line x1="141.38" y1="768.4" x2="141.38" y2="772.6" stroke="#000" stroke-width="1.1"/>
<text transform="translate(141.68 774.4) rotate(-90)" x="0" y="2.83" font-size="7.9" text-anchor="end">300</text>
<line x1="160.05" y1="768.4" x2="160.05" y2="772.6" stroke="#000" stroke-width="1.1"/>
<text transform="translate(160.35 774.4) rotate(-90)" x="0" y="2.83" font-size="7.9" text-anchor="end">360</text>
<line x1="178.71" y1="768.4" x2="178.71" y2="772.6" stroke="#000" stroke-width="1.1"/>
<text transform="translate(179.01 774.4) rotate(-90)" x="0" y="2.83" font-size="7.9" text-anchor="end">420</text>
<line x1="197.38" y1="768.4" x2="197.38" y2="772.6" stroke="#000" stroke-width="1.1"/>
<text transform="translate(197.68 774.4) rotate(-90)" x="0" y="2.83" font-size="7.9" text-anchor="end">480</text>
<line x1="216.04" y1="768.4" x2="216.04" y2="772.6" stroke="#000" stroke-width="1.1"/>
<text transform="translate(216.34 774.4) rotate(-90)" x="0" y="2.83" font-size="7.9" text-anchor="end">540</text>
<line x1="234.71" y1="768.4" x2="234.71" y2="772.6" stroke="#000" stroke-width="1.1"/>
<text transform="translate(235.01 774.4) rotate(-90)" x="0" y="2.83" font-size="7.9" text-anchor="end">600</text>
<text x="130.7" y="799.13" font-size="7.9" text-anchor="middle" textLength="36" lengthAdjust="spacingAndGlyphs">Time (min)</text>
<text transform="translate(5 706.5) rotate(-90)" x="0" y="2.83" font-size="7.9" text-anchor="middle">T<tspan font-size="6.6">core</tspan> (°C)</text>
<line x1="47.85" y1="641.5" x2="47.85" y2="768.4" stroke="#333" stroke-width="0.8" stroke-dasharray="1 1.2"/>
<line x1="70" y1="644.7" x2="85" y2="644.7" stroke="#333" stroke-width="1"/>
<line x1="70" y1="644.7" x2="85" y2="644.7" stroke="#000" stroke-width="0.8"/>
<circle cx="77.5" cy="644.7" r="1.5" fill="#555" stroke="#000" stroke-width="0.7"/>
<text x="92" y="647.53" font-size="7.9" textLength="73.5" lengthAdjust="spacingAndGlyphs">hM3Dq-Saline, n=6</text>
<line x1="70" y1="652.1" x2="85" y2="652.1" stroke="#2a9a98" stroke-width="1.5"/>
<line x1="70" y1="652.1" x2="85" y2="652.1" stroke="#148484" stroke-width="0.8"/>
<polygon points="77.5,650.4 75.89,653.46 79.11,653.46" fill="#148484" fill-opacity="1" stroke="none" stroke-width="0"/>
<text x="92" y="654.93" font-size="7.9" textLength="145" lengthAdjust="spacingAndGlyphs">hM3Dq-Saline &amp; Sympathectomy, n=6</text>
<line x1="70" y1="659.5" x2="85" y2="659.5" stroke="#ff3f8e" stroke-width="1.5"/>
<line x1="70" y1="659.5" x2="85" y2="659.5" stroke="#f0105c" stroke-width="0.8"/>
<rect x="76.1" y="658.1" width="2.8" height="2.8" fill="#f0105c" stroke="none" stroke-width="0" rx="0"/>
<text x="92" y="662.33" font-size="7.9" textLength="68.5" lengthAdjust="spacingAndGlyphs">hM3Dq-CNO, n=6</text>
<line x1="70" y1="667.6" x2="85" y2="667.6" stroke="#8a5ccc" stroke-width="1.5"/>
<line x1="70" y1="667.6" x2="85" y2="667.6" stroke="#3c0c8c" stroke-width="0.8"/>
<polygon points="77.5,665.9 79.2,667.6 77.5,669.3 75.8,667.6" fill="#3c0c8c" fill-opacity="1" stroke="none" stroke-width="0"/>
<text x="92" y="670.43" font-size="7.9" textLength="140.7" lengthAdjust="spacingAndGlyphs">hM3Dq-CNO &amp; Sympathectomy, n=6</text>
<line x1="237.9" y1="642.3" x2="237.9" y2="651.9" stroke="#000" stroke-width="0.8"/>
<text transform="translate(243.2 646.8) rotate(-90)" x="0" y="2.51" font-size="7" text-anchor="middle">ns</text>
<line x1="235.5" y1="660.2" x2="235.5" y2="669.8" stroke="#000" stroke-width="0.8"/>
<text transform="translate(240.6 666.3) rotate(-90)" x="0" y="2.51" font-size="7" text-anchor="middle">ns</text>
<text x="252.6" y="630.47" font-size="9.7" font-weight="bold">l</text>
<line x1="248.4" y1="656" x2="262.4" y2="656" stroke="#111" stroke-width="0.8"/>
<circle cx="255.4" cy="656" r="1.4" fill="#555" stroke="#000" stroke-width="0.7"/>
<text x="269.9" y="658.83" font-size="7.9" textLength="68.5" lengthAdjust="spacingAndGlyphs">hM3Dq-saline, n=4</text>
<line x1="248.4" y1="667.3" x2="262.4" y2="667.3" stroke="#20c080" stroke-width="0.8"/>
<polygon points="255.4,665.7 253.88,668.58 256.92,668.58" fill="#20c080" fill-opacity="1" stroke="none" stroke-width="0"/>
<text x="269.9" y="670.13" font-size="7.9" textLength="137.5" lengthAdjust="spacingAndGlyphs">hM3Dq-Saline &amp; sympathectomy, n=4</text>
<line x1="248.4" y1="678.5" x2="262.4" y2="678.5" stroke="#d0086c" stroke-width="0.8"/>
<rect x="254" y="677.1" width="2.8" height="2.8" fill="#d0086c" stroke="none" stroke-width="0" rx="0"/>
<text x="269.9" y="681.33" font-size="7.9" textLength="65.5" lengthAdjust="spacingAndGlyphs">hM3Dq-CNO, n=4</text>
<line x1="248.4" y1="689.8" x2="262.4" y2="689.8" stroke="#5a0a80" stroke-width="0.8"/>
<polygon points="255.4,688.1 256.9,689.8 255.4,691.5 253.9,689.8" fill="#5a0a80" fill-opacity="1" stroke="none" stroke-width="0"/>
<text x="269.9" y="692.63" font-size="7.9" textLength="132.5" lengthAdjust="spacingAndGlyphs">hM3Dq-CNO &amp; sympathectomy, n=4</text>
<line x1="408.7" y1="654.3" x2="408.7" y2="669.8" stroke="#000" stroke-width="0.8"/>
<text x="411.5" y="664.43" font-size="7.9">ns</text>
<line x1="407.3" y1="680.4" x2="407.3" y2="692.8" stroke="#000" stroke-width="0.8"/>
<text x="411.5" y="689.43" font-size="7.9">ns</text>
<text transform="translate(439.6 668.8) rotate(90)" x="0" y="2.94" font-size="8.2" text-anchor="middle" textLength="37.5" lengthAdjust="spacingAndGlyphs"><tspan font-style="italic">P</tspan>=0.0011</text>
<line x1="434" y1="650.3" x2="434" y2="688" stroke="#000" stroke-width="0.8"/>
<text transform="translate(429.2 678.6) rotate(90)" x="0" y="2.94" font-size="8.2" text-anchor="middle" textLength="37.5" lengthAdjust="spacingAndGlyphs"><tspan font-style="italic">P</tspan>=0.0212</text>
<line x1="424" y1="660" x2="424" y2="697.6" stroke="#000" stroke-width="0.8"/>
<line x1="266.8" y1="708" x2="266.8" y2="768.5" stroke="#000" stroke-width="1.1"/>
<line x1="266.35" y1="768.5" x2="352" y2="768.5" stroke="#000" stroke-width="1.1"/>
<line x1="262.3" y1="708" x2="266.8" y2="708" stroke="#000" stroke-width="1.1"/>
<text x="260.8" y="710.97" font-size="8.3" text-anchor="end">2</text>
<line x1="262.3" y1="723.1" x2="266.8" y2="723.1" stroke="#000" stroke-width="1.1"/>
<text x="260.8" y="726.07" font-size="8.3" text-anchor="end">0</text>
<line x1="262.3" y1="738.2" x2="266.8" y2="738.2" stroke="#000" stroke-width="1.1"/>
<text x="260.8" y="741.17" font-size="8.3" text-anchor="end">-2</text>
<line x1="262.3" y1="753.3" x2="266.8" y2="753.3" stroke="#000" stroke-width="1.1"/>
<text x="260.8" y="756.27" font-size="8.3" text-anchor="end">-4</text>
<line x1="262.3" y1="768.4" x2="266.8" y2="768.4" stroke="#000" stroke-width="1.1"/>
<text x="260.8" y="771.37" font-size="8.3" text-anchor="end">-6</text>
<line x1="277.2" y1="768.5" x2="277.2" y2="772.7" stroke="#000" stroke-width="1.1"/>
<text x="277.2" y="783.17" font-size="8.3" text-anchor="middle">0</text>
<line x1="293.5" y1="768.5" x2="293.5" y2="772.7" stroke="#000" stroke-width="1.1"/>
<text x="293.5" y="783.17" font-size="8.3" text-anchor="middle">30</text>
<line x1="309.2" y1="768.5" x2="309.2" y2="772.7" stroke="#000" stroke-width="1.1"/>
<text x="309.2" y="783.17" font-size="8.3" text-anchor="middle">60</text>
<line x1="325" y1="768.5" x2="325" y2="772.7" stroke="#000" stroke-width="1.1"/>
<text x="325" y="783.17" font-size="8.3" text-anchor="middle">90</text>
<line x1="340.7" y1="768.5" x2="340.7" y2="772.7" stroke="#000" stroke-width="1.1"/>
<text x="340.7" y="783.17" font-size="8.3" text-anchor="middle">120</text>
<text x="309.3" y="796.17" font-size="8.3" text-anchor="middle" textLength="38.5" lengthAdjust="spacingAndGlyphs">Time (min)</text>
<text transform="translate(244.6 739) rotate(-90)" x="0" y="3.29" font-size="9.2" text-anchor="middle" textLength="39" lengthAdjust="spacingAndGlyphs">ΔT<tspan font-size="6.8" dy="1.6">iBAT</tspan><tspan dy="-1.6">(°C)</tspan></text>
<line x1="277.2" y1="707.5" x2="277.2" y2="768.5" stroke="#555" stroke-width="0.7" stroke-dasharray="1.2 1.2"/>
<text x="280.6" y="712.63" font-size="7.9" textLength="42.5" lengthAdjust="spacingAndGlyphs">Saline/CNO</text>
<path d="M293.5 722.35V726.88M292 722.35H295M292 726.88H295M309.2 726.12V732.16M307.7 726.12H310.7M307.7 732.16H310.7M325 728.38V735.93M323.5 728.38H326.5M323.5 735.93H326.5M340.7 732.16V735.18M339.2 732.16H342.2M339.2 735.18H342.2" fill="none" stroke="#20c080" stroke-width="0.8"/>
<polyline points="277.2,723.1 293.5,724.61 309.2,729.14 325,732.16 340.7,733.67" fill="none" stroke="#20c080" stroke-width="0.9" stroke-linejoin="round"/>
<polygon points="277.2,721.5 275.68,724.38 278.72,724.38" fill="#20c080" fill-opacity="1" stroke="none" stroke-width="0"/>
<polygon points="293.5,723.01 291.98,725.89 295.02,725.89" fill="#20c080" fill-opacity="1" stroke="none" stroke-width="0"/>
<polygon points="309.2,727.54 307.68,730.42 310.72,730.42" fill="#20c080" fill-opacity="1" stroke="none" stroke-width="0"/>
<polygon points="325,730.56 323.48,733.44 326.52,733.44" fill="#20c080" fill-opacity="1" stroke="none" stroke-width="0"/>
<polygon points="340.7,732.07 339.18,734.95 342.22,734.95" fill="#20c080" fill-opacity="1" stroke="none" stroke-width="0"/>
<path d="M293.5 716.31V726.88M292 716.31H295M292 726.88H295M309.2 718.19V730.27M307.7 718.19H310.7M307.7 730.27H310.7M325 716.31V720.84M323.5 716.31H326.5M323.5 720.84H326.5M340.7 713.29V720.84M339.2 713.29H342.2M339.2 720.84H342.2" fill="none" stroke="#111" stroke-width="0.8"/>
<polyline points="277.2,723.1 293.5,721.59 309.2,724.23 325,718.57 340.7,717.06" fill="none" stroke="#111" stroke-width="0.9" stroke-linejoin="round"/>
<circle cx="277.2" cy="723.1" r="1.4" fill="#555" stroke="#000" stroke-width="0.7"/>
<circle cx="293.5" cy="721.59" r="1.4" fill="#555" stroke="#000" stroke-width="0.7"/>
<circle cx="309.2" cy="724.23" r="1.4" fill="#555" stroke="#000" stroke-width="0.7"/>
<circle cx="325" cy="718.57" r="1.4" fill="#555" stroke="#000" stroke-width="0.7"/>
<circle cx="340.7" cy="717.06" r="1.4" fill="#555" stroke="#000" stroke-width="0.7"/>
<path d="M293.5 741.22V748.77M292 741.22H295M292 748.77H295M309.2 741.98V751.03M307.7 741.98H310.7M307.7 751.03H310.7M325 742.73V756.32M323.5 742.73H326.5M323.5 756.32H326.5M340.7 745V760.1M339.2 745H342.2M339.2 760.1H342.2" fill="none" stroke="#d0086c" stroke-width="0.8"/>
<polyline points="277.2,723.1 293.5,745 309.2,746.5 325,749.52 340.7,752.55" fill="none" stroke="#d0086c" stroke-width="0.9" stroke-linejoin="round"/>
<rect x="275.8" y="721.7" width="2.8" height="2.8" fill="#d0086c" stroke="none" stroke-width="0" rx="0"/>
<rect x="292.1" y="743.6" width="2.8" height="2.8" fill="#d0086c" stroke="none" stroke-width="0" rx="0"/>
<rect x="307.8" y="745.11" width="2.8" height="2.8" fill="#d0086c" stroke="none" stroke-width="0" rx="0"/>
<rect x="323.6" y="748.12" width="2.8" height="2.8" fill="#d0086c" stroke="none" stroke-width="0" rx="0"/>
<rect x="339.3" y="751.15" width="2.8" height="2.8" fill="#d0086c" stroke="none" stroke-width="0" rx="0"/>
<path d="M293.5 743.49V751.03M292 743.49H295M292 751.03H295M309.2 749.53V758.59M307.7 749.53H310.7M307.7 758.59H310.7M325 751.04V761.61M323.5 751.04H326.5M323.5 761.61H326.5M340.7 753.3V763.87M339.2 753.3H342.2M339.2 763.87H342.2" fill="none" stroke="#5a0a80" stroke-width="0.8"/>
<polyline points="277.2,723.1 293.5,747.26 309.2,754.06 325,756.32 340.7,758.59" fill="none" stroke="#5a0a80" stroke-width="0.9" stroke-linejoin="round"/>
<polygon points="277.2,721.4 278.7,723.1 277.2,724.8 275.7,723.1" fill="#5a0a80" fill-opacity="1" stroke="none" stroke-width="0"/>
<polygon points="293.5,745.56 295,747.26 293.5,748.96 292,747.26" fill="#5a0a80" fill-opacity="1" stroke="none" stroke-width="0"/>
<polygon points="309.2,752.36 310.7,754.06 309.2,755.76 307.7,754.06" fill="#5a0a80" fill-opacity="1" stroke="none" stroke-width="0"/>
<polygon points="325,754.62 326.5,756.32 325,758.02 323.5,756.32" fill="#5a0a80" fill-opacity="1" stroke="none" stroke-width="0"/>
<polygon points="340.7,756.88 342.2,758.59 340.7,760.29 339.2,758.59" fill="#5a0a80" fill-opacity="1" stroke="none" stroke-width="0"/>
<text x="450.8" y="630.67" font-size="9.7" font-weight="bold">m</text>
<text x="481" y="629.01" font-size="7.3" textLength="40.5" lengthAdjust="spacingAndGlyphs">Saline/CNO</text>
<defs>
<marker id="mk0" markerWidth="4" markerHeight="4" refX="2" refY="2" markerUnits="userSpaceOnUse"><circle cx="2" cy="2" r="1.35" fill="#666" stroke="#000" stroke-width="0.7"/></marker>
<marker id="mk1" markerWidth="4" markerHeight="4" refX="2" refY="2" markerUnits="userSpaceOnUse"><polygon points="2,0.4 3.6,3.3 0.4,3.3" fill="#148c8c"/></marker>
<marker id="mk2" markerWidth="4" markerHeight="4" refX="2" refY="2" markerUnits="userSpaceOnUse"><rect x="0.6" y="0.6" width="2.8" height="2.8" fill="#f0106c"/></marker>
<marker id="mk3" markerWidth="4" markerHeight="4" refX="2" refY="2" markerUnits="userSpaceOnUse"><polygon points="2,0.3 3.5,2 2,3.7 0.5,2" fill="#4a0c8c"/></marker>
</defs>
<clipPath id="mclip"><rect x="477" y="628" width="208" height="141.9"/></clipPath>
<g clip-path="url(#mclip)">
<path d="M477.48 741.83V771.12M478.73 724.46V760.64M479.97 748.13V765.94M481.22 733.86V767.25M482.46 745.9V764.89M483.71 720.7V755.66M484.95 721.83V761.78M486.19 718.48V758.45M487.44 719.56V758.38M488.68 743V766.63M489.93 706.9V747.41M491.17 725.62V760.34M492.42 725.17V755.18M493.66 726.74V756.84M494.91 762.58V772.62M496.15 751.04V766.67M497.39 743.12V766.35M498.64 749.48V772.62M499.88 747.75V771.27M501.13 739.2V765.45M502.37 747.99V770.82M503.62 750.08V770.22M504.86 742.29V763.56M506.11 734.9V764.39M507.35 741.68V765.73M508.59 748.52V772.08M509.84 737.56V768.48M511.08 737.42V763.96M512.33 732.87V763.16M513.57 743.64V769.86M514.82 752.81V771.12M516.06 724.86V756.16M517.3 752.88V772.62M518.55 744.23V771.36M519.79 748.26V772.26M521.04 742.85V769.03M522.28 748.26V772.62M523.53 750.44V772.41M524.77 754.66V772.62M526.02 740.49V765.62M527.26 737.51V762.91M528.5 753.78V772.62M529.75 753.32V768.34M530.99 750.92V770.21M532.24 753.74V772.62M533.48 753.04V772.62M534.73 755.12V772.62M535.97 749.4V767.92M537.22 753.22V771.33M538.46 757.11V772.62M539.7 750.28V771.8M540.95 750.76V770.04M542.19 746.02V770.29M543.44 751.61V772.62M544.68 758.49V771.57M545.93 751.71V772.62M547.17 754.57V772.62M548.41 757.52V772.62M549.66 747.15V769.09M550.9 751.84V772.62M552.15 754.56V768.37M553.39 748.15V770.06M554.64 755.85V770.12M555.88 754.65V772.62M557.13 745.95V772.62M558.37 756.76V772.62M559.61 751.67V767.59M560.86 748.7V770.61M562.1 739.88V766.15M563.35 755.16V772.62M564.59 749.02V770.18M565.84 747.21V770.51M567.08 752.07V772.62M568.33 752.24V771.78M569.57 752.03V770.65M570.81 747.38V772.62M572.06 756.51V770.89M573.3 755.62V772.62M574.55 755.15V771.95M575.79 745.38V770.81M577.04 755.92V769.79M578.28 750.43V772.62M579.52 748.36V768.41M580.77 752.5V767.57M582.01 748.12V767.54M583.26 748.79V769.02M584.5 751.05V766.48M585.75 749.87V769.71M586.99 754.22V771.78M588.24 721.35V758.9M589.48 744.41V766.52M590.72 748.7V767.73M591.97 746.53V766.32M593.21 748.16V771.91M594.46 746.85V772.62M595.7 756.08V772.62M596.95 754.92V770.22M598.19 746.45V771.67M599.44 756.94V772.62M600.68 749.19V767.46M601.92 758.17V770.92M603.17 727.45V762.49M604.41 746.48V771.76M605.66 747.45V770.58M606.9 742.34V766.64M608.15 748.62V770.46M609.39 755.34V770.49M610.63 753.78V772.62M611.88 754.92V771.47M613.12 752.21V772.62M614.37 744.83V771.07M615.61 746.02V771.6M616.86 756.82V772.62M618.1 753.68V770.34M619.35 753.01V772.39M620.59 753.69V768.77M621.83 719.78V759.42M623.08 742.24V765.52M624.32 746.74V772.26M625.57 758.37V772.3M626.81 752.58V770.59M628.06 756.57V771.32M629.3 753.78V771.62M630.55 756.21V770.52M631.79 757.13V769.24M633.03 748.21V771.75M634.28 757.18V771.87M635.52 757.71V771.78M636.77 750.9V769.1M638.01 750.5V770.57M639.26 753.2V771.36M640.5 719.38V757.4M641.74 755.67V772.62M642.99 755.06V771.63M644.23 748.98V772.62M645.48 745.44V771.69M646.72 754.93V768.72M647.97 746.96V772.16M649.21 747.6V772.62M650.46 751.72V772.62M651.7 750.39V767.36M652.94 747.07V772.24M654.19 751.5V772.48M655.43 734.99V758.94M656.68 750.77V766.34M657.92 752.07V772.62M659.17 748.59V771.32M660.41 756.91V771.45M661.66 756.88V770.05M662.9 753.05V768.63M664.14 669.33V745.44" fill="none" stroke="#5a1c9c" stroke-width="0.85" stroke-dasharray="1 0.6"/>
<polyline points="477.48,756.48 478.73,742.55 479.97,757.04 481.22,750.56 482.46,755.4 483.71,738.18 484.95,741.8 486.19,738.47 487.44,738.97 488.68,754.82 489.93,727.15 491.17,742.98 492.42,740.17 493.66,741.79 494.91,768.99 496.15,758.86 497.39,754.73 498.64,761.24 499.88,759.51 501.13,752.32 502.37,759.41 503.62,760.15 504.86,752.93 506.11,749.65 507.35,753.71 508.59,760.3 509.84,753.02 511.08,750.69 512.33,748.02 513.57,756.75 514.82,761.96 516.06,740.51 517.3,763.42 518.55,757.79 519.79,760.26 521.04,755.94 522.28,760.63 523.53,761.42 524.77,764.35 526.02,753.05 527.26,750.21 528.5,763.64 529.75,760.83 530.99,760.57 532.24,764.33 533.48,763.49 534.73,764.63 535.97,758.66 537.22,762.27 538.46,765.28 539.7,761.04 540.95,760.4 542.19,758.15 543.44,763.46 544.68,765.03 545.93,762.24 547.17,764.92 548.41,765.27 549.66,758.12 550.9,763.83 552.15,761.47 553.39,759.11 554.64,762.99 555.88,765 557.13,759.34 558.37,765.32 559.61,759.63 560.86,759.66 562.1,753.01 563.35,765.07 564.59,759.6 565.84,758.86 567.08,763.32 568.33,762.01 569.57,761.34 570.81,760.43 572.06,763.7 573.3,765.25 574.55,763.55 575.79,758.09 577.04,762.85 578.28,762.84 579.52,758.38 580.77,760.03 582.01,757.83 583.26,758.9 584.5,758.77 585.75,759.79 586.99,763 588.24,740.12 589.48,755.46 590.72,758.22 591.97,756.43 593.21,760.04 594.46,760 595.7,764.86 596.95,762.57 598.19,759.06 599.44,764.86 600.68,758.33 601.92,764.55 603.17,744.97 604.41,759.12 605.66,759.02 606.9,754.49 608.15,759.54 609.39,762.91 610.63,765.21 611.88,763.19 613.12,762.54 614.37,757.95 615.61,758.81 616.86,765.13 618.1,762.01 619.35,762.7 620.59,761.23 621.83,739.6 623.08,753.88 624.32,759.5 625.57,765.34 626.81,761.59 628.06,763.95 629.3,762.7 630.55,763.36 631.79,763.18 633.03,759.98 634.28,764.52 635.52,764.75 636.77,760 638.01,760.53 639.26,762.28 640.5,738.39 641.74,765.18 642.99,763.34 644.23,761.51 645.48,758.56 646.72,761.82 647.97,759.56 649.21,760.39 650.46,762.85 651.7,758.88 652.94,759.66 654.19,761.99 655.43,746.96 656.68,758.55 657.92,763.89 659.17,759.95 660.41,764.18 661.66,763.46 662.9,760.84 664.14,707.39" fill="none" stroke="#4a0c8c" stroke-width="0.9" stroke-linejoin="round" marker-start="url(#mk3)" marker-mid="url(#mk3)" marker-end="url(#mk3)"/>
<path d="M477.48 723.31V754.13M478.73 711.22V741.93M479.97 735.91V755.7M481.22 717.08V751.47M482.46 752.41V772.62M483.71 734.2V754.76M484.95 743.58V768.28M486.19 745.81V766.76M487.44 734.89V761.58M488.68 733.09V759.25M489.93 716.19V750.79M491.17 725.69V755.77M492.42 744.76V768.49M493.66 753.97V767.71M494.91 727.69V756.06M496.15 711.47V744M497.39 693.71V719.25M498.64 678.19V702.16M499.88 663.74V694.86M501.13 660.97V688.57M502.37 667.66V690.94M503.62 672.7V694.96M504.86 680.08V700.26M506.11 685.6V709.24M507.35 698.05V714.91M508.59 696.99V734.09M509.84 704.57V735.57M511.08 721.1V749.75M512.33 743.31V764.02M513.57 724.56V752.47M514.82 717.83V751.52M516.06 728.39V749.37M517.3 735.98V762.89M518.55 710.9V742.99M519.79 737.11V760.72M521.04 715.13V747.74M522.28 735.91V762.85M523.53 736.91V758.65M524.77 745.9V764.85M526.02 728.23V759.19M527.26 742.07V758.83M528.5 744.4V766.16M529.75 741.86V764.53M530.99 729.38V750.23M532.24 737.72V761.61M533.48 735.7V761.07M534.73 731.11V760.72M535.97 729.72V753.58M537.22 738.57V766.02M538.46 745.71V765.68M539.7 704.76V739.23M540.95 725.82V756.99M542.19 735.01V753.89M543.44 744.63V767.15M544.68 736.65V761.08M545.93 731.41V754.75M547.17 733.28V761.38M548.41 734.1V756.76M549.66 730.05V755.3M550.9 711.12V743.73M552.15 734.45V761.19M553.39 736.41V756.62M554.64 709.52V741.76M555.88 732.21V756.13M557.13 736.38V760.17M558.37 745.67V768.94M559.61 727.75V751.94M560.86 730.08V758.99M562.1 732.52V756.14M563.35 737.66V760.47M564.59 739.49V759.22M565.84 731.23V756.38M567.08 716.87V752.07M568.33 742.34V765.03M569.57 740.29V765.14M570.81 733.07V755.74M572.06 734.66V756.61M573.3 734.69V756.44M574.55 736.61V760.65M575.79 706.67V742.02M577.04 742.81V766.67M578.28 709.02V737.33M579.52 728.62V756.96M580.77 736.29V763.56M582.01 744.07V765M583.26 747.2V761.84M584.5 747.23V764.47M585.75 700.86V731.76M586.99 739.31V758.26M588.24 730.1V759.97M589.48 727.51V755.07M590.72 725.78V754.47M591.97 736.87V762.93M593.21 743.38V768.35M594.46 741.16V763.82M595.7 748.51V768.58M596.95 697.24V735.9M598.19 731.3V758.4M599.44 741.87V764.12M600.68 738.91V763.11M601.92 737.27V757.19M603.17 738.18V762.49M604.41 718.92V748.01M605.66 740.91V765.24M606.9 745.96V761.59M608.15 739.31V758.17M609.39 743.46V759.32M610.63 726.78V756.32M611.88 731.84V761.01M613.12 726.21V754.72M614.37 693.69V730.95M615.61 726.89V756.9M616.86 720.75V752.6M618.1 741.76V763.69M619.35 741.11V760.12M620.59 733.72V755.85M621.83 719.96V748.29M623.08 736.36V757.71M624.32 734.31V757.56M625.57 715.27V747.58M626.81 734.17V762.71M628.06 730.24V751.05M629.3 713.53V745.7M630.55 716.58V742.16M631.79 743.2V760M633.03 738.8V764.38M634.28 734.79V759.37M635.52 711.93V748.33M636.77 730.53V755.31M638.01 729.61V750.23M639.26 716.17V745.51M640.5 689.18V730.39M641.74 720.28V753.87M642.99 695.95V738.76M644.23 735.75V758.95M645.48 729.66V754.4M646.72 718.38V743.96M647.97 715.39V747.69M649.21 716.13V743.67M650.46 706.95V737.17M651.7 699.86V731.22M652.94 718.77V743.2M654.19 719.96V751.02M655.43 728.98V750.95M656.68 709.85V747.49M657.92 725.09V748.11M659.17 726.38V757.06M660.41 744.81V761.14M661.66 739.17V756.38M662.9 721.14V752.15M664.14 741.19V760" fill="none" stroke="#189494" stroke-width="0.85" stroke-dasharray="1 0.6"/>
<polyline points="477.48,738.72 478.73,726.58 479.97,745.8 481.22,734.28 482.46,762.65 483.71,744.48 484.95,755.93 486.19,756.28 487.44,748.23 488.68,746.17 489.93,733.49 491.17,740.73 492.42,756.62 493.66,760.84 494.91,741.88 496.15,727.73 497.39,706.48 498.64,690.17 499.88,679.3 501.13,674.77 502.37,679.3 503.62,683.83 504.86,690.17 506.11,697.42 507.35,706.48 508.59,715.54 509.84,720.07 511.08,735.43 512.33,753.66 513.57,738.51 514.82,734.67 516.06,738.88 517.3,749.44 518.55,726.94 519.79,748.92 521.04,731.44 522.28,749.38 523.53,747.78 524.77,755.38 526.02,743.71 527.26,750.45 528.5,755.28 529.75,753.19 530.99,739.8 532.24,749.67 533.48,748.39 534.73,745.92 535.97,741.65 537.22,752.3 538.46,755.7 539.7,722 540.95,741.4 542.19,744.45 543.44,755.89 544.68,748.86 545.93,743.08 547.17,747.33 548.41,745.43 549.66,742.68 550.9,727.43 552.15,747.82 553.39,746.52 554.64,725.64 555.88,744.17 557.13,748.27 558.37,757.3 559.61,739.85 560.86,744.53 562.1,744.33 563.35,749.07 564.59,749.35 565.84,743.81 567.08,734.47 568.33,753.69 569.57,752.71 570.81,744.4 572.06,745.64 573.3,745.57 574.55,748.63 575.79,724.34 577.04,754.74 578.28,723.17 579.52,742.79 580.77,749.92 582.01,754.54 583.26,754.52 584.5,755.85 585.75,716.31 586.99,748.78 588.24,745.03 589.48,741.29 590.72,740.13 591.97,749.9 593.21,755.87 594.46,752.49 595.7,758.54 596.95,716.57 598.19,744.85 599.44,752.99 600.68,751.01 601.92,747.23 603.17,750.33 604.41,733.46 605.66,753.08 606.9,753.77 608.15,748.74 609.39,751.39 610.63,741.55 611.88,746.43 613.12,740.46 614.37,712.32 615.61,741.89 616.86,736.67 618.1,752.72 619.35,750.61 620.59,744.78 621.83,734.13 623.08,747.03 624.32,745.94 625.57,731.43 626.81,748.44 628.06,740.65 629.3,729.62 630.55,729.37 631.79,751.6 633.03,751.59 634.28,747.08 635.52,730.13 636.77,742.92 638.01,739.92 639.26,730.84 640.5,709.78 641.74,737.07 642.99,717.35 644.23,747.35 645.48,742.03 646.72,731.17 647.97,731.54 649.21,729.9 650.46,722.06 651.7,715.54 652.94,730.99 654.19,735.49 655.43,739.97 656.68,728.67 657.92,736.6 659.17,741.72 660.41,752.98 661.66,747.78 662.9,736.65 664.14,750.6" fill="none" stroke="#148c8c" stroke-width="0.9" stroke-linejoin="round" marker-start="url(#mk1)" marker-mid="url(#mk1)" marker-end="url(#mk1)"/>
<path d="M477.48 694.13V746.41M478.73 738.79V762.34M479.97 700.68V743.12M481.22 736.46V766.71M482.46 710.5V753.93M483.71 684.93V743.22M484.95 713.27V755.38M486.19 719.36V752.23M487.44 663.2V730.88M488.68 710.09V753.7M489.93 727.67V759.65M491.17 729.76V765.04M492.42 715.83V752.15M493.66 699.78V751.23M494.91 730.12V763.2M496.15 689.81V737.65M497.39 655.29V721.43M498.64 615.52V708.65M499.88 637.88V720.72M501.13 667.2V727.64M502.37 680.52V736.07M503.62 685.26V742.2M504.86 742.29V763.79M506.11 690.33V745.81M507.35 742.82V767.02M508.59 721.97V753.23M509.84 716.42V753.49M511.08 720.96V757.56M512.33 725.57V758.46M513.57 715.61V756M514.82 730.87V758.21M516.06 740.15V768.67M517.3 723.86V756.95M518.55 716.4V756.07M519.79 730.66V762.64M521.04 743.79V766.84M522.28 724.12V757.28M523.53 696.98V748.25M524.77 728.49V764.56M526.02 739.59V768.28M527.26 694.91V745.23M528.5 718.72V753.87M529.75 737.75V760.67M530.99 696.03V749.55M532.24 693.29V745.74M533.48 734.4V766.24M534.73 729.33V759.23M535.97 709.89V752.64M537.22 728.99V765.09M538.46 710.96V755.25M539.7 726.63V760.47M540.95 685.33V738.31M542.19 719.14V755.34M543.44 715.64V757.98M544.68 701.09V746.36M545.93 721.6V758.89M547.17 738.09V765.87M548.41 671.88V737.46M549.66 738.76V768.11M550.9 744.55V765.94M552.15 706.84V745.57M553.39 734.23V760.9M554.64 740.51V765.34M555.88 711.21V753.08M557.13 709.97V754.64M558.37 733.35V766.31M559.61 710.27V747.56M560.86 715.85V757.57M562.1 739.58V768.53M563.35 742.73V770.53M564.59 716.7V755.53M565.84 726.87V757.54M567.08 698.39V749.52M568.33 728.29V763.17M569.57 735.02V765.2M570.81 719.43V760M572.06 721.82V755.84M573.3 724.49V754.65M574.55 738.87V765.79M575.79 719.23V758.82M577.04 739.56V762.82M578.28 723.96V760.61M579.52 730V765.14M580.77 718.57V753.26M582.01 734.48V764.22M583.26 718.98V757.59M584.5 727.77V759.75M585.75 723.07V755.12M586.99 728.26V758.01M588.24 741.78V769M589.48 717.33V757.87M590.72 724.11V757.97M591.97 743.23V763.5M593.21 734.16V765.93M594.46 715.63V756.89M595.7 694.57V741.95M596.95 707.1V751.08M598.19 738.9V769.01M599.44 683.8V742.97M600.68 716.97V755.19M601.92 735.73V763.59M603.17 701.57V748.57M604.41 728.77V757.64M605.66 720.43V753.74M606.9 722.32V754.52M608.15 738.39V766.94M609.39 738.13V763.66M610.63 728.25V760.89M611.88 695.96V744.19M613.12 735.37V763.8M614.37 730.97V758.3M615.61 736.41V759.88M616.86 727.99V764.81M618.1 705.82V748.56M619.35 707.77V746.98M620.59 739.96V767.04M621.83 722.77V760.39M623.08 738.48V761.9M624.32 728.95V761.53M625.57 743.73V766.13M626.81 695.21V744.93M628.06 726.25V754.88M629.3 732.34V757.87M630.55 715.99V759.09M631.79 725.57V762.45M633.03 730.92V761.42M634.28 732.16V762.76M635.52 733.35V760.47M636.77 723.58V760.7M638.01 718.69V755.11M639.26 691.27V747.06M640.5 702.68V750.75M641.74 710.79V755.05M642.99 740.77V770.51M644.23 724.43V756.2M645.48 744.26V763.52M646.72 690.9V739.93M647.97 719.51V753.2M649.21 720.56V752.79M650.46 734.41V759.01M651.7 695.83V745.57M652.94 728.38V763.81M654.19 740.38V765.61M655.43 693.27V748M656.68 707.8V754.49M657.92 730.32V757.2M659.17 743.35V768.31M660.41 723.39V757.05M661.66 745.19V764.72M662.9 741.78V770.94M664.14 714.46V751.54" fill="none" stroke="#333" stroke-width="0.85" stroke-dasharray="1 0.6"/>
<polyline points="477.48,720.27 478.73,750.57 479.97,721.9 481.22,751.59 482.46,732.21 483.71,714.07 484.95,734.32 486.19,735.8 487.44,697.04 488.68,731.9 489.93,743.66 491.17,747.4 492.42,733.99 493.66,725.5 494.91,746.66 496.15,713.73 497.39,688.36 498.64,662.09 499.88,679.3 501.13,697.42 502.37,708.29 503.62,713.73 504.86,753.04 506.11,718.07 507.35,754.92 508.59,737.6 509.84,734.96 511.08,739.26 512.33,742.01 513.57,735.8 514.82,744.54 516.06,754.41 517.3,740.41 518.55,736.24 519.79,746.65 521.04,755.32 522.28,740.7 523.53,722.62 524.77,746.52 526.02,753.93 527.26,720.07 528.5,736.3 529.75,749.21 530.99,722.79 532.24,719.51 533.48,750.32 534.73,744.28 535.97,731.27 537.22,747.04 538.46,733.1 539.7,743.55 540.95,711.82 542.19,737.24 543.44,736.81 544.68,723.72 545.93,740.24 547.17,751.98 548.41,704.67 549.66,753.43 550.9,755.25 552.15,726.2 553.39,747.56 554.64,752.92 555.88,732.15 557.13,732.3 558.37,749.83 559.61,728.92 560.86,736.71 562.1,754.05 563.35,756.63 564.59,736.12 565.84,742.2 567.08,723.96 568.33,745.73 569.57,750.11 570.81,739.72 572.06,738.83 573.3,739.57 574.55,752.33 575.79,739.03 577.04,751.19 578.28,742.28 579.52,747.57 580.77,735.91 582.01,749.35 583.26,738.28 584.5,743.76 585.75,739.09 586.99,743.14 588.24,755.39 589.48,737.6 590.72,741.04 591.97,753.37 593.21,750.05 594.46,736.26 595.7,718.26 596.95,729.09 598.19,753.96 599.44,713.39 600.68,736.08 601.92,749.66 603.17,725.07 604.41,743.21 605.66,737.08 606.9,738.42 608.15,752.67 609.39,750.9 610.63,744.57 611.88,720.08 613.12,749.59 614.37,744.64 615.61,748.15 616.86,746.4 618.1,727.19 619.35,727.37 620.59,753.5 621.83,741.58 623.08,750.19 624.32,745.24 625.57,754.93 626.81,720.07 628.06,740.56 629.3,745.1 630.55,737.54 631.79,744.01 633.03,746.17 634.28,747.46 635.52,746.91 636.77,742.14 638.01,736.9 639.26,719.16 640.5,726.71 641.74,732.92 642.99,755.64 644.23,740.31 645.48,753.89 646.72,715.42 647.97,736.35 649.21,736.68 650.46,746.71 651.7,720.7 652.94,746.1 654.19,753 655.43,720.64 656.68,731.15 657.92,743.76 659.17,755.83 660.41,740.22 661.66,754.96 662.9,756.36 664.14,733" fill="none" stroke="#000" stroke-width="0.9" stroke-linejoin="round" marker-start="url(#mk0)" marker-mid="url(#mk0)" marker-end="url(#mk0)"/>
<path d="M477.48 698.57V746.93M478.73 707.87V752.01M479.97 698.88V750.73M481.22 719.52V757.77M482.46 689.85V741.23M483.71 677.18V735.78M484.95 666.69V728.15M486.19 664.04V734.42M487.44 668.81V736.91M488.68 683.55V736.66M489.93 734.09V758.74M491.17 698.53V744.03M492.42 719.77V754.92M493.66 703.49V752.4M494.91 737.07V768.22M496.15 717.84V758.54M497.39 704.37V744.83M498.64 689.82V744.88M499.88 694.01V746.13M501.13 703.03V749.79M502.37 710.74V756.58M503.62 715.07V749.95M504.86 707.29V747.12M506.11 732.25V764.55M507.35 722.42V761.65M508.59 726.57V761.15M509.84 741.76V764.77M511.08 726.53V760.33M512.33 731.31V764.14M513.57 731.36V758.08M514.82 733.78V761.26M516.06 729.63V758.67M517.3 747.66V765.92M518.55 712.39V752.65M519.79 742.93V764.11M521.04 743.57V765.06M522.28 751.75V768.02M523.53 740.33V767.63M524.77 749.79V765.88M526.02 743.39V769.45M527.26 732.55V759.47M528.5 725.74V754.78M529.75 738.25V768.99M530.99 746.88V766.45M532.24 710.42V755.95M533.48 728.52V763.84M534.73 736.44V767.77M535.97 730.64V758.06M537.22 732.67V761.88M538.46 744.29V764.08M539.7 724.77V762.65M540.95 741.34V769.64M542.19 741.44V767.7M543.44 749.77V769.97M544.68 729.45V759.36M545.93 713.11V756.18M547.17 738.74V765.02M548.41 726.76V760.79M549.66 746.03V765.33M550.9 739.95V763.2M552.15 748.15V765.52M553.39 731.18V763.66M554.64 731.41V762.28M555.88 744.25V764.51M557.13 738.86V768.74M558.37 749.21V767.98M559.61 732.76V761.59M560.86 732.09V758.89M562.1 743.5V765.33M563.35 727.04V762.89M564.59 734.21V761.55M565.84 740.17V762.8M567.08 739.31V765.41M568.33 741.1V764.64M569.57 731.46V765.56M570.81 732.48V758.69M572.06 743.72V772.04M573.3 745.59V764.32M574.55 738.45V768.78M575.79 743.89V769.22M577.04 745.73V765.82M578.28 729.32V760.59M579.52 743.39V765.42M580.77 728.22V758.02M582.01 746.11V765.92M583.26 735.36V762.37M584.5 744.08V772.32M585.75 727.52V764.59M586.99 712.1V756.66M588.24 749.36V766.47M589.48 736.64V762.28M590.72 733.56V766.49M591.97 740.02V761.7M593.21 746.57V771.02M594.46 718.19V753.63M595.7 738.56V769.61M596.95 749.14V765.61M598.19 747.05V772M599.44 742.97V765.74M600.68 737.02V761.06M601.92 743.71V762.92M603.17 744.97V771.26M604.41 738.3V765.27M605.66 738.05V761.98M606.9 743.25V766.75M608.15 748.4V772.62M609.39 742.04V764.15M610.63 747.14V769.85M611.88 737.96V761.48M613.12 744.57V764.99M614.37 743.5V769.99M615.61 733.55V764.76M616.86 751.04V768.19M618.1 727.5V756.01M619.35 747.7V765.6M620.59 744.71V769.05M621.83 744.45V767.88M623.08 753.8V770.21M624.32 743.09V764.53M625.57 750.33V771.73M626.81 744.71V769.98M628.06 748.06V772.52M629.3 742.83V767.93M630.55 752.58V768.97M631.79 741.06V762.27M633.03 722.75V759.87M634.28 735.84V763.01M635.52 750.28V772.62M636.77 748.55V765.7M638.01 739.62V768.54M639.26 750.82V769.38M640.5 746.51V772.07M641.74 735.25V766.99M642.99 749.42V770.19M644.23 748.59V765.34M645.48 730.31V765.09M646.72 739.87V765.54M647.97 749.54V772.62M649.21 717.54V753.07M650.46 752.53V768.79M651.7 740.73V769.26M652.94 748.02V768.36M654.19 744.39V764.75M655.43 741.72V765.43M656.68 724.92V759.61M657.92 747.06V764.52M659.17 738.91V765.49M660.41 744.82V767.58M661.66 733.27V762.8M662.9 731.12V758.11M664.14 722.58V759.63" fill="none" stroke="#f8307c" stroke-width="0.85" stroke-dasharray="1 0.6"/>
<polyline points="477.48,722.75 478.73,729.94 479.97,724.81 481.22,738.64 482.46,715.54 483.71,706.48 484.95,697.42 486.19,699.23 487.44,702.86 488.68,710.1 489.93,746.41 491.17,721.28 492.42,737.34 493.66,727.94 494.91,752.65 496.15,738.19 497.39,724.6 498.64,717.35 499.88,720.07 501.13,726.41 502.37,733.66 503.62,732.51 504.86,727.2 506.11,748.4 507.35,742.03 508.59,743.86 509.84,753.27 511.08,743.43 512.33,747.72 513.57,744.72 514.82,747.52 516.06,744.15 517.3,756.79 518.55,732.52 519.79,753.52 521.04,754.31 522.28,759.89 523.53,753.98 524.77,757.84 526.02,756.42 527.26,746.01 528.5,740.26 529.75,753.62 530.99,756.66 532.24,733.18 533.48,746.18 534.73,752.11 535.97,744.35 537.22,747.27 538.46,754.19 539.7,743.71 540.95,755.49 542.19,754.57 543.44,759.87 544.68,744.41 545.93,734.64 547.17,751.88 548.41,743.77 549.66,755.68 550.9,751.57 552.15,756.83 553.39,747.42 554.64,746.84 555.88,754.38 557.13,753.8 558.37,758.6 559.61,747.18 560.86,745.49 562.1,754.41 563.35,744.97 564.59,747.88 565.84,751.49 567.08,752.36 568.33,752.87 569.57,748.51 570.81,745.58 572.06,757.88 573.3,754.96 574.55,753.62 575.79,756.56 577.04,755.78 578.28,744.95 579.52,754.41 580.77,743.12 582.01,756.01 583.26,748.87 584.5,758.2 585.75,746.06 586.99,734.38 588.24,757.91 589.48,749.46 590.72,750.02 591.97,750.86 593.21,758.8 594.46,735.91 595.7,754.08 596.95,757.37 598.19,759.53 599.44,754.35 600.68,749.04 601.92,753.32 603.17,758.11 604.41,751.79 605.66,750.01 606.9,755 608.15,761.01 609.39,753.09 610.63,758.49 611.88,749.72 613.12,754.78 614.37,756.75 615.61,749.15 616.86,759.62 618.1,741.75 619.35,756.65 620.59,756.88 621.83,756.16 623.08,762 624.32,753.81 625.57,761.03 626.81,757.34 628.06,760.29 629.3,755.38 630.55,760.77 631.79,751.66 633.03,741.31 634.28,749.43 635.52,761.5 636.77,757.12 638.01,754.08 639.26,760.1 640.5,759.29 641.74,751.12 642.99,759.8 644.23,756.97 645.48,747.7 646.72,752.71 647.97,761.66 649.21,735.31 650.46,760.66 651.7,755 652.94,758.19 654.19,754.57 655.43,753.57 656.68,742.27 657.92,755.79 659.17,752.2 660.41,756.2 661.66,748.03 662.9,744.61 664.14,741.11" fill="none" stroke="#f0106c" stroke-width="0.9" stroke-linejoin="round" marker-start="url(#mk2)" marker-mid="url(#mk2)" marker-end="url(#mk2)"/>
</g>
<line x1="477.3" y1="633.2" x2="477.3" y2="769.9" stroke="#000" stroke-width="1.1"/>
<line x1="476.85" y1="769.9" x2="683" y2="769.9" stroke="#000" stroke-width="1.1"/>
<line x1="473.3" y1="769.9" x2="477.3" y2="769.9" stroke="#000" stroke-width="1.1"/>
<text x="471.8" y="772.55" font-size="7.4" text-anchor="end">0</text>
<line x1="473.3" y1="724.6" x2="477.3" y2="724.6" stroke="#000" stroke-width="1.1"/>
<text x="471.8" y="727.25" font-size="7.4" text-anchor="end">50</text>
<line x1="473.3" y1="679.3" x2="477.3" y2="679.3" stroke="#000" stroke-width="1.1"/>
<text x="471.8" y="681.95" font-size="7.4" text-anchor="end">100</text>
<line x1="473.3" y1="634" x2="477.3" y2="634" stroke="#000" stroke-width="1.1"/>
<text x="471.8" y="636.65" font-size="7.4" text-anchor="end">150</text>
<line x1="477.58" y1="769.9" x2="477.58" y2="773.9" stroke="#000" stroke-width="1.1"/>
<text transform="translate(477.88 775.5) rotate(-90)" x="0" y="2.72" font-size="7.6" text-anchor="end">-60</text>
<line x1="496.25" y1="769.9" x2="496.25" y2="773.9" stroke="#000" stroke-width="1.1"/>
<text transform="translate(496.55 775.5) rotate(-90)" x="0" y="2.72" font-size="7.6" text-anchor="end">0</text>
<line x1="514.92" y1="769.9" x2="514.92" y2="773.9" stroke="#000" stroke-width="1.1"/>
<text transform="translate(515.22 775.5) rotate(-90)" x="0" y="2.72" font-size="7.6" text-anchor="end">60</text>
<line x1="533.58" y1="769.9" x2="533.58" y2="773.9" stroke="#000" stroke-width="1.1"/>
<text transform="translate(533.88 775.5) rotate(-90)" x="0" y="2.72" font-size="7.6" text-anchor="end">120</text>
<line x1="552.25" y1="769.9" x2="552.25" y2="773.9" stroke="#000" stroke-width="1.1"/>
<text transform="translate(552.55 775.5) rotate(-90)" x="0" y="2.72" font-size="7.6" text-anchor="end">180</text>
<line x1="570.91" y1="769.9" x2="570.91" y2="773.9" stroke="#000" stroke-width="1.1"/>
<text transform="translate(571.21 775.5) rotate(-90)" x="0" y="2.72" font-size="7.6" text-anchor="end">240</text>
<line x1="589.58" y1="769.9" x2="589.58" y2="773.9" stroke="#000" stroke-width="1.1"/>
<text transform="translate(589.88 775.5) rotate(-90)" x="0" y="2.72" font-size="7.6" text-anchor="end">300</text>
<line x1="608.25" y1="769.9" x2="608.25" y2="773.9" stroke="#000" stroke-width="1.1"/>
<text transform="translate(608.55 775.5) rotate(-90)" x="0" y="2.72" font-size="7.6" text-anchor="end">360</text>
<line x1="626.91" y1="769.9" x2="626.91" y2="773.9" stroke="#000" stroke-width="1.1"/>
<text transform="translate(627.21 775.5) rotate(-90)" x="0" y="2.72" font-size="7.6" text-anchor="end">420</text>
<line x1="645.58" y1="769.9" x2="645.58" y2="773.9" stroke="#000" stroke-width="1.1"/>
<text transform="translate(645.88 775.5) rotate(-90)" x="0" y="2.72" font-size="7.6" text-anchor="end">480</text>
<line x1="664.24" y1="769.9" x2="664.24" y2="773.9" stroke="#000" stroke-width="1.1"/>
<text transform="translate(664.54 775.5) rotate(-90)" x="0" y="2.72" font-size="7.6" text-anchor="end">540</text>
<line x1="682.91" y1="769.9" x2="682.91" y2="773.9" stroke="#000" stroke-width="1.1"/>
<text transform="translate(683.21 775.5) rotate(-90)" x="0" y="2.72" font-size="7.6" text-anchor="end">600</text>
<text x="580.3" y="800.44" font-size="8.2" text-anchor="middle" textLength="39.5" lengthAdjust="spacingAndGlyphs">Time (min)</text>
<text transform="translate(451.8 703.6) rotate(-90)" x="0" y="2.51" font-size="7" text-anchor="middle" textLength="47" lengthAdjust="spacingAndGlyphs">Activity counts</text>
<line x1="496.15" y1="629.5" x2="496.15" y2="769.9" stroke="#000" stroke-width="0.9" stroke-dasharray="1.8 1.4"/>
<polyline points="518.6,634 526.3,634 534,634" fill="none" stroke="#000" stroke-width="0.8" marker-mid="url(#mk0)"/>
<text x="540.7" y="636.51" font-size="7" textLength="65" lengthAdjust="spacingAndGlyphs">hM3Dq-Saline, n=6</text>
<polyline points="518.6,644.9 526.3,644.9 534,644.9" fill="none" stroke="#148c8c" stroke-width="0.8" marker-mid="url(#mk1)"/>
<text x="540.7" y="647.41" font-size="7" textLength="127.2" lengthAdjust="spacingAndGlyphs">hM3Dq-Saline &amp; Sympathectomy, n=6</text>
<polyline points="518.6,654.6 526.3,654.6 534,654.6" fill="none" stroke="#f0106c" stroke-width="0.8" marker-mid="url(#mk2)"/>
<text x="540.7" y="657.11" font-size="7" textLength="61.5" lengthAdjust="spacingAndGlyphs">hM3Dq-CNO, n=6</text>
<polyline points="518.6,664.3 526.3,664.3 534,664.3" fill="none" stroke="#4a0c8c" stroke-width="0.8" marker-mid="url(#mk3)"/>
<text x="540.7" y="666.81" font-size="7" textLength="122.5" lengthAdjust="spacingAndGlyphs">hM3Dq-CNO &amp; Sympathectomy, n=5</text>
<line x1="669.7" y1="633.9" x2="669.7" y2="644.6" stroke="#777" stroke-width="0.9"/>
<text transform="translate(674.8 637.8) rotate(90)" x="0" y="2.43" font-size="6.8" text-anchor="middle">ns</text>
<line x1="664.4" y1="655.2" x2="664.4" y2="666.7" stroke="#333" stroke-width="0.8"/>
<text transform="translate(668.6 661.5) rotate(90)" x="0" y="2.43" font-size="6.8" text-anchor="middle">ns</text>
</svg>
</body></html>
